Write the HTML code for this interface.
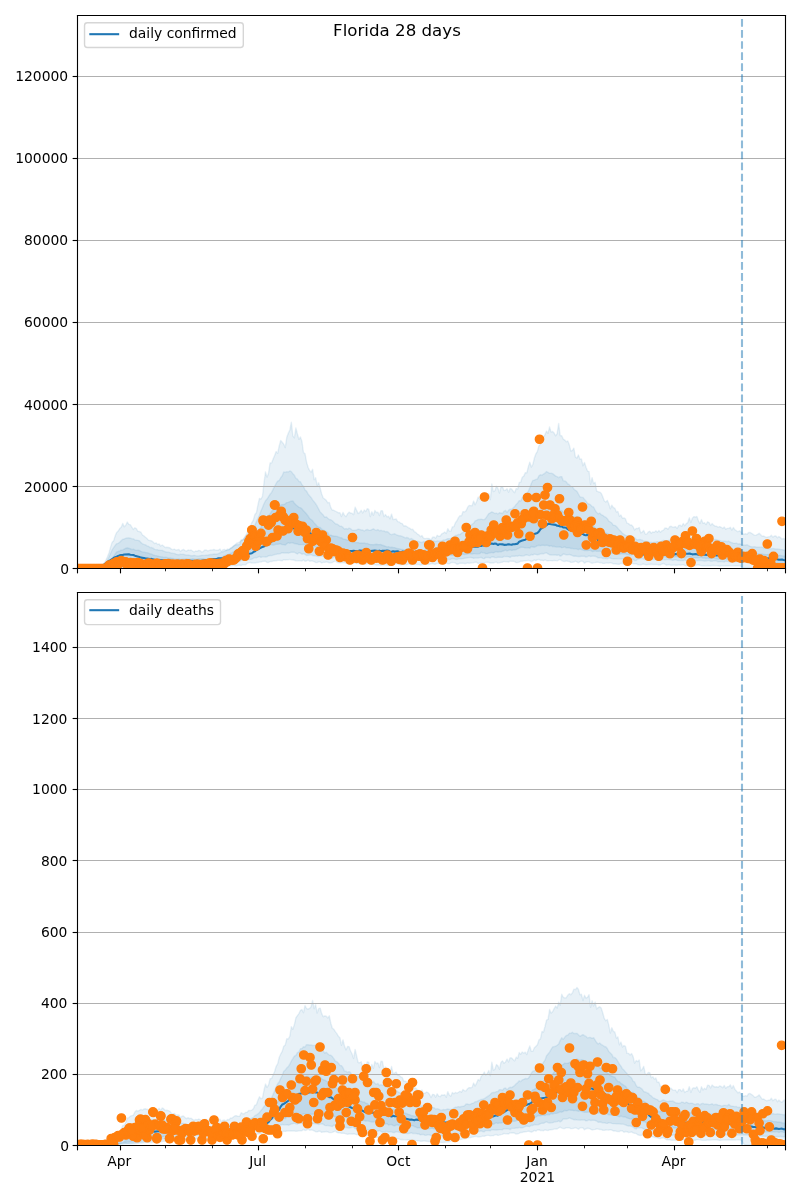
<!DOCTYPE html>
<html><head><meta charset="utf-8"><title>Florida 28 days</title>
<style>html,body{margin:0;padding:0;background:#fff;width:800px;height:1200px;overflow:hidden}svg{display:block;will-change:transform}</style></head><body>
<svg width="800" height="1200" viewBox="0 0 576 864" version="1.1">
 
 <defs>
  <style type="text/css">*{stroke-linejoin: round; stroke-linecap: butt}</style>
 </defs>
 <g id="figure_1">
  <g id="patch_1">
   <path d="M 0 864 
L 576 864 
L 576 0 
L 0 0 
z
" style="fill: #ffffff"/>
  </g>
  <g id="axes_1">
   <g id="patch_2">
    <path d="M 55.548 408.96 
L 565.20288 408.96 
L 565.20288 10.8 
L 55.548 10.8 
z
" style="fill: #ffffff"/>
   </g>
   <g id="FillBetweenPolyCollection_1">
    <defs>
     <path id="m5fece235d2" d="M 55.548 -455.04 
L 55.548 -455.04 
L 56.64168 -455.04 
L 57.73536 -455.04 
L 58.82904 -455.04 
L 59.92272 -455.04 
L 61.0164 -455.053448 
L 62.11008 -455.04 
L 63.20376 -455.085546 
L 64.29744 -455.04 
L 65.39112 -455.04 
L 66.4848 -455.04 
L 67.57848 -455.04 
L 68.67216 -455.04 
L 69.76584 -455.041145 
L 70.85952 -455.04 
L 71.9532 -455.193233 
L 73.04688 -455.256135 
L 74.14056 -455.283198 
L 75.23424 -455.174956 
L 76.32792 -455.238031 
L 77.4216 -455.080925 
L 78.51528 -455.079008 
L 79.60896 -455.180148 
L 80.70264 -455.195719 
L 81.79632 -455.047653 
L 82.89 -455.056411 
L 83.98368 -455.231377 
L 85.07736 -455.219064 
L 86.17104 -455.379794 
L 87.26472 -455.361993 
L 88.3584 -455.353535 
L 89.45208 -455.372654 
L 90.54576 -455.428062 
L 91.63944 -455.388473 
L 92.73312 -455.463944 
L 93.8268 -455.367399 
L 94.92048 -455.371368 
L 96.01416 -455.377531 
L 97.10784 -455.487534 
L 98.20152 -455.461662 
L 99.2952 -455.442455 
L 100.38888 -455.649883 
L 101.48256 -455.516541 
L 102.57624 -455.519796 
L 103.66992 -455.61157 
L 104.7636 -455.721255 
L 105.85728 -455.612196 
L 106.95096 -455.656541 
L 108.04464 -455.60629 
L 109.13832 -455.516176 
L 110.232 -455.706418 
L 111.32568 -455.761889 
L 112.41936 -455.675763 
L 113.51304 -455.660154 
L 114.60672 -455.549429 
L 115.7004 -455.557317 
L 116.79408 -455.692425 
L 117.88776 -455.799338 
L 118.98144 -455.752833 
L 120.07512 -455.828568 
L 121.1688 -455.902576 
L 122.26248 -455.863979 
L 123.35616 -455.922723 
L 124.44984 -455.974385 
L 125.54352 -455.807398 
L 126.6372 -455.898821 
L 127.73088 -455.764851 
L 128.82456 -455.931641 
L 129.91824 -455.957675 
L 131.01192 -455.892583 
L 132.1056 -455.86426 
L 133.19928 -455.95585 
L 134.29296 -455.969645 
L 135.38664 -456.006495 
L 136.48032 -455.965297 
L 137.574 -456.070177 
L 138.66768 -455.9741 
L 139.76136 -456.027494 
L 140.85504 -456.087405 
L 141.94872 -456.214952 
L 143.0424 -455.998301 
L 144.13608 -456.103646 
L 145.22976 -456.278536 
L 146.32344 -456.113747 
L 147.41712 -456.054968 
L 148.5108 -456.217058 
L 149.60448 -456.232818 
L 150.69816 -456.323776 
L 151.79184 -456.187174 
L 152.88552 -456.304931 
L 153.9792 -456.419878 
L 155.07288 -456.439439 
L 156.16656 -456.264075 
L 157.26024 -456.48221 
L 158.35392 -456.250773 
L 159.4476 -456.135022 
L 160.54128 -456.237249 
L 161.63496 -456.40415 
L 162.72864 -456.41011 
L 163.82232 -456.519348 
L 164.916 -456.561899 
L 166.00968 -456.591621 
L 167.10336 -456.723204 
L 168.19704 -457.070656 
L 169.29072 -456.575032 
L 170.3844 -456.670571 
L 171.47808 -457.048448 
L 172.57176 -457.003442 
L 173.66544 -456.855009 
L 174.75912 -457.361211 
L 175.8528 -457.508394 
L 176.94648 -457.348744 
L 178.04016 -458.412566 
L 179.13384 -458.945871 
L 180.22752 -459.007675 
L 181.3212 -458.606098 
L 182.41488 -458.762997 
L 183.50856 -458.618543 
L 184.60224 -459.008719 
L 185.69592 -458.958453 
L 186.7896 -459.295539 
L 187.88328 -459.294087 
L 188.97696 -459.785341 
L 190.07064 -459.925632 
L 191.16432 -459.918539 
L 192.258 -459.008182 
L 193.35168 -458.963829 
L 194.44536 -459.736266 
L 195.53904 -459.709841 
L 196.63272 -460.050225 
L 197.7264 -460.158174 
L 198.82008 -460.242819 
L 199.91376 -460.545286 
L 201.00744 -460.544975 
L 202.10112 -460.462695 
L 203.1948 -460.250391 
L 204.28848 -461.02821 
L 205.38216 -460.814615 
L 206.47584 -461.058854 
L 207.56952 -461.007155 
L 208.6632 -461.274394 
L 209.75688 -460.906778 
L 210.85056 -460.770639 
L 211.94424 -460.614981 
L 213.03792 -460.252282 
L 214.1316 -460.200282 
L 215.22528 -460.294488 
L 216.31896 -460.203393 
L 217.41264 -460.084328 
L 218.50632 -460.876269 
L 219.6 -459.933795 
L 220.69368 -460.059361 
L 221.78736 -460.777981 
L 222.88104 -459.929966 
L 223.97472 -460.121893 
L 225.0684 -460.058563 
L 226.16208 -459.583416 
L 227.25576 -459.009254 
L 228.34944 -458.921627 
L 229.44312 -459.421417 
L 230.5368 -459.426313 
L 231.63048 -458.655785 
L 232.72416 -459.14621 
L 233.81784 -459.084843 
L 234.91152 -459.447739 
L 236.0052 -459.168985 
L 237.09888 -458.729889 
L 238.19256 -458.764026 
L 239.28624 -459.00282 
L 240.37992 -459.571539 
L 241.4736 -460.012453 
L 242.56728 -459.121392 
L 243.66096 -458.824408 
L 244.75464 -458.907015 
L 245.84832 -458.709574 
L 246.942 -458.81386 
L 248.03568 -458.693872 
L 249.12936 -458.435662 
L 250.22304 -458.161946 
L 251.31672 -458.414084 
L 252.4104 -458.601444 
L 253.50408 -458.429834 
L 254.59776 -458.718964 
L 255.69144 -458.507001 
L 256.78512 -458.211583 
L 257.8788 -458.450449 
L 258.97248 -457.829234 
L 260.06616 -458.285477 
L 261.15984 -458.421116 
L 262.25352 -457.839202 
L 263.3472 -457.763237 
L 264.44088 -458.010527 
L 265.53456 -458.075893 
L 266.62824 -457.784294 
L 267.72192 -457.661056 
L 268.8156 -457.719237 
L 269.90928 -457.468688 
L 271.00296 -457.100214 
L 272.09664 -457.213801 
L 273.19032 -457.176371 
L 274.284 -456.94904 
L 275.37768 -457.257869 
L 276.47136 -457.191094 
L 277.56504 -457.381745 
L 278.65872 -457.008203 
L 279.7524 -457.024746 
L 280.84608 -457.082866 
L 281.93976 -457.705601 
L 283.03344 -457.876088 
L 284.12712 -457.949947 
L 285.2208 -457.961476 
L 286.31448 -457.853713 
L 287.40816 -457.715289 
L 288.50184 -457.215181 
L 289.59552 -457.554106 
L 290.6892 -457.489629 
L 291.78288 -457.464281 
L 292.87656 -457.404929 
L 293.97024 -457.962486 
L 295.06392 -457.741471 
L 296.1576 -457.385365 
L 297.25128 -457.80312 
L 298.34496 -457.728022 
L 299.43864 -457.499025 
L 300.53232 -457.632831 
L 301.626 -457.476815 
L 302.71968 -457.094416 
L 303.81336 -457.350271 
L 304.90704 -457.96697 
L 306.00072 -458.059329 
L 307.0944 -457.961957 
L 308.18808 -457.600309 
L 309.28176 -457.73677 
L 310.37544 -458.024491 
L 311.46912 -458.176452 
L 312.5628 -457.775266 
L 313.65648 -457.774855 
L 314.75016 -458.372048 
L 315.84384 -458.187481 
L 316.93752 -457.98243 
L 318.0312 -457.870974 
L 319.12488 -458.042535 
L 320.21856 -458.727038 
L 321.31224 -458.619304 
L 322.40592 -458.10988 
L 323.4996 -457.971618 
L 324.59328 -458.86632 
L 325.68696 -459.037927 
L 326.78064 -458.915381 
L 327.87432 -458.607424 
L 328.968 -457.749831 
L 330.06168 -457.904758 
L 331.15536 -458.527163 
L 332.24904 -458.438248 
L 333.34272 -458.526487 
L 334.4364 -458.313833 
L 335.53008 -458.322597 
L 336.62376 -458.683101 
L 337.71744 -458.495397 
L 338.81112 -458.605751 
L 339.9048 -458.748809 
L 340.99848 -458.853809 
L 342.09216 -459.218679 
L 343.18584 -459.179602 
L 344.27952 -458.336794 
L 345.3732 -458.512709 
L 346.46688 -458.591731 
L 347.56056 -458.943634 
L 348.65424 -458.569425 
L 349.74792 -459.100067 
L 350.8416 -459.227527 
L 351.93528 -459.085043 
L 353.02896 -458.609428 
L 354.12264 -458.718002 
L 355.21632 -458.605387 
L 356.31 -459.12709 
L 357.40368 -459.300646 
L 358.49736 -458.576453 
L 359.59104 -458.738935 
L 360.68472 -459.052357 
L 361.7784 -459.180498 
L 362.87208 -459.797683 
L 363.96576 -459.457461 
L 365.05944 -459.42555 
L 366.15312 -459.229704 
L 367.2468 -460.013758 
L 368.34048 -459.829212 
L 369.43416 -459.942427 
L 370.52784 -459.633831 
L 371.62152 -458.897258 
L 372.7152 -458.992944 
L 373.80888 -459.329524 
L 374.90256 -459.954204 
L 375.99624 -459.866784 
L 377.08992 -460.167716 
L 378.1836 -460.240589 
L 379.27728 -460.322034 
L 380.37096 -460.554475 
L 381.46464 -460.262002 
L 382.55832 -459.690208 
L 383.652 -460.123569 
L 384.74568 -460.870031 
L 385.83936 -460.321587 
L 386.93304 -461.050919 
L 388.02672 -461.222286 
L 389.1204 -460.577015 
L 390.21408 -460.661145 
L 391.30776 -460.335036 
L 392.40144 -460.907564 
L 393.49512 -460.430141 
L 394.5888 -460.139716 
L 395.68248 -460.363564 
L 396.77616 -460.345861 
L 397.86984 -460.300265 
L 398.96352 -460.48404 
L 400.0572 -460.3222 
L 401.15088 -460.187334 
L 402.24456 -460.775415 
L 403.33824 -461.184045 
L 404.43192 -460.351165 
L 405.5256 -459.82507 
L 406.61928 -459.730133 
L 407.71296 -460.14804 
L 408.80664 -459.934895 
L 409.90032 -459.760101 
L 410.994 -459.082121 
L 412.08768 -459.177558 
L 413.18136 -459.336648 
L 414.27504 -459.93087 
L 415.36872 -459.439621 
L 416.4624 -458.735978 
L 417.55608 -459.60992 
L 418.64976 -460.022084 
L 419.74344 -459.766738 
L 420.83712 -458.4998 
L 421.9308 -459.226854 
L 423.02448 -459.612299 
L 424.11816 -459.471247 
L 425.21184 -458.985751 
L 426.30552 -458.418589 
L 427.3992 -458.736428 
L 428.49288 -458.891842 
L 429.58656 -459.167043 
L 430.68024 -459.136723 
L 431.77392 -458.858099 
L 432.8676 -458.977252 
L 433.96128 -458.361594 
L 435.05496 -458.34419 
L 436.14864 -458.593516 
L 437.24232 -458.72954 
L 438.336 -458.525081 
L 439.42968 -458.865953 
L 440.52336 -458.548715 
L 441.61704 -458.066668 
L 442.71072 -458.186538 
L 443.8044 -457.893599 
L 444.89808 -457.726947 
L 445.99176 -457.717644 
L 447.08544 -458.468938 
L 448.17912 -458.317452 
L 449.2728 -457.694315 
L 450.36648 -458.297578 
L 451.46016 -458.313485 
L 452.55384 -457.951408 
L 453.64752 -458.200327 
L 454.7412 -458.598566 
L 455.83488 -458.133475 
L 456.92856 -458.07039 
L 458.02224 -458.11827 
L 459.11592 -457.531379 
L 460.2096 -457.31421 
L 461.30328 -457.319248 
L 462.39696 -457.699029 
L 463.49064 -457.903098 
L 464.58432 -457.450415 
L 465.678 -457.28874 
L 466.77168 -457.615674 
L 467.86536 -457.587815 
L 468.95904 -457.740784 
L 470.05272 -457.58381 
L 471.1464 -457.514276 
L 472.24008 -457.519574 
L 473.33376 -457.478848 
L 474.42744 -457.214038 
L 475.52112 -457.242228 
L 476.6148 -457.926112 
L 477.70848 -458.28413 
L 478.80216 -457.736313 
L 479.89584 -457.066919 
L 480.98952 -457.344275 
L 482.0832 -457.524698 
L 483.17688 -456.986371 
L 484.27056 -457.085877 
L 485.36424 -457.110161 
L 486.45792 -456.98658 
L 487.5516 -457.043053 
L 488.64528 -457.346436 
L 489.73896 -457.109425 
L 490.83264 -457.153072 
L 491.92632 -457.420999 
L 493.02 -456.917762 
L 494.11368 -456.685053 
L 495.20736 -457.178841 
L 496.30104 -457.448135 
L 497.39472 -457.134945 
L 498.4884 -456.990088 
L 499.58208 -456.686982 
L 500.67576 -456.762255 
L 501.76944 -457.181465 
L 502.86312 -457.183239 
L 503.9568 -456.982017 
L 505.05048 -456.705248 
L 506.14416 -456.556322 
L 507.23784 -456.544363 
L 508.33152 -456.581411 
L 509.4252 -456.816882 
L 510.51888 -456.641073 
L 511.61256 -456.669035 
L 512.70624 -456.862654 
L 513.79992 -456.864043 
L 514.8936 -456.760925 
L 515.98728 -456.777755 
L 517.08096 -456.634596 
L 518.17464 -456.358428 
L 519.26832 -456.563429 
L 520.362 -456.560792 
L 521.45568 -456.566683 
L 522.54936 -456.621339 
L 523.64304 -456.562383 
L 524.73672 -456.749352 
L 525.8304 -456.593248 
L 526.92408 -456.590697 
L 528.01776 -456.596043 
L 529.11144 -456.539495 
L 530.20512 -456.63304 
L 531.2988 -456.65584 
L 532.39248 -456.585499 
L 533.48616 -456.371532 
L 534.57984 -455.399408 
L 535.67352 -455.04 
L 536.7672 -455.04 
L 537.86088 -455.04 
L 538.95456 -455.04 
L 540.04824 -455.04 
L 541.14192 -455.04 
L 542.2356 -455.04 
L 543.32928 -455.04 
L 544.42296 -455.04 
L 545.51664 -455.04 
L 546.61032 -455.04 
L 547.704 -455.04 
L 548.79768 -455.04 
L 549.89136 -455.04 
L 550.98504 -455.04 
L 552.07872 -455.04 
L 553.1724 -455.04 
L 554.26608 -455.04 
L 555.35976 -455.04 
L 556.45344 -455.04 
L 557.54712 -455.04 
L 558.6408 -455.04 
L 559.73448 -455.04 
L 560.82816 -455.04 
L 561.92184 -455.04 
L 563.01552 -455.04 
L 564.1092 -455.04 
L 565.20288 -455.04 
L 565.20288 -475.935847 
L 565.20288 -475.935847 
L 564.1092 -476.268742 
L 563.01552 -475.953919 
L 561.92184 -476.918602 
L 560.82816 -477.724429 
L 559.73448 -476.796559 
L 558.6408 -478.185858 
L 557.54712 -478.047993 
L 556.45344 -477.231559 
L 555.35976 -478.687583 
L 554.26608 -477.612274 
L 553.1724 -477.465542 
L 552.07872 -477.150972 
L 550.98504 -477.5113 
L 549.89136 -478.04256 
L 548.79768 -477.93531 
L 547.704 -478.991022 
L 546.61032 -480.076767 
L 545.51664 -479.250725 
L 544.42296 -478.739888 
L 543.32928 -478.515832 
L 542.2356 -479.358196 
L 541.14192 -479.99039 
L 540.04824 -480.626983 
L 538.95456 -480.622082 
L 537.86088 -479.389247 
L 536.7672 -479.703509 
L 535.67352 -479.436965 
L 534.57984 -479.670696 
L 533.48616 -481.013376 
L 532.39248 -481.847285 
L 531.2988 -481.105645 
L 530.20512 -481.891055 
L 529.11144 -482.57474 
L 528.01776 -484.190522 
L 526.92408 -482.314202 
L 525.8304 -484.331373 
L 524.73672 -483.537462 
L 523.64304 -483.595408 
L 522.54936 -482.930957 
L 521.45568 -484.647122 
L 520.362 -483.538733 
L 519.26832 -484.354005 
L 518.17464 -484.871579 
L 517.08096 -484.440593 
L 515.98728 -485.061314 
L 514.8936 -485.228557 
L 513.79992 -485.856847 
L 512.70624 -487.028799 
L 511.61256 -485.711881 
L 510.51888 -487.739341 
L 509.4252 -488.314022 
L 508.33152 -486.284553 
L 507.23784 -487.624395 
L 506.14416 -487.199444 
L 505.05048 -489.940548 
L 503.9568 -487.005671 
L 502.86312 -488.999902 
L 501.76944 -492.113936 
L 500.67576 -491.716006 
L 499.58208 -492.030302 
L 498.4884 -490.910279 
L 497.39472 -487.763551 
L 496.30104 -491.17581 
L 495.20736 -487.760322 
L 494.11368 -487.031655 
L 493.02 -485.517603 
L 491.92632 -487.08611 
L 490.83264 -485.000833 
L 489.73896 -485.906133 
L 488.64528 -485.639458 
L 487.5516 -483.532732 
L 486.45792 -484.81889 
L 485.36424 -484.538531 
L 484.27056 -484.464726 
L 483.17688 -485.104819 
L 482.0832 -484.7351 
L 480.98952 -482.943827 
L 479.89584 -483.779032 
L 478.80216 -483.865842 
L 477.70848 -482.307811 
L 476.6148 -481.809727 
L 475.52112 -480.75991 
L 474.42744 -481.990816 
L 473.33376 -480.711691 
L 472.24008 -481.887786 
L 471.1464 -480.699169 
L 470.05272 -481.057987 
L 468.95904 -480.033009 
L 467.86536 -481.463534 
L 466.77168 -481.038447 
L 465.678 -479.582947 
L 464.58432 -479.451002 
L 463.49064 -482.110433 
L 462.39696 -480.932173 
L 461.30328 -480.345895 
L 460.2096 -484.195082 
L 459.11592 -483.397656 
L 458.02224 -483.577849 
L 456.92856 -482.433837 
L 455.83488 -484.709307 
L 454.7412 -486.035624 
L 453.64752 -485.992428 
L 452.55384 -486.991766 
L 451.46016 -487.331685 
L 450.36648 -490.374255 
L 449.2728 -491.116606 
L 448.17912 -490.829042 
L 447.08544 -493.223171 
L 445.99176 -492.25065 
L 444.89808 -495.79156 
L 443.8044 -495.340472 
L 442.71072 -498.101847 
L 441.61704 -498.575942 
L 440.52336 -500.30912 
L 439.42968 -497.649398 
L 438.336 -501.255567 
L 437.24232 -503.746095 
L 436.14864 -502.56239 
L 435.05496 -503.455275 
L 433.96128 -506.421381 
L 432.8676 -508.899674 
L 431.77392 -509.721816 
L 430.68024 -509.969844 
L 429.58656 -510.46655 
L 428.49288 -516.731896 
L 427.3992 -515.796076 
L 426.30552 -520.114817 
L 425.21184 -515.358787 
L 424.11816 -524.471329 
L 423.02448 -524.830756 
L 421.9308 -527.65506 
L 420.83712 -530.993188 
L 419.74344 -528.607239 
L 418.64976 -533.603135 
L 417.55608 -533.343886 
L 416.4624 -536.4962 
L 415.36872 -534.15862 
L 414.27504 -534.903875 
L 413.18136 -541.381611 
L 412.08768 -539.642911 
L 410.994 -539.217285 
L 409.90032 -543.709124 
L 408.80664 -546.457264 
L 407.71296 -545.950584 
L 406.61928 -547.150926 
L 405.5256 -547.855447 
L 404.43192 -550.308299 
L 403.33824 -550.378901 
L 402.24456 -559.142435 
L 401.15088 -551.816673 
L 400.0572 -550.22101 
L 398.96352 -552.178655 
L 397.86984 -553.336392 
L 396.77616 -552.895501 
L 395.68248 -556.545211 
L 394.5888 -551.971967 
L 393.49512 -553.591487 
L 392.40144 -551.14109 
L 391.30776 -549.335956 
L 390.21408 -550.256127 
L 389.1204 -544.332418 
L 388.02672 -543.071938 
L 386.93304 -539.070885 
L 385.83936 -537.248275 
L 384.74568 -534.255743 
L 383.652 -529.625107 
L 382.55832 -527.737563 
L 381.46464 -531.277124 
L 380.37096 -527.880846 
L 379.27728 -523.583282 
L 378.1836 -523.655066 
L 377.08992 -521.190623 
L 375.99624 -520.36445 
L 374.90256 -516.819011 
L 373.80888 -516.573004 
L 372.7152 -511.921098 
L 371.62152 -512.219072 
L 370.52784 -509.258586 
L 369.43416 -510.468413 
L 368.34048 -511.965959 
L 367.2468 -512.26656 
L 366.15312 -509.604288 
L 365.05944 -512.178265 
L 363.96576 -510.97449 
L 362.87208 -510.885979 
L 361.7784 -513.577686 
L 360.68472 -513.381331 
L 359.59104 -509.035589 
L 358.49736 -512.548249 
L 357.40368 -513.988119 
L 356.31 -510.696537 
L 355.21632 -510.035527 
L 354.12264 -515.62267 
L 353.02896 -504.239108 
L 351.93528 -508.749941 
L 350.8416 -506.865027 
L 349.74792 -506.165019 
L 348.65424 -509.13228 
L 347.56056 -507.272137 
L 346.46688 -507.216934 
L 345.3732 -504.624961 
L 344.27952 -506.146279 
L 343.18584 -502.925555 
L 342.09216 -500.549707 
L 340.99848 -503.249737 
L 339.9048 -499.864452 
L 338.81112 -499.952968 
L 337.71744 -500.077197 
L 336.62376 -498.658189 
L 335.53008 -496.166314 
L 334.4364 -495.435998 
L 333.34272 -495.657691 
L 332.24904 -492.57569 
L 331.15536 -492.740254 
L 330.06168 -491.269737 
L 328.968 -489.068264 
L 327.87432 -487.615962 
L 326.78064 -484.825877 
L 325.68696 -484.683277 
L 324.59328 -481.565524 
L 323.4996 -481.656846 
L 322.40592 -483.368884 
L 321.31224 -479.924727 
L 320.21856 -481.024634 
L 319.12488 -480.045997 
L 318.0312 -479.616522 
L 316.93752 -477.991754 
L 315.84384 -477.873816 
L 314.75016 -478.566288 
L 313.65648 -476.488251 
L 312.5628 -477.39152 
L 311.46912 -477.232609 
L 310.37544 -475.206013 
L 309.28176 -476.09718 
L 308.18808 -476.388369 
L 307.0944 -476.368678 
L 306.00072 -476.205463 
L 304.90704 -476.521157 
L 303.81336 -478.387379 
L 302.71968 -477.6283 
L 301.626 -478.891982 
L 300.53232 -479.493672 
L 299.43864 -480.657581 
L 298.34496 -481.219628 
L 297.25128 -482.911938 
L 296.1576 -482.690109 
L 295.06392 -483.744601 
L 293.97024 -484.094576 
L 292.87656 -484.942309 
L 291.78288 -485.43001 
L 290.6892 -485.323037 
L 289.59552 -487.06029 
L 288.50184 -487.245244 
L 287.40816 -488.249347 
L 286.31448 -488.438099 
L 285.2208 -490.40625 
L 284.12712 -490.135591 
L 283.03344 -489.97927 
L 281.93976 -493.885869 
L 280.84608 -490.433477 
L 279.7524 -492.320028 
L 278.65872 -491.872276 
L 277.56504 -493.548768 
L 276.47136 -492.027814 
L 275.37768 -496.243354 
L 274.284 -496.287858 
L 273.19032 -492.818641 
L 272.09664 -495.193287 
L 271.00296 -494.970708 
L 269.90928 -496.489781 
L 268.8156 -493.080007 
L 267.72192 -495.511528 
L 266.62824 -492.019538 
L 265.53456 -497.197055 
L 264.44088 -497.782634 
L 263.3472 -495.701738 
L 262.25352 -496.781504 
L 261.15984 -494.615845 
L 260.06616 -496.608318 
L 258.97248 -495.061574 
L 257.8788 -494.220608 
L 256.78512 -496.573473 
L 255.69144 -498.840018 
L 254.59776 -493.440473 
L 253.50408 -494.511262 
L 252.4104 -494.572983 
L 251.31672 -495.256132 
L 250.22304 -494.015182 
L 249.12936 -491.972122 
L 248.03568 -493.003192 
L 246.942 -495.087158 
L 245.84832 -492.112461 
L 244.75464 -494.789423 
L 243.66096 -494.795119 
L 242.56728 -495.433666 
L 241.4736 -495.919046 
L 240.37992 -496.572418 
L 239.28624 -496.641867 
L 238.19256 -498.504478 
L 237.09888 -502.251201 
L 236.0052 -502.003889 
L 234.91152 -503.738145 
L 233.81784 -504.743137 
L 232.72416 -505.476211 
L 231.63048 -508.317446 
L 230.5368 -512.59417 
L 229.44312 -516.459647 
L 228.34944 -514.575446 
L 227.25576 -520.055752 
L 226.16208 -518.631402 
L 225.0684 -526.143769 
L 223.97472 -524.063686 
L 222.88104 -525.295422 
L 221.78736 -527.565909 
L 220.69368 -531.488181 
L 219.6 -537.48002 
L 218.50632 -538.097479 
L 217.41264 -546.133138 
L 216.31896 -549.424641 
L 215.22528 -547.648124 
L 214.1316 -551.548749 
L 213.03792 -555.889687 
L 211.94424 -548.762468 
L 210.85056 -550.261762 
L 209.75688 -560.085758 
L 208.6632 -554.297268 
L 207.56952 -552.142081 
L 206.47584 -549.188216 
L 205.38216 -541.725793 
L 204.28848 -544.255287 
L 203.1948 -545.60063 
L 202.10112 -546.83907 
L 201.00744 -542.941113 
L 199.91376 -537.540907 
L 198.82008 -538.927505 
L 197.7264 -536.019106 
L 196.63272 -533.563577 
L 195.53904 -530.726185 
L 194.44536 -530.731277 
L 193.35168 -523.403649 
L 192.258 -520.461522 
L 191.16432 -524.255673 
L 190.07064 -516.328066 
L 188.97696 -506.730854 
L 187.88328 -504.637468 
L 186.7896 -505.181728 
L 185.69592 -500.469618 
L 184.60224 -494.794808 
L 183.50856 -493.571559 
L 182.41488 -489.518539 
L 181.3212 -487.745791 
L 180.22752 -485.139888 
L 179.13384 -483.613207 
L 178.04016 -480.477761 
L 176.94648 -478.565004 
L 175.8528 -476.208517 
L 174.75912 -475.315808 
L 173.66544 -475.185935 
L 172.57176 -472.00569 
L 171.47808 -471.74697 
L 170.3844 -471.800887 
L 169.29072 -471.592608 
L 168.19704 -470.639567 
L 167.10336 -469.554196 
L 166.00968 -469.431528 
L 164.916 -468.315693 
L 163.82232 -468.762975 
L 162.72864 -467.729438 
L 161.63496 -468.432817 
L 160.54128 -468.255994 
L 159.4476 -467.031277 
L 158.35392 -468.73271 
L 157.26024 -467.938702 
L 156.16656 -467.945121 
L 155.07288 -468.080146 
L 153.9792 -468.360131 
L 152.88552 -468.085214 
L 151.79184 -468.018202 
L 150.69816 -467.722342 
L 149.60448 -467.322493 
L 148.5108 -467.980613 
L 147.41712 -468.036102 
L 146.32344 -466.858784 
L 145.22976 -466.568829 
L 144.13608 -467.499366 
L 143.0424 -467.758795 
L 141.94872 -467.044689 
L 140.85504 -467.269842 
L 139.76136 -466.58375 
L 138.66768 -467.2522 
L 137.574 -467.977077 
L 136.48032 -467.684845 
L 135.38664 -468.00888 
L 134.29296 -467.219512 
L 133.19928 -467.551372 
L 132.1056 -468.428029 
L 131.01192 -467.958774 
L 129.91824 -466.985743 
L 128.82456 -468.340913 
L 127.73088 -468.112629 
L 126.6372 -467.977327 
L 125.54352 -468.649627 
L 124.44984 -468.25635 
L 123.35616 -468.63643 
L 122.26248 -469.628563 
L 121.1688 -469.838575 
L 120.07512 -469.967958 
L 118.98144 -469.791244 
L 117.88776 -470.782838 
L 116.79408 -471.615588 
L 115.7004 -470.86642 
L 114.60672 -472.327209 
L 113.51304 -471.988088 
L 112.41936 -473.141193 
L 111.32568 -472.658159 
L 110.232 -473.784613 
L 109.13832 -474.585925 
L 108.04464 -474.844701 
L 106.95096 -474.978629 
L 105.85728 -476.219149 
L 104.7636 -477.138898 
L 103.66992 -478.160477 
L 102.57624 -478.780388 
L 101.48256 -480.799217 
L 100.38888 -481.317277 
L 99.2952 -481.461442 
L 98.20152 -483.341068 
L 97.10784 -484.046333 
L 96.01416 -482.825918 
L 94.92048 -484.469239 
L 93.8268 -486.197196 
L 92.73312 -486.473578 
L 91.63944 -488.132346 
L 90.54576 -485.859881 
L 89.45208 -484.782437 
L 88.3584 -487.154902 
L 87.26472 -484.381799 
L 86.17104 -483.427924 
L 85.07736 -481.647151 
L 83.98368 -480.672567 
L 82.89 -478.078733 
L 81.79632 -474.578044 
L 80.70264 -473.608904 
L 79.60896 -470.061994 
L 78.51528 -466.025254 
L 77.4216 -463.261997 
L 76.32792 -460.914316 
L 75.23424 -458.808169 
L 74.14056 -457.650203 
L 73.04688 -456.59919 
L 71.9532 -455.721713 
L 70.85952 -455.099105 
L 69.76584 -455.232592 
L 68.67216 -455.04 
L 67.57848 -455.538015 
L 66.4848 -455.219252 
L 65.39112 -455.323849 
L 64.29744 -455.323 
L 63.20376 -455.401049 
L 62.11008 -455.04 
L 61.0164 -455.250514 
L 59.92272 -455.459478 
L 58.82904 -455.04 
L 57.73536 -455.071249 
L 56.64168 -455.2976 
L 55.548 -455.04 
z
" style="stroke: #1f77b4; stroke-opacity: 0.1"/>
    </defs>
    <g clip-path="url(#p409145b264)">
     <use href="#m5fece235d2" x="0" y="864" style="fill: #1f77b4; fill-opacity: 0.1; stroke: #1f77b4; stroke-opacity: 0.1"/>
    </g>
   </g>
   <g id="FillBetweenPolyCollection_2">
    <defs>
     <path id="m4835b5a476" d="M 55.548 -455.04 
L 55.548 -455.04 
L 56.64168 -455.04 
L 57.73536 -455.04 
L 58.82904 -455.04 
L 59.92272 -455.077501 
L 61.0164 -455.04 
L 62.11008 -455.04 
L 63.20376 -455.04 
L 64.29744 -455.201425 
L 65.39112 -455.320825 
L 66.4848 -455.226986 
L 67.57848 -455.111615 
L 68.67216 -455.193772 
L 69.76584 -455.436215 
L 70.85952 -455.362777 
L 71.9532 -455.234868 
L 73.04688 -455.361295 
L 74.14056 -455.345338 
L 75.23424 -455.412708 
L 76.32792 -455.469012 
L 77.4216 -455.513761 
L 78.51528 -455.647583 
L 79.60896 -455.645213 
L 80.70264 -455.644031 
L 81.79632 -455.768153 
L 82.89 -455.815371 
L 83.98368 -455.669416 
L 85.07736 -455.769275 
L 86.17104 -455.784891 
L 87.26472 -455.85935 
L 88.3584 -455.83893 
L 89.45208 -455.970287 
L 90.54576 -456.022855 
L 91.63944 -456.022203 
L 92.73312 -456.00191 
L 93.8268 -456.070211 
L 94.92048 -456.05424 
L 96.01416 -456.0857 
L 97.10784 -456.232863 
L 98.20152 -456.226149 
L 99.2952 -456.431433 
L 100.38888 -456.421209 
L 101.48256 -456.254135 
L 102.57624 -456.415087 
L 103.66992 -456.396273 
L 104.7636 -456.508604 
L 105.85728 -456.530587 
L 106.95096 -456.422739 
L 108.04464 -456.576712 
L 109.13832 -456.668935 
L 110.232 -456.77342 
L 111.32568 -456.681672 
L 112.41936 -456.813894 
L 113.51304 -456.737991 
L 114.60672 -456.798592 
L 115.7004 -456.848955 
L 116.79408 -457.07794 
L 117.88776 -457.119549 
L 118.98144 -457.289816 
L 120.07512 -457.195268 
L 121.1688 -457.21697 
L 122.26248 -457.228471 
L 123.35616 -457.124157 
L 124.44984 -457.219689 
L 125.54352 -457.387783 
L 126.6372 -457.278289 
L 127.73088 -457.335384 
L 128.82456 -457.379527 
L 129.91824 -457.462877 
L 131.01192 -457.405475 
L 132.1056 -457.453882 
L 133.19928 -457.543005 
L 134.29296 -457.548083 
L 135.38664 -457.505842 
L 136.48032 -457.684655 
L 137.574 -457.484472 
L 138.66768 -457.467166 
L 139.76136 -457.559516 
L 140.85504 -457.865393 
L 141.94872 -457.76713 
L 143.0424 -457.671684 
L 144.13608 -457.712685 
L 145.22976 -457.924966 
L 146.32344 -457.78635 
L 147.41712 -457.802519 
L 148.5108 -458.059024 
L 149.60448 -457.909113 
L 150.69816 -458.031456 
L 151.79184 -458.133026 
L 152.88552 -458.124758 
L 153.9792 -458.258378 
L 155.07288 -458.473511 
L 156.16656 -458.229258 
L 157.26024 -458.0543 
L 158.35392 -458.023278 
L 159.4476 -458.310544 
L 160.54128 -458.405304 
L 161.63496 -458.518012 
L 162.72864 -458.449742 
L 163.82232 -458.44684 
L 164.916 -458.446725 
L 166.00968 -458.602517 
L 167.10336 -458.934217 
L 168.19704 -459.091665 
L 169.29072 -459.471874 
L 170.3844 -460.06461 
L 171.47808 -459.948432 
L 172.57176 -459.755443 
L 173.66544 -460.641534 
L 174.75912 -460.614293 
L 175.8528 -460.497978 
L 176.94648 -461.120215 
L 178.04016 -461.152773 
L 179.13384 -461.107955 
L 180.22752 -461.242006 
L 181.3212 -461.401825 
L 182.41488 -462.025651 
L 183.50856 -462.577854 
L 184.60224 -462.395433 
L 185.69592 -462.835051 
L 186.7896 -463.342942 
L 187.88328 -462.645847 
L 188.97696 -463.060815 
L 190.07064 -463.088093 
L 191.16432 -462.954253 
L 192.258 -463.157389 
L 193.35168 -463.72226 
L 194.44536 -464.055994 
L 195.53904 -463.965502 
L 196.63272 -464.321599 
L 197.7264 -464.74119 
L 198.82008 -464.856624 
L 199.91376 -465.167359 
L 201.00744 -465.2408 
L 202.10112 -465.492462 
L 203.1948 -466.047624 
L 204.28848 -465.858783 
L 205.38216 -465.809372 
L 206.47584 -466.025545 
L 207.56952 -465.710513 
L 208.6632 -466.049842 
L 209.75688 -466.382395 
L 210.85056 -466.343245 
L 211.94424 -466.401711 
L 213.03792 -465.680459 
L 214.1316 -465.165644 
L 215.22528 -466.055899 
L 216.31896 -465.712874 
L 217.41264 -464.936532 
L 218.50632 -465.39451 
L 219.6 -464.828311 
L 220.69368 -464.044007 
L 221.78736 -464.252673 
L 222.88104 -464.348818 
L 223.97472 -464.766058 
L 225.0684 -463.988103 
L 226.16208 -463.85946 
L 227.25576 -463.747565 
L 228.34944 -463.532591 
L 229.44312 -463.285037 
L 230.5368 -463.572496 
L 231.63048 -463.789822 
L 232.72416 -463.440907 
L 233.81784 -462.705795 
L 234.91152 -462.46928 
L 236.0052 -462.70098 
L 237.09888 -462.374712 
L 238.19256 -462.155796 
L 239.28624 -461.989184 
L 240.37992 -463.035851 
L 241.4736 -462.726061 
L 242.56728 -462.046653 
L 243.66096 -462.524014 
L 244.75464 -462.460815 
L 245.84832 -461.239575 
L 246.942 -461.54563 
L 248.03568 -461.742587 
L 249.12936 -461.977436 
L 250.22304 -461.705583 
L 251.31672 -461.549869 
L 252.4104 -461.658941 
L 253.50408 -462.239343 
L 254.59776 -462.199362 
L 255.69144 -461.250528 
L 256.78512 -461.111564 
L 257.8788 -461.891279 
L 258.97248 -460.942392 
L 260.06616 -460.792057 
L 261.15984 -460.955982 
L 262.25352 -461.08465 
L 263.3472 -461.15262 
L 264.44088 -460.843369 
L 265.53456 -460.451414 
L 266.62824 -460.672519 
L 267.72192 -460.701604 
L 268.8156 -460.939876 
L 269.90928 -460.36539 
L 271.00296 -459.847878 
L 272.09664 -459.919069 
L 273.19032 -460.393928 
L 274.284 -459.926328 
L 275.37768 -459.528809 
L 276.47136 -459.899317 
L 277.56504 -460.234761 
L 278.65872 -460.489666 
L 279.7524 -460.103836 
L 280.84608 -460.465747 
L 281.93976 -460.545303 
L 283.03344 -460.213448 
L 284.12712 -460.411721 
L 285.2208 -461.007129 
L 286.31448 -461.094848 
L 287.40816 -460.858686 
L 288.50184 -460.744897 
L 289.59552 -460.897129 
L 290.6892 -460.623457 
L 291.78288 -460.545631 
L 292.87656 -460.415875 
L 293.97024 -460.643636 
L 295.06392 -460.881414 
L 296.1576 -461.554381 
L 297.25128 -460.996509 
L 298.34496 -461.277142 
L 299.43864 -461.324907 
L 300.53232 -461.002745 
L 301.626 -461.13096 
L 302.71968 -460.393852 
L 303.81336 -460.942808 
L 304.90704 -461.143303 
L 306.00072 -460.314061 
L 307.0944 -460.655143 
L 308.18808 -461.36506 
L 309.28176 -461.083374 
L 310.37544 -460.814281 
L 311.46912 -461.004953 
L 312.5628 -461.118351 
L 313.65648 -461.522876 
L 314.75016 -461.50749 
L 315.84384 -461.261322 
L 316.93752 -461.161482 
L 318.0312 -461.460604 
L 319.12488 -461.917653 
L 320.21856 -461.750833 
L 321.31224 -461.756314 
L 322.40592 -461.469303 
L 323.4996 -461.107944 
L 324.59328 -461.348641 
L 325.68696 -461.840195 
L 326.78064 -461.715105 
L 327.87432 -461.315237 
L 328.968 -461.155789 
L 330.06168 -461.692647 
L 331.15536 -461.697131 
L 332.24904 -461.694148 
L 333.34272 -461.778789 
L 334.4364 -462.028077 
L 335.53008 -462.161865 
L 336.62376 -462.429788 
L 337.71744 -462.532391 
L 338.81112 -462.665798 
L 339.9048 -462.457791 
L 340.99848 -462.069714 
L 342.09216 -462.157389 
L 343.18584 -462.344628 
L 344.27952 -462.200545 
L 345.3732 -462.521999 
L 346.46688 -462.685644 
L 347.56056 -462.001666 
L 348.65424 -461.769334 
L 349.74792 -462.686168 
L 350.8416 -462.580913 
L 351.93528 -462.614756 
L 353.02896 -462.211955 
L 354.12264 -463.097206 
L 355.21632 -462.946043 
L 356.31 -462.582011 
L 357.40368 -462.550174 
L 358.49736 -462.758269 
L 359.59104 -462.768047 
L 360.68472 -462.725785 
L 361.7784 -462.682785 
L 362.87208 -463.443291 
L 363.96576 -463.25458 
L 365.05944 -463.279822 
L 366.15312 -463.191626 
L 367.2468 -462.628407 
L 368.34048 -463.478346 
L 369.43416 -463.479422 
L 370.52784 -463.53794 
L 371.62152 -463.67085 
L 372.7152 -463.549586 
L 373.80888 -464.077084 
L 374.90256 -463.737634 
L 375.99624 -463.633119 
L 377.08992 -463.791249 
L 378.1836 -464.280977 
L 379.27728 -464.545923 
L 380.37096 -464.130098 
L 381.46464 -463.982392 
L 382.55832 -464.74203 
L 383.652 -464.438792 
L 384.74568 -465.062837 
L 385.83936 -464.82633 
L 386.93304 -464.591108 
L 388.02672 -464.72832 
L 389.1204 -465.235826 
L 390.21408 -465.469762 
L 391.30776 -465.286992 
L 392.40144 -465.776776 
L 393.49512 -466.019118 
L 394.5888 -465.151466 
L 395.68248 -464.580182 
L 396.77616 -464.444256 
L 397.86984 -464.316762 
L 398.96352 -464.476931 
L 400.0572 -464.385634 
L 401.15088 -464.234476 
L 402.24456 -464.53315 
L 403.33824 -463.589733 
L 404.43192 -463.98683 
L 405.5256 -465.114546 
L 406.61928 -464.910061 
L 407.71296 -464.576604 
L 408.80664 -464.540951 
L 409.90032 -464.833161 
L 410.994 -464.389118 
L 412.08768 -463.962351 
L 413.18136 -463.480871 
L 414.27504 -463.667193 
L 415.36872 -463.450882 
L 416.4624 -463.337223 
L 417.55608 -463.314182 
L 418.64976 -463.455342 
L 419.74344 -463.423263 
L 420.83712 -463.586334 
L 421.9308 -462.916447 
L 423.02448 -463.238898 
L 424.11816 -463.831615 
L 425.21184 -463.35746 
L 426.30552 -463.551391 
L 427.3992 -463.557959 
L 428.49288 -463.50007 
L 429.58656 -463.076481 
L 430.68024 -462.29655 
L 431.77392 -462.447623 
L 432.8676 -462.33067 
L 433.96128 -461.918989 
L 435.05496 -462.081079 
L 436.14864 -461.781411 
L 437.24232 -461.644343 
L 438.336 -462.182793 
L 439.42968 -462.113254 
L 440.52336 -461.773955 
L 441.61704 -461.590578 
L 442.71072 -461.655671 
L 443.8044 -461.666123 
L 444.89808 -461.627512 
L 445.99176 -461.648087 
L 447.08544 -461.559323 
L 448.17912 -461.788754 
L 449.2728 -461.851495 
L 450.36648 -461.703663 
L 451.46016 -461.328125 
L 452.55384 -461.317652 
L 453.64752 -461.593114 
L 454.7412 -461.441797 
L 455.83488 -461.248494 
L 456.92856 -460.424771 
L 458.02224 -460.373882 
L 459.11592 -461.307903 
L 460.2096 -461.557014 
L 461.30328 -461.818475 
L 462.39696 -461.612858 
L 463.49064 -461.36603 
L 464.58432 -461.141843 
L 465.678 -460.804037 
L 466.77168 -461.298497 
L 467.86536 -461.035859 
L 468.95904 -461.229288 
L 470.05272 -461.184378 
L 471.1464 -461.197487 
L 472.24008 -461.270597 
L 473.33376 -460.870466 
L 474.42744 -460.753846 
L 475.52112 -460.62317 
L 476.6148 -460.837946 
L 477.70848 -461.314647 
L 478.80216 -460.913171 
L 479.89584 -461.187104 
L 480.98952 -461.142109 
L 482.0832 -461.065531 
L 483.17688 -460.938019 
L 484.27056 -460.476831 
L 485.36424 -460.807815 
L 486.45792 -461.068212 
L 487.5516 -460.505079 
L 488.64528 -460.482673 
L 489.73896 -460.373896 
L 490.83264 -460.504014 
L 491.92632 -460.308231 
L 493.02 -460.819829 
L 494.11368 -460.335039 
L 495.20736 -460.068051 
L 496.30104 -460.827213 
L 497.39472 -460.741196 
L 498.4884 -460.542911 
L 499.58208 -460.439883 
L 500.67576 -460.182911 
L 501.76944 -460.192917 
L 502.86312 -460.430325 
L 503.9568 -460.50403 
L 505.05048 -460.447839 
L 506.14416 -460.195311 
L 507.23784 -459.967792 
L 508.33152 -460.043124 
L 509.4252 -460.375977 
L 510.51888 -460.402123 
L 511.61256 -459.936133 
L 512.70624 -459.87054 
L 513.79992 -460.232888 
L 514.8936 -460.162705 
L 515.98728 -459.993133 
L 517.08096 -459.523379 
L 518.17464 -459.61132 
L 519.26832 -459.634881 
L 520.362 -459.675008 
L 521.45568 -459.385084 
L 522.54936 -459.908967 
L 523.64304 -459.806274 
L 524.73672 -459.67866 
L 525.8304 -459.339649 
L 526.92408 -459.564984 
L 528.01776 -459.760731 
L 529.11144 -459.22993 
L 530.20512 -459.503388 
L 531.2988 -459.58519 
L 532.39248 -459.336994 
L 533.48616 -459.520868 
L 534.57984 -459.384191 
L 535.67352 -459.544389 
L 536.7672 -459.357642 
L 537.86088 -459.24912 
L 538.95456 -459.450131 
L 540.04824 -459.214006 
L 541.14192 -459.057339 
L 542.2356 -458.535208 
L 543.32928 -458.509311 
L 544.42296 -458.70978 
L 545.51664 -458.646996 
L 546.61032 -458.422469 
L 547.704 -458.3697 
L 548.79768 -458.055782 
L 549.89136 -458.060568 
L 550.98504 -457.855809 
L 552.07872 -457.919196 
L 553.1724 -457.752651 
L 554.26608 -457.640111 
L 555.35976 -457.69117 
L 556.45344 -457.766289 
L 557.54712 -457.377713 
L 558.6408 -457.310225 
L 559.73448 -457.386795 
L 560.82816 -457.220214 
L 561.92184 -457.291047 
L 563.01552 -457.082216 
L 564.1092 -456.950402 
L 565.20288 -456.874327 
L 565.20288 -468.086724 
L 565.20288 -468.086724 
L 564.1092 -468.009269 
L 563.01552 -468.288242 
L 561.92184 -468.369623 
L 560.82816 -468.587269 
L 559.73448 -468.755537 
L 558.6408 -468.680055 
L 557.54712 -468.868274 
L 556.45344 -469.129178 
L 555.35976 -468.942769 
L 554.26608 -468.908112 
L 553.1724 -468.989324 
L 552.07872 -469.242347 
L 550.98504 -469.428356 
L 549.89136 -469.469274 
L 548.79768 -470.160041 
L 547.704 -470.048306 
L 546.61032 -469.961067 
L 545.51664 -469.954061 
L 544.42296 -470.126841 
L 543.32928 -470.325439 
L 542.2356 -470.276081 
L 541.14192 -470.269067 
L 540.04824 -470.619687 
L 538.95456 -471.087443 
L 537.86088 -471.821372 
L 536.7672 -471.38333 
L 535.67352 -471.637982 
L 534.57984 -471.461797 
L 533.48616 -472.148444 
L 532.39248 -472.465017 
L 531.2988 -472.355704 
L 530.20512 -472.866911 
L 529.11144 -472.774618 
L 528.01776 -472.985256 
L 526.92408 -473.293725 
L 525.8304 -473.579599 
L 524.73672 -474.556541 
L 523.64304 -473.985878 
L 522.54936 -474.31724 
L 521.45568 -474.492678 
L 520.362 -474.426947 
L 519.26832 -474.508874 
L 518.17464 -474.954735 
L 517.08096 -475.101747 
L 515.98728 -475.466553 
L 514.8936 -475.540206 
L 513.79992 -475.319509 
L 512.70624 -476.066491 
L 511.61256 -475.801313 
L 510.51888 -475.684498 
L 509.4252 -475.960913 
L 508.33152 -476.191519 
L 507.23784 -476.217028 
L 506.14416 -476.627854 
L 505.05048 -476.577986 
L 503.9568 -475.873846 
L 502.86312 -476.67204 
L 501.76944 -476.760139 
L 500.67576 -476.287128 
L 499.58208 -476.50637 
L 498.4884 -476.71194 
L 497.39472 -476.677746 
L 496.30104 -476.225482 
L 495.20736 -476.484443 
L 494.11368 -476.708154 
L 493.02 -475.863483 
L 491.92632 -476.193451 
L 490.83264 -476.165033 
L 489.73896 -475.301759 
L 488.64528 -475.110795 
L 487.5516 -475.095793 
L 486.45792 -474.956538 
L 485.36424 -475.285533 
L 484.27056 -475.597792 
L 483.17688 -475.256096 
L 482.0832 -475.140573 
L 480.98952 -474.684957 
L 479.89584 -474.680134 
L 478.80216 -474.720569 
L 477.70848 -474.944444 
L 476.6148 -474.484676 
L 475.52112 -473.88978 
L 474.42744 -473.755313 
L 473.33376 -474.044647 
L 472.24008 -473.730404 
L 471.1464 -473.577843 
L 470.05272 -473.355562 
L 468.95904 -473.577517 
L 467.86536 -473.516613 
L 466.77168 -474.11952 
L 465.678 -474.205065 
L 464.58432 -474.313453 
L 463.49064 -474.293823 
L 462.39696 -475.108108 
L 461.30328 -475.432053 
L 460.2096 -475.558253 
L 459.11592 -475.247904 
L 458.02224 -475.676591 
L 456.92856 -476.791719 
L 455.83488 -476.768451 
L 454.7412 -477.696449 
L 453.64752 -477.850892 
L 452.55384 -477.89182 
L 451.46016 -478.311549 
L 450.36648 -478.494321 
L 449.2728 -479.318747 
L 448.17912 -479.986102 
L 447.08544 -481.333645 
L 445.99176 -482.303962 
L 444.89808 -483.724513 
L 443.8044 -484.920632 
L 442.71072 -485.764175 
L 441.61704 -485.745614 
L 440.52336 -487.431214 
L 439.42968 -488.169333 
L 438.336 -488.827283 
L 437.24232 -490.5173 
L 436.14864 -491.656063 
L 435.05496 -492.030288 
L 433.96128 -492.959815 
L 432.8676 -493.45574 
L 431.77392 -494.56144 
L 430.68024 -494.028967 
L 429.58656 -494.98116 
L 428.49288 -496.712005 
L 427.3992 -498.991026 
L 426.30552 -499.286743 
L 425.21184 -500.490481 
L 424.11816 -501.126226 
L 423.02448 -501.520012 
L 421.9308 -503.256201 
L 420.83712 -504.446881 
L 419.74344 -505.870018 
L 418.64976 -506.057797 
L 417.55608 -506.335371 
L 416.4624 -508.300561 
L 415.36872 -510.233367 
L 414.27504 -511.003482 
L 413.18136 -511.811943 
L 412.08768 -513.661381 
L 410.994 -513.684525 
L 409.90032 -515.041432 
L 408.80664 -515.515965 
L 407.71296 -517.100083 
L 406.61928 -517.734335 
L 405.5256 -517.917189 
L 404.43192 -520.854263 
L 403.33824 -520.819038 
L 402.24456 -520.069896 
L 401.15088 -520.790332 
L 400.0572 -521.217075 
L 398.96352 -522.105231 
L 397.86984 -522.994082 
L 396.77616 -523.239885 
L 395.68248 -523.195399 
L 394.5888 -523.821132 
L 393.49512 -524.459496 
L 392.40144 -523.346584 
L 391.30776 -522.681451 
L 390.21408 -521.885623 
L 389.1204 -522.197668 
L 388.02672 -521.377553 
L 386.93304 -519.162245 
L 385.83936 -518.844999 
L 384.74568 -518.364463 
L 383.652 -518.030463 
L 382.55832 -515.867203 
L 381.46464 -512.839507 
L 380.37096 -510.230995 
L 379.27728 -509.013606 
L 378.1836 -508.279529 
L 377.08992 -506.755484 
L 375.99624 -505.465297 
L 374.90256 -503.276406 
L 373.80888 -503.567606 
L 372.7152 -501.868015 
L 371.62152 -500.843659 
L 370.52784 -499.273508 
L 369.43416 -498.241515 
L 368.34048 -497.248388 
L 367.2468 -497.416273 
L 366.15312 -496.558876 
L 365.05944 -495.168894 
L 363.96576 -496.446723 
L 362.87208 -495.957125 
L 361.7784 -494.303809 
L 360.68472 -494.646303 
L 359.59104 -494.778374 
L 358.49736 -493.927213 
L 357.40368 -494.460969 
L 356.31 -494.300199 
L 355.21632 -494.989521 
L 354.12264 -495.460181 
L 353.02896 -494.749441 
L 351.93528 -494.209424 
L 350.8416 -492.554167 
L 349.74792 -490.934287 
L 348.65424 -489.868056 
L 347.56056 -489.892125 
L 346.46688 -490.176076 
L 345.3732 -489.9239 
L 344.27952 -489.968413 
L 343.18584 -489.398855 
L 342.09216 -488.896189 
L 340.99848 -487.213733 
L 339.9048 -486.534374 
L 338.81112 -485.261865 
L 337.71744 -484.40563 
L 336.62376 -484.325122 
L 335.53008 -483.721667 
L 334.4364 -481.700825 
L 333.34272 -480.792353 
L 332.24904 -480.02543 
L 331.15536 -479.085816 
L 330.06168 -479.191899 
L 328.968 -478.680126 
L 327.87432 -478.415721 
L 326.78064 -477.56545 
L 325.68696 -476.614707 
L 324.59328 -476.29344 
L 323.4996 -476.143702 
L 322.40592 -476.219165 
L 321.31224 -475.67461 
L 320.21856 -475.25622 
L 319.12488 -475.159184 
L 318.0312 -474.491918 
L 316.93752 -474.394323 
L 315.84384 -474.537386 
L 314.75016 -474.588198 
L 313.65648 -474.041963 
L 312.5628 -474.591324 
L 311.46912 -474.45317 
L 310.37544 -474.775853 
L 309.28176 -475.153868 
L 308.18808 -475.136283 
L 307.0944 -474.138951 
L 306.00072 -473.921266 
L 304.90704 -474.133565 
L 303.81336 -473.403224 
L 302.71968 -473.545821 
L 301.626 -474.153062 
L 300.53232 -474.425908 
L 299.43864 -474.103528 
L 298.34496 -474.756696 
L 297.25128 -475.639533 
L 296.1576 -476.299686 
L 295.06392 -475.800225 
L 293.97024 -476.712064 
L 292.87656 -477.02429 
L 291.78288 -476.726797 
L 290.6892 -477.322909 
L 289.59552 -477.801194 
L 288.50184 -478.190997 
L 287.40816 -478.235657 
L 286.31448 -478.600993 
L 285.2208 -479.06246 
L 284.12712 -479.693182 
L 283.03344 -479.401499 
L 281.93976 -479.006388 
L 280.84608 -479.444901 
L 279.7524 -480.635464 
L 278.65872 -481.346022 
L 277.56504 -481.067867 
L 276.47136 -481.784489 
L 275.37768 -481.757077 
L 274.284 -482.185088 
L 273.19032 -481.805464 
L 272.09664 -482.726839 
L 271.00296 -482.087873 
L 269.90928 -482.556448 
L 268.8156 -483.264298 
L 267.72192 -482.739143 
L 266.62824 -482.144706 
L 265.53456 -482.340794 
L 264.44088 -482.764014 
L 263.3472 -482.424432 
L 262.25352 -481.650309 
L 261.15984 -482.433122 
L 260.06616 -482.400033 
L 258.97248 -482.809929 
L 257.8788 -483.064496 
L 256.78512 -482.444703 
L 255.69144 -482.343458 
L 254.59776 -482.149699 
L 253.50408 -482.356288 
L 252.4104 -483.37693 
L 251.31672 -483.692414 
L 250.22304 -483.054517 
L 249.12936 -483.450709 
L 248.03568 -483.124937 
L 246.942 -484.26548 
L 245.84832 -485.074961 
L 244.75464 -485.042932 
L 243.66096 -486.066044 
L 242.56728 -486.699501 
L 241.4736 -486.850313 
L 240.37992 -488.005217 
L 239.28624 -489.046594 
L 238.19256 -489.77239 
L 237.09888 -489.949181 
L 236.0052 -490.805302 
L 234.91152 -491.885142 
L 233.81784 -491.506133 
L 232.72416 -493.178427 
L 231.63048 -494.287186 
L 230.5368 -495.32231 
L 229.44312 -497.436514 
L 228.34944 -499.52025 
L 227.25576 -501.3694 
L 226.16208 -502.734266 
L 225.0684 -504.083367 
L 223.97472 -505.87362 
L 222.88104 -507.01755 
L 221.78736 -508.355218 
L 220.69368 -510.393106 
L 219.6 -511.220287 
L 218.50632 -513.824356 
L 217.41264 -514.970449 
L 216.31896 -517.147096 
L 215.22528 -517.35257 
L 214.1316 -519.117099 
L 213.03792 -519.569944 
L 211.94424 -521.785185 
L 210.85056 -522.965615 
L 209.75688 -524.416153 
L 208.6632 -524.883637 
L 207.56952 -524.205016 
L 206.47584 -524.39622 
L 205.38216 -523.879227 
L 204.28848 -524.174293 
L 203.1948 -521.430225 
L 202.10112 -520.006674 
L 201.00744 -518.023526 
L 199.91376 -517.607895 
L 198.82008 -515.918559 
L 197.7264 -513.788607 
L 196.63272 -511.662334 
L 195.53904 -509.460632 
L 194.44536 -508.137391 
L 193.35168 -506.474285 
L 192.258 -504.713404 
L 191.16432 -503.459544 
L 190.07064 -501.305188 
L 188.97696 -498.542327 
L 187.88328 -496.099186 
L 186.7896 -493.019834 
L 185.69592 -490.672075 
L 184.60224 -488.399495 
L 183.50856 -485.910553 
L 182.41488 -483.676597 
L 181.3212 -482.656534 
L 180.22752 -481.677418 
L 179.13384 -479.639791 
L 178.04016 -478.955697 
L 176.94648 -477.600367 
L 175.8528 -476.776143 
L 174.75912 -475.245522 
L 173.66544 -474.995361 
L 172.57176 -473.783861 
L 171.47808 -473.214501 
L 170.3844 -472.931073 
L 169.29072 -471.818182 
L 168.19704 -470.982151 
L 167.10336 -470.072012 
L 166.00968 -469.078732 
L 164.916 -468.259594 
L 163.82232 -467.927405 
L 162.72864 -467.550657 
L 161.63496 -467.127096 
L 160.54128 -466.755961 
L 159.4476 -466.399579 
L 158.35392 -465.909603 
L 157.26024 -465.392604 
L 156.16656 -465.084994 
L 155.07288 -464.949459 
L 153.9792 -465.075135 
L 152.88552 -464.737379 
L 151.79184 -464.837476 
L 150.69816 -464.604795 
L 149.60448 -464.310072 
L 148.5108 -464.266678 
L 147.41712 -464.10499 
L 146.32344 -464.115859 
L 145.22976 -464.137148 
L 144.13608 -463.818222 
L 143.0424 -463.745347 
L 141.94872 -463.761807 
L 140.85504 -463.913168 
L 139.76136 -464.158634 
L 138.66768 -463.87025 
L 137.574 -463.86741 
L 136.48032 -464.176176 
L 135.38664 -464.374883 
L 134.29296 -464.3296 
L 133.19928 -464.56956 
L 132.1056 -464.903073 
L 131.01192 -464.869974 
L 129.91824 -464.985679 
L 128.82456 -464.57125 
L 127.73088 -464.717461 
L 126.6372 -465.075005 
L 125.54352 -465.564622 
L 124.44984 -465.717327 
L 123.35616 -465.89689 
L 122.26248 -466.139605 
L 121.1688 -466.448535 
L 120.07512 -466.474015 
L 118.98144 -466.743965 
L 117.88776 -467.159352 
L 116.79408 -467.730039 
L 115.7004 -467.750281 
L 114.60672 -467.792499 
L 113.51304 -468.147949 
L 112.41936 -468.269887 
L 111.32568 -468.449468 
L 110.232 -469.326959 
L 109.13832 -469.765649 
L 108.04464 -469.698463 
L 106.95096 -470.635473 
L 105.85728 -470.933492 
L 104.7636 -471.721575 
L 103.66992 -472.032423 
L 102.57624 -472.477263 
L 101.48256 -473.327109 
L 100.38888 -474.630977 
L 99.2952 -474.965228 
L 98.20152 -475.125138 
L 97.10784 -475.26708 
L 96.01416 -476.039144 
L 94.92048 -476.154099 
L 93.8268 -476.496337 
L 92.73312 -476.739994 
L 91.63944 -476.6461 
L 90.54576 -476.450554 
L 89.45208 -475.949663 
L 88.3584 -475.676018 
L 87.26472 -474.726958 
L 86.17104 -473.564383 
L 85.07736 -472.734723 
L 83.98368 -472.538066 
L 82.89 -471.208683 
L 81.79632 -469.709712 
L 80.70264 -468.011823 
L 79.60896 -465.575316 
L 78.51528 -463.111319 
L 77.4216 -460.691713 
L 76.32792 -458.005653 
L 75.23424 -456.417553 
L 74.14056 -456.282072 
L 73.04688 -456.330991 
L 71.9532 -456.193855 
L 70.85952 -456.126759 
L 69.76584 -455.866726 
L 68.67216 -455.808014 
L 67.57848 -455.781011 
L 66.4848 -455.847424 
L 65.39112 -455.579633 
L 64.29744 -455.588479 
L 63.20376 -455.568421 
L 62.11008 -455.365769 
L 61.0164 -455.499442 
L 59.92272 -455.418066 
L 58.82904 -455.04 
L 57.73536 -455.04 
L 56.64168 -455.04 
L 55.548 -455.04 
z
" style="stroke: #1f77b4; stroke-opacity: 0.1"/>
    </defs>
    <g clip-path="url(#p409145b264)">
     <use href="#m4835b5a476" x="0" y="864" style="fill: #1f77b4; fill-opacity: 0.1; stroke: #1f77b4; stroke-opacity: 0.1"/>
    </g>
   </g>
   <g id="FillBetweenPolyCollection_3">
    <defs>
     <path id="m1e14e50a95" d="M 55.548 -455.04 
L 55.548 -455.04 
L 56.64168 -455.04 
L 57.73536 -455.085231 
L 58.82904 -455.047418 
L 59.92272 -455.04 
L 61.0164 -455.064644 
L 62.11008 -455.115155 
L 63.20376 -455.19789 
L 64.29744 -455.15202 
L 65.39112 -455.341387 
L 66.4848 -455.460643 
L 67.57848 -455.614462 
L 68.67216 -455.59194 
L 69.76584 -455.606903 
L 70.85952 -455.564166 
L 71.9532 -455.837423 
L 73.04688 -455.657123 
L 74.14056 -455.876946 
L 75.23424 -455.856815 
L 76.32792 -455.844945 
L 77.4216 -455.913553 
L 78.51528 -455.995817 
L 79.60896 -456.138583 
L 80.70264 -456.204856 
L 81.79632 -456.332985 
L 82.89 -456.164998 
L 83.98368 -456.30622 
L 85.07736 -456.353383 
L 86.17104 -456.488522 
L 87.26472 -456.357861 
L 88.3584 -456.529658 
L 89.45208 -456.639545 
L 90.54576 -456.606761 
L 91.63944 -456.836827 
L 92.73312 -456.887543 
L 93.8268 -457.003966 
L 94.92048 -457.038291 
L 96.01416 -456.929332 
L 97.10784 -456.979502 
L 98.20152 -457.112879 
L 99.2952 -457.26949 
L 100.38888 -457.326583 
L 101.48256 -457.252343 
L 102.57624 -457.287808 
L 103.66992 -457.336493 
L 104.7636 -457.417799 
L 105.85728 -457.513911 
L 106.95096 -457.630729 
L 108.04464 -457.836942 
L 109.13832 -457.71578 
L 110.232 -457.760159 
L 111.32568 -457.86303 
L 112.41936 -457.821578 
L 113.51304 -457.912763 
L 114.60672 -458.034018 
L 115.7004 -458.131456 
L 116.79408 -458.060254 
L 117.88776 -458.303886 
L 118.98144 -458.260475 
L 120.07512 -458.350629 
L 121.1688 -458.489303 
L 122.26248 -458.555474 
L 123.35616 -458.635319 
L 124.44984 -458.604111 
L 125.54352 -458.629465 
L 126.6372 -458.690702 
L 127.73088 -458.661394 
L 128.82456 -458.896929 
L 129.91824 -458.763861 
L 131.01192 -458.797515 
L 132.1056 -459.194189 
L 133.19928 -459.043018 
L 134.29296 -458.992756 
L 135.38664 -459.353135 
L 136.48032 -459.253762 
L 137.574 -459.382815 
L 138.66768 -459.245852 
L 139.76136 -459.285955 
L 140.85504 -459.155242 
L 141.94872 -459.164538 
L 143.0424 -459.372773 
L 144.13608 -459.615039 
L 145.22976 -459.881313 
L 146.32344 -460.102233 
L 147.41712 -459.766088 
L 148.5108 -459.969729 
L 149.60448 -459.864836 
L 150.69816 -459.895824 
L 151.79184 -459.760626 
L 152.88552 -459.795667 
L 153.9792 -459.950055 
L 155.07288 -460.005487 
L 156.16656 -460.219086 
L 157.26024 -460.273596 
L 158.35392 -460.596453 
L 159.4476 -460.542881 
L 160.54128 -460.600733 
L 161.63496 -460.807645 
L 162.72864 -460.776333 
L 163.82232 -460.712892 
L 164.916 -460.740381 
L 166.00968 -460.980671 
L 167.10336 -461.644693 
L 168.19704 -462.071926 
L 169.29072 -462.436413 
L 170.3844 -462.896972 
L 171.47808 -463.084049 
L 172.57176 -463.613311 
L 173.66544 -463.740098 
L 174.75912 -464.778384 
L 175.8528 -465.03053 
L 176.94648 -465.445643 
L 178.04016 -465.990614 
L 179.13384 -466.234274 
L 180.22752 -466.590438 
L 181.3212 -467.379312 
L 182.41488 -467.410703 
L 183.50856 -467.447163 
L 184.60224 -468.064373 
L 185.69592 -468.043409 
L 186.7896 -469.307959 
L 187.88328 -469.313123 
L 188.97696 -469.797951 
L 190.07064 -470.965837 
L 191.16432 -471.320874 
L 192.258 -471.012208 
L 193.35168 -471.291849 
L 194.44536 -471.685064 
L 195.53904 -471.937796 
L 196.63272 -471.508833 
L 197.7264 -471.693912 
L 198.82008 -472.171999 
L 199.91376 -472.099888 
L 201.00744 -472.333663 
L 202.10112 -472.333215 
L 203.1948 -471.873413 
L 204.28848 -471.849945 
L 205.38216 -471.567823 
L 206.47584 -472.539872 
L 207.56952 -473.244757 
L 208.6632 -472.824924 
L 209.75688 -473.339412 
L 210.85056 -473.208361 
L 211.94424 -472.67641 
L 213.03792 -472.474375 
L 214.1316 -472.29267 
L 215.22528 -471.864423 
L 216.31896 -471.869247 
L 217.41264 -471.900138 
L 218.50632 -472.018056 
L 219.6 -471.869463 
L 220.69368 -471.241511 
L 221.78736 -471.338882 
L 222.88104 -470.719013 
L 223.97472 -470.63459 
L 225.0684 -470.622199 
L 226.16208 -470.297928 
L 227.25576 -470.042713 
L 228.34944 -469.893781 
L 229.44312 -469.407377 
L 230.5368 -469.125157 
L 231.63048 -469.145223 
L 232.72416 -469.291187 
L 233.81784 -468.937217 
L 234.91152 -469.218123 
L 236.0052 -468.313666 
L 237.09888 -467.033823 
L 238.19256 -467.657053 
L 239.28624 -468.301738 
L 240.37992 -467.678027 
L 241.4736 -467.198923 
L 242.56728 -467.01366 
L 243.66096 -467.567657 
L 244.75464 -467.431485 
L 245.84832 -467.108024 
L 246.942 -466.909473 
L 248.03568 -467.037447 
L 249.12936 -466.576058 
L 250.22304 -465.79765 
L 251.31672 -466.127739 
L 252.4104 -465.883161 
L 253.50408 -465.644135 
L 254.59776 -465.694073 
L 255.69144 -465.145836 
L 256.78512 -464.301313 
L 257.8788 -465.316586 
L 258.97248 -465.206021 
L 260.06616 -464.636091 
L 261.15984 -464.36243 
L 262.25352 -464.264646 
L 263.3472 -463.80372 
L 264.44088 -463.968778 
L 265.53456 -463.743697 
L 266.62824 -463.483649 
L 267.72192 -463.178505 
L 268.8156 -463.151516 
L 269.90928 -463.471207 
L 271.00296 -463.408761 
L 272.09664 -463.015931 
L 273.19032 -462.631328 
L 274.284 -462.42584 
L 275.37768 -462.807617 
L 276.47136 -462.936707 
L 277.56504 -462.358483 
L 278.65872 -462.686438 
L 279.7524 -462.128464 
L 280.84608 -462.428734 
L 281.93976 -462.604573 
L 283.03344 -462.218472 
L 284.12712 -462.180011 
L 285.2208 -462.611503 
L 286.31448 -462.793327 
L 287.40816 -462.600093 
L 288.50184 -462.855093 
L 289.59552 -462.572468 
L 290.6892 -462.982807 
L 291.78288 -462.729758 
L 292.87656 -462.693238 
L 293.97024 -462.77423 
L 295.06392 -462.801326 
L 296.1576 -463.16658 
L 297.25128 -463.245287 
L 298.34496 -462.833389 
L 299.43864 -462.528637 
L 300.53232 -462.274095 
L 301.626 -462.36163 
L 302.71968 -462.579873 
L 303.81336 -462.668102 
L 304.90704 -462.751537 
L 306.00072 -462.864993 
L 307.0944 -462.964166 
L 308.18808 -462.620638 
L 309.28176 -462.788307 
L 310.37544 -463.40649 
L 311.46912 -463.451656 
L 312.5628 -463.257201 
L 313.65648 -463.620594 
L 314.75016 -463.304188 
L 315.84384 -463.287101 
L 316.93752 -463.114562 
L 318.0312 -463.764696 
L 319.12488 -463.82447 
L 320.21856 -464.122902 
L 321.31224 -464.126591 
L 322.40592 -464.013864 
L 323.4996 -464.131872 
L 324.59328 -464.421342 
L 325.68696 -464.173142 
L 326.78064 -464.17974 
L 327.87432 -464.363722 
L 328.968 -464.674949 
L 330.06168 -464.895244 
L 331.15536 -465.148591 
L 332.24904 -464.779311 
L 333.34272 -465.00774 
L 334.4364 -464.67073 
L 335.53008 -464.972771 
L 336.62376 -465.090258 
L 337.71744 -465.559866 
L 338.81112 -465.322347 
L 339.9048 -465.057511 
L 340.99848 -465.36941 
L 342.09216 -465.394955 
L 343.18584 -465.240942 
L 344.27952 -465.229563 
L 345.3732 -465.350297 
L 346.46688 -466.411469 
L 347.56056 -465.943523 
L 348.65424 -465.958429 
L 349.74792 -465.379735 
L 350.8416 -465.389645 
L 351.93528 -465.783916 
L 353.02896 -465.996233 
L 354.12264 -466.264694 
L 355.21632 -465.896838 
L 356.31 -466.446521 
L 357.40368 -466.882198 
L 358.49736 -466.400877 
L 359.59104 -466.883427 
L 360.68472 -466.624316 
L 361.7784 -467.109332 
L 362.87208 -467.482142 
L 363.96576 -467.948713 
L 365.05944 -467.424953 
L 366.15312 -467.774686 
L 367.2468 -468.144974 
L 368.34048 -467.6814 
L 369.43416 -468.023117 
L 370.52784 -467.983992 
L 371.62152 -468.246833 
L 372.7152 -468.913211 
L 373.80888 -469.330332 
L 374.90256 -470.067269 
L 375.99624 -469.942985 
L 377.08992 -469.875115 
L 378.1836 -469.508635 
L 379.27728 -469.548305 
L 380.37096 -469.673963 
L 381.46464 -469.317041 
L 382.55832 -470.509626 
L 383.652 -470.119569 
L 384.74568 -470.015131 
L 385.83936 -470.462161 
L 386.93304 -471.169108 
L 388.02672 -471.440545 
L 389.1204 -471.121486 
L 390.21408 -471.411785 
L 391.30776 -471.391558 
L 392.40144 -471.274056 
L 393.49512 -471.463856 
L 394.5888 -471.243669 
L 395.68248 -470.740389 
L 396.77616 -471.211021 
L 397.86984 -470.464577 
L 398.96352 -470.66278 
L 400.0572 -470.224501 
L 401.15088 -470.079515 
L 402.24456 -470.103591 
L 403.33824 -470.320883 
L 404.43192 -469.676937 
L 405.5256 -469.896276 
L 406.61928 -470.28198 
L 407.71296 -469.531253 
L 408.80664 -469.508661 
L 409.90032 -469.570604 
L 410.994 -469.123667 
L 412.08768 -469.17725 
L 413.18136 -468.819789 
L 414.27504 -469.026339 
L 415.36872 -468.689435 
L 416.4624 -468.326878 
L 417.55608 -468.825823 
L 418.64976 -468.319239 
L 419.74344 -467.952235 
L 420.83712 -467.605812 
L 421.9308 -467.606475 
L 423.02448 -467.653664 
L 424.11816 -467.707289 
L 425.21184 -467.732385 
L 426.30552 -466.883824 
L 427.3992 -467.020392 
L 428.49288 -467.422897 
L 429.58656 -467.059658 
L 430.68024 -467.013117 
L 431.77392 -467.21404 
L 432.8676 -466.765631 
L 433.96128 -466.582039 
L 435.05496 -466.453789 
L 436.14864 -466.898331 
L 437.24232 -466.550078 
L 438.336 -465.881313 
L 439.42968 -465.966194 
L 440.52336 -465.549996 
L 441.61704 -466.054034 
L 442.71072 -465.916902 
L 443.8044 -465.498077 
L 444.89808 -465.16785 
L 445.99176 -464.784402 
L 447.08544 -465.382002 
L 448.17912 -465.205794 
L 449.2728 -465.098428 
L 450.36648 -465.262281 
L 451.46016 -464.84431 
L 452.55384 -464.713538 
L 453.64752 -464.586856 
L 454.7412 -464.571024 
L 455.83488 -465.457001 
L 456.92856 -464.838332 
L 458.02224 -464.64654 
L 459.11592 -464.696284 
L 460.2096 -463.705947 
L 461.30328 -464.328941 
L 462.39696 -464.422422 
L 463.49064 -464.169491 
L 464.58432 -464.315938 
L 465.678 -463.751517 
L 466.77168 -464.185182 
L 467.86536 -464.312955 
L 468.95904 -463.465597 
L 470.05272 -463.519066 
L 471.1464 -463.881884 
L 472.24008 -463.900716 
L 473.33376 -463.733286 
L 474.42744 -463.909023 
L 475.52112 -463.781617 
L 476.6148 -463.35282 
L 477.70848 -463.47425 
L 478.80216 -463.124799 
L 479.89584 -462.767409 
L 480.98952 -462.775558 
L 482.0832 -463.54904 
L 483.17688 -463.498126 
L 484.27056 -463.729103 
L 485.36424 -462.95907 
L 486.45792 -463.039808 
L 487.5516 -463.196952 
L 488.64528 -463.09127 
L 489.73896 -463.153501 
L 490.83264 -463.002354 
L 491.92632 -462.647267 
L 493.02 -462.20283 
L 494.11368 -462.542385 
L 495.20736 -463.163731 
L 496.30104 -463.045739 
L 497.39472 -462.985738 
L 498.4884 -462.51195 
L 499.58208 -462.417373 
L 500.67576 -462.286712 
L 501.76944 -462.479258 
L 502.86312 -462.430633 
L 503.9568 -462.513887 
L 505.05048 -462.648582 
L 506.14416 -462.142378 
L 507.23784 -462.213428 
L 508.33152 -461.875656 
L 509.4252 -462.201958 
L 510.51888 -461.94159 
L 511.61256 -461.904772 
L 512.70624 -461.981688 
L 513.79992 -462.181417 
L 514.8936 -461.81412 
L 515.98728 -461.553293 
L 517.08096 -461.400192 
L 518.17464 -461.568686 
L 519.26832 -461.360923 
L 520.362 -461.350099 
L 521.45568 -461.437665 
L 522.54936 -461.48272 
L 523.64304 -461.239712 
L 524.73672 -461.445363 
L 525.8304 -461.52443 
L 526.92408 -461.00002 
L 528.01776 -461.390644 
L 529.11144 -461.487001 
L 530.20512 -460.992186 
L 531.2988 -460.972322 
L 532.39248 -460.665328 
L 533.48616 -460.821109 
L 534.57984 -460.736136 
L 535.67352 -460.681621 
L 536.7672 -460.398722 
L 537.86088 -460.290725 
L 538.95456 -460.254813 
L 540.04824 -460.133418 
L 541.14192 -460.060094 
L 542.2356 -460.004582 
L 543.32928 -459.813849 
L 544.42296 -459.859924 
L 545.51664 -459.799845 
L 546.61032 -459.390424 
L 547.704 -459.547848 
L 548.79768 -459.384156 
L 549.89136 -459.204114 
L 550.98504 -459.085407 
L 552.07872 -459.056338 
L 553.1724 -459.021385 
L 554.26608 -459.024798 
L 555.35976 -458.820363 
L 556.45344 -458.915273 
L 557.54712 -458.695142 
L 558.6408 -458.736911 
L 559.73448 -458.66492 
L 560.82816 -458.379237 
L 561.92184 -458.500833 
L 563.01552 -458.509054 
L 564.1092 -458.192893 
L 565.20288 -458.133035 
L 565.20288 -463.662155 
L 565.20288 -463.662155 
L 564.1092 -463.735843 
L 563.01552 -463.785353 
L 561.92184 -464.051011 
L 560.82816 -464.162265 
L 559.73448 -464.125489 
L 558.6408 -464.321789 
L 557.54712 -464.31285 
L 556.45344 -464.429704 
L 555.35976 -464.702866 
L 554.26608 -464.79861 
L 553.1724 -464.854711 
L 552.07872 -464.705933 
L 550.98504 -464.74164 
L 549.89136 -464.852472 
L 548.79768 -465.165505 
L 547.704 -465.148956 
L 546.61032 -465.216939 
L 545.51664 -465.356354 
L 544.42296 -465.310634 
L 543.32928 -465.327266 
L 542.2356 -465.501491 
L 541.14192 -465.706375 
L 540.04824 -465.513203 
L 538.95456 -465.559171 
L 537.86088 -465.903107 
L 536.7672 -465.775798 
L 535.67352 -466.143587 
L 534.57984 -466.068719 
L 533.48616 -466.398657 
L 532.39248 -466.513114 
L 531.2988 -466.510772 
L 530.20512 -466.587736 
L 529.11144 -466.879709 
L 528.01776 -466.822997 
L 526.92408 -467.044978 
L 525.8304 -467.559238 
L 524.73672 -467.632527 
L 523.64304 -467.726308 
L 522.54936 -467.92415 
L 521.45568 -468.294879 
L 520.362 -468.397683 
L 519.26832 -468.290186 
L 518.17464 -468.357509 
L 517.08096 -468.724422 
L 515.98728 -468.947133 
L 514.8936 -469.009267 
L 513.79992 -469.0388 
L 512.70624 -469.421898 
L 511.61256 -469.448704 
L 510.51888 -469.177896 
L 509.4252 -470.005021 
L 508.33152 -470.013899 
L 507.23784 -470.254642 
L 506.14416 -470.027583 
L 505.05048 -470.409534 
L 503.9568 -470.614662 
L 502.86312 -470.87957 
L 501.76944 -470.986615 
L 500.67576 -471.188921 
L 499.58208 -471.325504 
L 498.4884 -471.213691 
L 497.39472 -470.737349 
L 496.30104 -470.93504 
L 495.20736 -471.122082 
L 494.11368 -470.709652 
L 493.02 -470.368731 
L 491.92632 -470.51625 
L 490.83264 -470.748557 
L 489.73896 -470.923775 
L 488.64528 -470.446939 
L 487.5516 -470.434294 
L 486.45792 -470.468639 
L 485.36424 -470.660418 
L 484.27056 -470.626823 
L 483.17688 -470.704073 
L 482.0832 -470.486567 
L 480.98952 -470.017086 
L 479.89584 -470.355359 
L 478.80216 -470.65212 
L 477.70848 -470.755945 
L 476.6148 -470.605272 
L 475.52112 -470.590861 
L 474.42744 -470.336429 
L 473.33376 -470.450434 
L 472.24008 -470.214799 
L 471.1464 -470.093431 
L 470.05272 -470.17357 
L 468.95904 -470.354073 
L 467.86536 -470.576864 
L 466.77168 -470.42166 
L 465.678 -470.860455 
L 464.58432 -471.092426 
L 463.49064 -471.326433 
L 462.39696 -471.218444 
L 461.30328 -471.734611 
L 460.2096 -472.068869 
L 459.11592 -471.910693 
L 458.02224 -472.19672 
L 456.92856 -472.609268 
L 455.83488 -473.323119 
L 454.7412 -472.949705 
L 453.64752 -472.740124 
L 452.55384 -473.54407 
L 451.46016 -473.897403 
L 450.36648 -474.58055 
L 449.2728 -474.66033 
L 448.17912 -474.854019 
L 447.08544 -474.986557 
L 445.99176 -475.543592 
L 444.89808 -475.689668 
L 443.8044 -476.48723 
L 442.71072 -477.835156 
L 441.61704 -478.001883 
L 440.52336 -478.333711 
L 439.42968 -478.508389 
L 438.336 -479.482827 
L 437.24232 -479.877602 
L 436.14864 -480.312687 
L 435.05496 -481.031282 
L 433.96128 -482.022663 
L 432.8676 -482.081254 
L 431.77392 -482.223232 
L 430.68024 -483.509451 
L 429.58656 -483.181129 
L 428.49288 -483.897208 
L 427.3992 -485.243196 
L 426.30552 -485.188877 
L 425.21184 -485.796996 
L 424.11816 -484.955459 
L 423.02448 -486.345969 
L 421.9308 -487.792727 
L 420.83712 -487.812269 
L 419.74344 -488.6991 
L 418.64976 -489.40116 
L 417.55608 -489.500409 
L 416.4624 -490.810696 
L 415.36872 -492.11712 
L 414.27504 -491.562387 
L 413.18136 -492.010109 
L 412.08768 -491.87884 
L 410.994 -492.260557 
L 409.90032 -492.970747 
L 408.80664 -493.111072 
L 407.71296 -493.772889 
L 406.61928 -494.771246 
L 405.5256 -495.420966 
L 404.43192 -496.231408 
L 403.33824 -496.612175 
L 402.24456 -497.222379 
L 401.15088 -497.470681 
L 400.0572 -497.851803 
L 398.96352 -497.594514 
L 397.86984 -497.163285 
L 396.77616 -497.448992 
L 395.68248 -498.356899 
L 394.5888 -499.309031 
L 393.49512 -498.844464 
L 392.40144 -497.840208 
L 391.30776 -497.72099 
L 390.21408 -496.614147 
L 389.1204 -495.669314 
L 388.02672 -495.706872 
L 386.93304 -495.665226 
L 385.83936 -494.568279 
L 384.74568 -493.986815 
L 383.652 -493.628584 
L 382.55832 -492.339427 
L 381.46464 -490.819069 
L 380.37096 -490.874521 
L 379.27728 -490.511917 
L 378.1836 -489.391972 
L 377.08992 -488.983491 
L 375.99624 -487.281638 
L 374.90256 -487.105632 
L 373.80888 -485.594543 
L 372.7152 -484.763383 
L 371.62152 -485.056535 
L 370.52784 -484.662985 
L 369.43416 -484.837387 
L 368.34048 -484.809791 
L 367.2468 -483.75035 
L 366.15312 -483.99651 
L 365.05944 -483.294415 
L 363.96576 -482.242111 
L 362.87208 -482.873173 
L 361.7784 -482.256878 
L 360.68472 -481.818004 
L 359.59104 -481.628015 
L 358.49736 -482.022216 
L 357.40368 -481.310126 
L 356.31 -480.514549 
L 355.21632 -480.409623 
L 354.12264 -480.475874 
L 353.02896 -479.951189 
L 351.93528 -479.327082 
L 350.8416 -479.202952 
L 349.74792 -478.94872 
L 348.65424 -478.402601 
L 347.56056 -478.286315 
L 346.46688 -478.138395 
L 345.3732 -477.70225 
L 344.27952 -477.382997 
L 343.18584 -476.837259 
L 342.09216 -476.048358 
L 340.99848 -475.637527 
L 339.9048 -475.59174 
L 338.81112 -475.404226 
L 337.71744 -475.485093 
L 336.62376 -474.576077 
L 335.53008 -474.629581 
L 334.4364 -474.379854 
L 333.34272 -474.176003 
L 332.24904 -473.756612 
L 331.15536 -474.060315 
L 330.06168 -473.351679 
L 328.968 -473.079982 
L 327.87432 -472.726825 
L 326.78064 -472.50061 
L 325.68696 -472.727675 
L 324.59328 -471.953806 
L 323.4996 -471.369783 
L 322.40592 -471.082343 
L 321.31224 -471.187373 
L 320.21856 -471.240696 
L 319.12488 -470.575785 
L 318.0312 -470.326873 
L 316.93752 -469.977161 
L 315.84384 -469.714718 
L 314.75016 -469.887862 
L 313.65648 -469.642532 
L 312.5628 -469.081057 
L 311.46912 -469.053765 
L 310.37544 -468.837025 
L 309.28176 -468.517411 
L 308.18808 -468.049284 
L 307.0944 -468.074609 
L 306.00072 -468.040844 
L 304.90704 -467.597131 
L 303.81336 -467.502367 
L 302.71968 -467.288275 
L 301.626 -467.026412 
L 300.53232 -467.607938 
L 299.43864 -467.690249 
L 298.34496 -467.363398 
L 297.25128 -467.457866 
L 296.1576 -467.274226 
L 295.06392 -467.6107 
L 293.97024 -467.665788 
L 292.87656 -467.838072 
L 291.78288 -467.955416 
L 290.6892 -468.177063 
L 289.59552 -468.342105 
L 288.50184 -468.51276 
L 287.40816 -468.851146 
L 286.31448 -468.896372 
L 285.2208 -469.275257 
L 284.12712 -469.736152 
L 283.03344 -469.794451 
L 281.93976 -469.993356 
L 280.84608 -469.819779 
L 279.7524 -470.378466 
L 278.65872 -470.235818 
L 277.56504 -470.669709 
L 276.47136 -471.072476 
L 275.37768 -471.406001 
L 274.284 -471.914518 
L 273.19032 -471.893427 
L 272.09664 -471.881033 
L 271.00296 -472.13793 
L 269.90928 -471.997716 
L 268.8156 -471.741862 
L 267.72192 -471.885201 
L 266.62824 -471.971935 
L 265.53456 -472.242859 
L 264.44088 -472.717663 
L 263.3472 -472.600822 
L 262.25352 -473.126592 
L 261.15984 -472.954213 
L 260.06616 -473.020922 
L 258.97248 -472.968072 
L 257.8788 -473.348201 
L 256.78512 -473.348104 
L 255.69144 -473.293253 
L 254.59776 -473.801195 
L 253.50408 -474.712098 
L 252.4104 -474.923993 
L 251.31672 -475.354291 
L 250.22304 -475.038057 
L 249.12936 -475.540323 
L 248.03568 -475.659869 
L 246.942 -476.007424 
L 245.84832 -476.832968 
L 244.75464 -476.888983 
L 243.66096 -477.413061 
L 242.56728 -477.808272 
L 241.4736 -478.012025 
L 240.37992 -478.038862 
L 239.28624 -478.199592 
L 238.19256 -478.730803 
L 237.09888 -478.599793 
L 236.0052 -480.46821 
L 234.91152 -481.193496 
L 233.81784 -481.889834 
L 232.72416 -482.283228 
L 231.63048 -482.989512 
L 230.5368 -484.187364 
L 229.44312 -484.5273 
L 228.34944 -485.100327 
L 227.25576 -486.359928 
L 226.16208 -487.522236 
L 225.0684 -489.024042 
L 223.97472 -489.929993 
L 222.88104 -490.733159 
L 221.78736 -492.563469 
L 220.69368 -493.917209 
L 219.6 -495.163015 
L 218.50632 -496.212866 
L 217.41264 -497.625204 
L 216.31896 -498.472107 
L 215.22528 -498.706351 
L 214.1316 -499.72145 
L 213.03792 -500.629875 
L 211.94424 -501.676812 
L 210.85056 -503.3265 
L 209.75688 -503.136933 
L 208.6632 -502.763519 
L 207.56952 -502.262202 
L 206.47584 -502.148127 
L 205.38216 -501.269362 
L 204.28848 -500.755385 
L 203.1948 -500.697669 
L 202.10112 -500.325251 
L 201.00744 -498.791291 
L 199.91376 -498.136814 
L 198.82008 -497.408407 
L 197.7264 -497.746105 
L 196.63272 -496.879995 
L 195.53904 -495.812395 
L 194.44536 -493.930596 
L 193.35168 -492.64607 
L 192.258 -491.105295 
L 191.16432 -490.36208 
L 190.07064 -488.352903 
L 188.97696 -486.331811 
L 187.88328 -484.347523 
L 186.7896 -482.657599 
L 185.69592 -481.218194 
L 184.60224 -480.597315 
L 183.50856 -479.034794 
L 182.41488 -476.96411 
L 181.3212 -476.493346 
L 180.22752 -475.253226 
L 179.13384 -474.069941 
L 178.04016 -472.748819 
L 176.94648 -472.502396 
L 175.8528 -471.623611 
L 174.75912 -470.615366 
L 173.66544 -469.523851 
L 172.57176 -468.903472 
L 171.47808 -468.245885 
L 170.3844 -467.680812 
L 169.29072 -467.037642 
L 168.19704 -466.702114 
L 167.10336 -466.050787 
L 166.00968 -465.532139 
L 164.916 -464.992463 
L 163.82232 -464.626649 
L 162.72864 -464.286216 
L 161.63496 -463.878104 
L 160.54128 -463.242807 
L 159.4476 -462.581226 
L 158.35392 -462.203993 
L 157.26024 -461.97237 
L 156.16656 -461.551647 
L 155.07288 -461.474537 
L 153.9792 -461.409078 
L 152.88552 -461.373194 
L 151.79184 -461.620434 
L 150.69816 -461.443104 
L 149.60448 -461.394274 
L 148.5108 -461.43655 
L 147.41712 -461.571719 
L 146.32344 -461.675834 
L 145.22976 -461.651397 
L 144.13608 -461.664545 
L 143.0424 -461.68726 
L 141.94872 -461.35698 
L 140.85504 -461.435509 
L 139.76136 -461.542664 
L 138.66768 -461.653434 
L 137.574 -461.443891 
L 136.48032 -461.505781 
L 135.38664 -461.432183 
L 134.29296 -461.656628 
L 133.19928 -461.497538 
L 132.1056 -461.530291 
L 131.01192 -461.419054 
L 129.91824 -461.29128 
L 128.82456 -461.615939 
L 127.73088 -461.606345 
L 126.6372 -461.504529 
L 125.54352 -461.569976 
L 124.44984 -461.981535 
L 123.35616 -462.043138 
L 122.26248 -462.240334 
L 121.1688 -462.288265 
L 120.07512 -462.657653 
L 118.98144 -462.819259 
L 117.88776 -462.678982 
L 116.79408 -463.059325 
L 115.7004 -463.184119 
L 114.60672 -463.412351 
L 113.51304 -463.694474 
L 112.41936 -463.93408 
L 111.32568 -464.077772 
L 110.232 -464.498722 
L 109.13832 -465.014455 
L 108.04464 -465.269072 
L 106.95096 -465.678636 
L 105.85728 -466.08765 
L 104.7636 -466.205498 
L 103.66992 -466.453784 
L 102.57624 -466.612163 
L 101.48256 -467.051402 
L 100.38888 -467.599839 
L 99.2952 -467.81671 
L 98.20152 -467.730869 
L 97.10784 -468.086879 
L 96.01416 -468.567763 
L 94.92048 -468.234772 
L 93.8268 -468.980194 
L 92.73312 -469.257971 
L 91.63944 -469.570846 
L 90.54576 -469.282121 
L 89.45208 -468.58486 
L 88.3584 -468.061697 
L 87.26472 -467.915694 
L 86.17104 -467.316385 
L 85.07736 -466.911529 
L 83.98368 -466.562743 
L 82.89 -464.939776 
L 81.79632 -463.361182 
L 80.70264 -461.912942 
L 79.60896 -460.626749 
L 78.51528 -459.306996 
L 77.4216 -457.731539 
L 76.32792 -457.121549 
L 75.23424 -457.095958 
L 74.14056 -456.883589 
L 73.04688 -456.792671 
L 71.9532 -456.572722 
L 70.85952 -456.36324 
L 69.76584 -456.278049 
L 68.67216 -456.207236 
L 67.57848 -456.100256 
L 66.4848 -456.117033 
L 65.39112 -456.258195 
L 64.29744 -455.751559 
L 63.20376 -455.555806 
L 62.11008 -455.289932 
L 61.0164 -455.322996 
L 59.92272 -455.214819 
L 58.82904 -455.097617 
L 57.73536 -455.04 
L 56.64168 -455.04 
L 55.548 -455.04 
z
" style="stroke: #1f77b4; stroke-opacity: 0.1"/>
    </defs>
    <g clip-path="url(#p409145b264)">
     <use href="#m1e14e50a95" x="0" y="864" style="fill: #1f77b4; fill-opacity: 0.1; stroke: #1f77b4; stroke-opacity: 0.1"/>
    </g>
   </g>
   <g id="matplotlib.axis_1">
    <g id="xtick_1">
     <g id="line2d_1">
      <defs>
       <path id="m1504cfccaf" d="M 0 0 
L 0 3.5 
" style="stroke: #000000; stroke-width: 0.8"/>
      </defs>
      <g>
       <use href="#m1504cfccaf" x="55.8000" y="409.3200" style="stroke: #000000; stroke-width: 0.8"/>
      </g>
     </g>
    </g>
    <g id="xtick_2">
     <g id="line2d_2">
      <g>
       <use href="#m1504cfccaf" x="86.7600" y="409.3200" style="stroke: #000000; stroke-width: 0.8"/>
      </g>
     </g>
    </g>
    <g id="xtick_3">
     <g id="line2d_3">
      <g>
       <use href="#m1504cfccaf" x="186.1200" y="409.3200" style="stroke: #000000; stroke-width: 0.8"/>
      </g>
     </g>
    </g>
    <g id="xtick_4">
     <g id="line2d_4">
      <g>
       <use href="#m1504cfccaf" x="286.9200" y="409.3200" style="stroke: #000000; stroke-width: 0.8"/>
      </g>
     </g>
    </g>
    <g id="xtick_5">
     <g id="line2d_5">
      <g>
       <use href="#m1504cfccaf" x="387.0000" y="409.3200" style="stroke: #000000; stroke-width: 0.8"/>
      </g>
     </g>
    </g>
    <g id="xtick_6">
     <g id="line2d_6">
      <g>
       <use href="#m1504cfccaf" x="485.6400" y="409.3200" style="stroke: #000000; stroke-width: 0.8"/>
      </g>
     </g>
    </g>
    <g id="xtick_7">
     <g id="line2d_7">
      <g>
       <use href="#m1504cfccaf" x="565.5600" y="409.3200" style="stroke: #000000; stroke-width: 0.8"/>
      </g>
     </g>
    </g>
    <g id="xtick_8">
     <g id="line2d_8">
      <defs>
       <path id="m05db3bdf9b" d="M 0 0 
L 0 2 
" style="stroke: #000000; stroke-width: 0.6"/>
      </defs>
      <g>
       <use href="#m05db3bdf9b" x="119.1600" y="409.3200" style="stroke: #000000; stroke-width: 0.6"/>
      </g>
     </g>
    </g>
    <g id="xtick_9">
     <g id="line2d_9">
      <g>
       <use href="#m05db3bdf9b" x="153.0000" y="409.3200" style="stroke: #000000; stroke-width: 0.6"/>
      </g>
     </g>
    </g>
    <g id="xtick_10">
     <g id="line2d_10">
      <g>
       <use href="#m05db3bdf9b" x="219.9600" y="409.3200" style="stroke: #000000; stroke-width: 0.6"/>
      </g>
     </g>
    </g>
    <g id="xtick_11">
     <g id="line2d_11">
      <g>
       <use href="#m05db3bdf9b" x="253.8000" y="409.3200" style="stroke: #000000; stroke-width: 0.6"/>
      </g>
     </g>
    </g>
    <g id="xtick_12">
     <g id="line2d_12">
      <g>
       <use href="#m05db3bdf9b" x="320.7600" y="409.3200" style="stroke: #000000; stroke-width: 0.6"/>
      </g>
     </g>
    </g>
    <g id="xtick_13">
     <g id="line2d_13">
      <g>
       <use href="#m05db3bdf9b" x="353.1600" y="409.3200" style="stroke: #000000; stroke-width: 0.6"/>
      </g>
     </g>
    </g>
    <g id="xtick_14">
     <g id="line2d_14">
      <g>
       <use href="#m05db3bdf9b" x="420.8400" y="409.3200" style="stroke: #000000; stroke-width: 0.6"/>
      </g>
     </g>
    </g>
    <g id="xtick_15">
     <g id="line2d_15">
      <g>
       <use href="#m05db3bdf9b" x="451.8000" y="409.3200" style="stroke: #000000; stroke-width: 0.6"/>
      </g>
     </g>
    </g>
    <g id="xtick_16">
     <g id="line2d_16">
      <g>
       <use href="#m05db3bdf9b" x="518.7600" y="409.3200" style="stroke: #000000; stroke-width: 0.6"/>
      </g>
     </g>
    </g>
    <g id="xtick_17">
     <g id="line2d_17">
      <g>
       <use href="#m05db3bdf9b" x="552.6000" y="409.3200" style="stroke: #000000; stroke-width: 0.6"/>
      </g>
     </g>
    </g>
   </g>
   <g id="matplotlib.axis_2">
    <g id="ytick_1">
     <g id="line2d_18">
      <path d="M 55.548 409.3200
L 565.20288 409.3200
" clip-path="url(#p409145b264)" style="fill: none; stroke: #b0b0b0; stroke-width: 0.8; stroke-linecap: square"/>
     </g>
     <g id="line2d_19">
      <defs>
       <path id="m5d545ce8f8" d="M 0 0 
L -3.5 0 
" style="stroke: #000000; stroke-width: 0.8"/>
      </defs>
      <g>
       <use href="#m5d545ce8f8" x="55.8000" y="409.3200" style="stroke: #000000; stroke-width: 0.8"/>
      </g>
     </g>
     <g id="text_1">
      <text style="font-size: 10px; font-family: 'DejaVu Sans', 'Liberation Sans', sans-serif; text-anchor: end" x="48.548" y="412.759219" transform="translate(1.2240 0.7200) rotate(-0 48.548 412.759219)">0</text>
     </g>
    </g>
    <g id="ytick_2">
     <g id="line2d_20">
      <path d="M 55.548 350.2800
L 565.20288 350.2800
" clip-path="url(#p409145b264)" style="fill: none; stroke: #b0b0b0; stroke-width: 0.8; stroke-linecap: square"/>
     </g>
     <g id="line2d_21">
      <g>
       <use href="#m5d545ce8f8" x="55.8000" y="350.2800" style="stroke: #000000; stroke-width: 0.8"/>
      </g>
     </g>
     <g id="text_2">
      <text style="font-size: 10px; font-family: 'DejaVu Sans', 'Liberation Sans', sans-serif; text-anchor: end" x="48.548" y="353.719219" transform="translate(0.5040 0.6480) rotate(-0 48.548 353.719219)">20000</text>
     </g>
    </g>
    <g id="ytick_3">
     <g id="line2d_22">
      <path d="M 55.548 291.2400
L 565.20288 291.2400
" clip-path="url(#p409145b264)" style="fill: none; stroke: #b0b0b0; stroke-width: 0.8; stroke-linecap: square"/>
     </g>
     <g id="line2d_23">
      <g>
       <use href="#m5d545ce8f8" x="55.8000" y="291.2400" style="stroke: #000000; stroke-width: 0.8"/>
      </g>
     </g>
     <g id="text_3">
      <text style="font-size: 10px; font-family: 'DejaVu Sans', 'Liberation Sans', sans-serif; text-anchor: end" x="48.548" y="294.679219" transform="translate(0.5040 0.8640) rotate(-0 48.548 294.679219)">40000</text>
     </g>
    </g>
    <g id="ytick_4">
     <g id="line2d_24">
      <path d="M 55.548 232.2000
L 565.20288 232.2000
" clip-path="url(#p409145b264)" style="fill: none; stroke: #b0b0b0; stroke-width: 0.8; stroke-linecap: square"/>
     </g>
     <g id="line2d_25">
      <g>
       <use href="#m5d545ce8f8" x="55.8000" y="232.2000" style="stroke: #000000; stroke-width: 0.8"/>
      </g>
     </g>
     <g id="text_4">
      <text style="font-size: 10px; font-family: 'DejaVu Sans', 'Liberation Sans', sans-serif; text-anchor: end" x="48.548" y="235.639219" transform="translate(0.5040 0.0720) rotate(-0 48.548 235.639219)">60000</text>
     </g>
    </g>
    <g id="ytick_5">
     <g id="line2d_26">
      <path d="M 55.548 173.1600
L 565.20288 173.1600
" clip-path="url(#p409145b264)" style="fill: none; stroke: #b0b0b0; stroke-width: 0.8; stroke-linecap: square"/>
     </g>
     <g id="line2d_27">
      <g>
       <use href="#m5d545ce8f8" x="55.8000" y="173.1600" style="stroke: #000000; stroke-width: 0.8"/>
      </g>
     </g>
     <g id="text_5">
      <text style="font-size: 10px; font-family: 'DejaVu Sans', 'Liberation Sans', sans-serif; text-anchor: end" x="48.548" y="176.599219" transform="translate(0.5040 0.0720) rotate(-0 48.548 176.599219)">80000</text>
     </g>
    </g>
    <g id="ytick_6">
     <g id="line2d_28">
      <path d="M 55.548 114.1200
L 565.20288 114.1200
" clip-path="url(#p409145b264)" style="fill: none; stroke: #b0b0b0; stroke-width: 0.8; stroke-linecap: square"/>
     </g>
     <g id="line2d_29">
      <g>
       <use href="#m5d545ce8f8" x="55.8000" y="114.1200" style="stroke: #000000; stroke-width: 0.8"/>
      </g>
     </g>
     <g id="text_6">
      <text style="font-size: 10px; font-family: 'DejaVu Sans', 'Liberation Sans', sans-serif; text-anchor: end" x="48.548" y="117.559219" transform="translate(0.5040 0.0720) rotate(-0 48.548 117.559219)">100000</text>
     </g>
    </g>
    <g id="ytick_7">
     <g id="line2d_30">
      <path d="M 55.548 55.0800
L 565.20288 55.0800
" clip-path="url(#p409145b264)" style="fill: none; stroke: #b0b0b0; stroke-width: 0.8; stroke-linecap: square"/>
     </g>
     <g id="line2d_31">
      <g>
       <use href="#m5d545ce8f8" x="55.8000" y="55.0800" style="stroke: #000000; stroke-width: 0.8"/>
      </g>
     </g>
     <g id="text_7">
      <text style="font-size: 10px; font-family: 'DejaVu Sans', 'Liberation Sans', sans-serif; text-anchor: end" x="48.548" y="58.519219" transform="translate(0.5040 -0.1080) rotate(-0 48.548 58.519219)">120000</text>
     </g>
    </g>
   </g>
   <g id="line2d_32">
    <path d="M 55.548 408.96 
L 62.11008 408.939749 
L 63.20376 408.802714 
L 64.29744 408.903678 
L 65.39112 408.889753 
L 67.57848 408.714482 
L 70.85952 408.647575 
L 71.9532 408.566297 
L 73.04688 407.891519 
L 76.32792 405.383971 
L 78.51528 403.838083 
L 79.60896 403.229642 
L 81.79632 401.763954 
L 82.89 401.226236 
L 83.98368 400.876191 
L 85.07736 400.281568 
L 86.17104 399.859847 
L 87.26472 399.60133 
L 88.3584 399.566345 
L 89.45208 399.196118 
L 92.73312 399.098166 
L 93.8268 399.45839 
L 96.01416 399.552306 
L 97.10784 400.070782 
L 100.38888 401.013426 
L 101.48256 401.478851 
L 103.66992 401.729963 
L 104.7636 402.149693 
L 105.85728 402.107255 
L 108.04464 402.507885 
L 109.13832 402.41547 
L 111.32568 403.063781 
L 123.35616 403.736877 
L 124.44984 403.888735 
L 126.6372 403.891375 
L 128.82456 403.82572 
L 129.91824 404.031648 
L 132.1056 403.915557 
L 133.19928 404.094666 
L 136.48032 403.796234 
L 140.85504 403.920242 
L 141.94872 403.796744 
L 143.0424 403.934902 
L 144.13608 403.930564 
L 146.32344 403.618513 
L 149.60448 403.208196 
L 150.69816 403.047564 
L 151.79184 402.750458 
L 156.16656 402.294386 
L 157.26024 402.033803 
L 160.54128 401.854841 
L 161.63496 401.60693 
L 162.72864 401.69703 
L 163.82232 401.612717 
L 164.916 401.260875 
L 166.00968 401.103549 
L 168.19704 400.295653 
L 169.29072 400.498244 
L 170.3844 400.359876 
L 172.57176 399.797587 
L 174.75912 399.529103 
L 175.8528 399.199682 
L 176.94648 399.070764 
L 178.04016 399.133193 
L 181.3212 398.349256 
L 182.41488 397.533561 
L 183.50856 396.974535 
L 184.60224 396.002697 
L 188.97696 393.738154 
L 190.07064 393.531942 
L 192.258 391.652723 
L 193.35168 391.480363 
L 194.44536 390.202816 
L 195.53904 389.928403 
L 196.63272 388.606043 
L 197.7264 388.09371 
L 198.82008 386.925136 
L 199.91376 386.391461 
L 201.00744 386.052652 
L 202.10112 384.415708 
L 203.1948 383.485545 
L 204.28848 383.252995 
L 205.38216 382.666186 
L 207.56952 381.294403 
L 208.6632 379.982943 
L 209.75688 380.272349 
L 210.85056 380.279076 
L 211.94424 380.491076 
L 214.1316 380.563078 
L 215.22528 379.824751 
L 217.41264 380.536185 
L 219.6 382.228676 
L 222.88104 383.668436 
L 225.0684 385.493123 
L 226.16208 386.699697 
L 227.25576 387.268437 
L 228.34944 387.407743 
L 229.44312 388.94595 
L 230.5368 390.064709 
L 231.63048 390.823612 
L 232.72416 391.884817 
L 233.81784 393.835737 
L 234.91152 394.757393 
L 237.09888 395.368369 
L 238.19256 395.021647 
L 241.4736 395.777675 
L 242.56728 395.757472 
L 243.66096 396.08062 
L 244.75464 396.2572 
L 245.84832 396.631066 
L 246.942 396.748111 
L 248.03568 396.451621 
L 249.12936 396.754407 
L 250.22304 396.681823 
L 253.50408 396.821532 
L 254.59776 396.620841 
L 255.69144 396.763287 
L 257.8788 396.667466 
L 258.97248 396.431764 
L 261.15984 396.631459 
L 262.25352 396.888916 
L 263.3472 397.002192 
L 264.44088 396.533107 
L 265.53456 396.47245 
L 266.62824 396.680361 
L 269.90928 396.46022 
L 271.00296 396.502402 
L 272.09664 396.705566 
L 273.19032 396.470181 
L 274.284 396.897013 
L 275.37768 396.612864 
L 277.56504 396.521372 
L 278.65872 396.333962 
L 279.7524 396.521725 
L 280.84608 397.15556 
L 281.93976 397.304034 
L 283.03344 396.90524 
L 284.12712 397.162255 
L 286.31448 396.935295 
L 287.40816 397.469609 
L 288.50184 397.599347 
L 289.59552 397.158405 
L 291.78288 397.22226 
L 292.87656 397.243336 
L 295.06392 397.616619 
L 296.1576 397.428805 
L 298.34496 397.69813 
L 299.43864 397.337092 
L 301.626 397.38351 
L 302.71968 397.675211 
L 306.00072 397.903762 
L 307.0944 397.800852 
L 308.18808 397.976283 
L 311.46912 397.727258 
L 312.5628 398.298802 
L 313.65648 398.119354 
L 315.84384 398.445624 
L 316.93752 398.746761 
L 319.12488 398.495614 
L 320.21856 398.670138 
L 322.40592 398.203473 
L 323.4996 397.712123 
L 324.59328 397.700959 
L 325.68696 397.861898 
L 326.78064 397.438368 
L 328.968 397.391381 
L 331.15536 395.728527 
L 333.34272 395.790971 
L 334.4364 395.422934 
L 335.53008 394.677568 
L 337.71744 394.352435 
L 339.9048 393.921222 
L 340.99848 393.559671 
L 342.09216 393.436564 
L 344.27952 393.564301 
L 345.3732 393.11447 
L 346.46688 393.086411 
L 347.56056 392.632711 
L 348.65424 392.970197 
L 349.74792 392.618036 
L 350.8416 392.428375 
L 351.93528 392.454901 
L 353.02896 391.478853 
L 354.12264 391.316083 
L 355.21632 391.673035 
L 356.31 391.280223 
L 357.40368 391.576629 
L 358.49736 392.411192 
L 359.59104 391.826635 
L 360.68472 391.802963 
L 361.7784 391.93286 
L 362.87208 392.299125 
L 365.05944 392.112968 
L 366.15312 391.833288 
L 367.2468 392.100732 
L 368.34048 392.23686 
L 369.43416 391.808019 
L 370.52784 391.883643 
L 372.7152 391.414734 
L 373.80888 390.021718 
L 375.99624 389.166339 
L 378.1836 388.58412 
L 381.46464 386.807993 
L 382.55832 385.946948 
L 383.652 384.829311 
L 386.93304 383.697011 
L 388.02672 382.648285 
L 389.1204 380.988916 
L 393.49512 378.13927 
L 394.5888 377.189985 
L 395.68248 377.011814 
L 396.77616 377.511638 
L 400.0572 377.930627 
L 401.15088 378.540385 
L 402.24456 378.605896 
L 403.33824 379.027648 
L 404.43192 379.023536 
L 405.5256 379.811608 
L 406.61928 379.82714 
L 407.71296 379.967446 
L 408.80664 381.003524 
L 409.90032 381.6216 
L 410.994 381.756295 
L 412.08768 382.167665 
L 413.18136 382.750264 
L 415.36872 382.36421 
L 416.4624 383.372746 
L 418.64976 384.434794 
L 419.74344 384.463726 
L 420.83712 385.23063 
L 421.9308 385.447294 
L 423.02448 385.088014 
L 424.11816 385.856398 
L 425.21184 385.61526 
L 426.30552 385.732507 
L 427.3992 386.451192 
L 428.49288 386.72116 
L 429.58656 387.352186 
L 430.68024 389.018863 
L 431.77392 390.34718 
L 432.8676 390.982241 
L 435.05496 390.621418 
L 436.14864 391.151341 
L 437.24232 392.092552 
L 438.336 392.48858 
L 440.52336 392.756788 
L 441.61704 393.152291 
L 443.8044 393.706263 
L 444.89808 394.173668 
L 448.17912 395.05469 
L 450.36648 395.204938 
L 453.64752 396.991378 
L 454.7412 397.041259 
L 455.83488 397.721626 
L 456.92856 397.918543 
L 458.02224 397.76324 
L 459.11592 398.052393 
L 461.30328 399.092537 
L 462.39696 399.057291 
L 463.49064 399.145832 
L 465.678 398.891809 
L 467.86536 399.746839 
L 468.95904 399.792946 
L 470.05272 399.589264 
L 474.42744 399.536559 
L 475.52112 399.162865 
L 476.6148 399.050344 
L 477.70848 399.068316 
L 478.80216 399.262583 
L 479.89584 399.136881 
L 485.36424 399.294932 
L 486.45792 398.906156 
L 487.5516 398.943776 
L 489.73896 398.754274 
L 490.83264 399.1418 
L 491.92632 399.003956 
L 493.02 398.74948 
L 494.11368 398.666213 
L 495.20736 398.723768 
L 496.30104 398.586681 
L 497.39472 398.791432 
L 498.4884 399.122671 
L 499.58208 399.114924 
L 500.67576 398.864777 
L 501.76944 399.005005 
L 502.86312 399.365493 
L 503.9568 398.971041 
L 506.14416 399.029667 
L 507.23784 399.351601 
L 509.4252 399.545186 
L 510.51888 399.112423 
L 511.61256 399.42927 
L 512.70624 399.367836 
L 513.79992 399.683023 
L 514.8936 399.728762 
L 515.98728 399.99179 
L 518.17464 399.678289 
L 519.26832 399.948922 
L 520.362 399.711579 
L 521.45568 399.833781 
L 522.54936 400.097914 
L 526.92408 400.182567 
L 531.2988 400.447703 
L 533.48616 400.199598 
L 534.57984 400.524707 
L 535.67352 400.485698 
L 537.86088 400.748179 
L 538.95456 400.629015 
L 540.04824 400.806347 
L 541.14192 400.727028 
L 542.2356 401.051831 
L 543.32928 401.072117 
L 545.51664 401.382476 
L 546.61032 401.334792 
L 552.07872 401.928483 
L 554.26608 402.012312 
L 555.35976 402.300859 
L 556.45344 402.396276 
L 557.54712 402.618897 
L 558.6408 402.5383 
L 560.82816 402.988335 
L 563.01552 402.900256 
L 564.1092 403.249289 
L 565.20288 403.344595 
L 565.20288 403.344595 
" clip-path="url(#p409145b264)" style="fill: none; stroke: #1f77b4; stroke-width: 1.5; stroke-linecap: square"/>
   </g>
   <g id="line2d_33">
    <defs>
     <path id="mcd47077251" d="M 0 3 
C 0.795609 3 1.55874 2.683901 2.12132 2.12132 
C 2.683901 1.55874 3 0.795609 3 0 
C 3 -0.795609 2.683901 -1.55874 2.12132 -2.12132 
C 1.55874 -2.683901 0.795609 -3 0 -3 
C -0.795609 -3 -1.55874 -2.683901 -2.12132 -2.12132 
C -2.683901 -1.55874 -3 -0.795609 -3 0 
C -3 0.795609 -2.683901 1.55874 -2.12132 2.12132 
C -1.55874 2.683901 -0.795609 3 0 3 
z
" style="stroke: #ff7f0e"/>
    </defs>
    <g clip-path="url(#p409145b264)">
     <use href="#mcd47077251" x="168.3" y="403.2" style="fill: #ff7f0e; stroke: #ff7f0e"/>
     <use href="#mcd47077251" x="173.7" y="397.8" style="fill: #ff7f0e; stroke: #ff7f0e"/>
     <use href="#mcd47077251" x="176.4" y="400.5" style="fill: #ff7f0e; stroke: #ff7f0e"/>
     <use href="#mcd47077251" x="177.768" y="393.3" style="fill: #ff7f0e; stroke: #ff7f0e"/>
     <use href="#mcd47077251" x="181.368" y="381.6" style="fill: #ff7f0e; stroke: #ff7f0e"/>
     <use href="#mcd47077251" x="184.968" y="390.6" style="fill: #ff7f0e; stroke: #ff7f0e"/>
     <use href="#mcd47077251" x="189.432" y="375.3" style="fill: #ff7f0e; stroke: #ff7f0e"/>
     <use href="#mcd47077251" x="191.7" y="390.168" style="fill: #ff7f0e; stroke: #ff7f0e"/>
     <use href="#mcd47077251" x="195.3" y="376.2" style="fill: #ff7f0e; stroke: #ff7f0e"/>
     <use href="#mcd47077251" x="198" y="363.6" style="fill: #ff7f0e; stroke: #ff7f0e"/>
     <use href="#mcd47077251" x="198.432" y="372.6" style="fill: #ff7f0e; stroke: #ff7f0e"/>
     <use href="#mcd47077251" x="200.232" y="381.6" style="fill: #ff7f0e; stroke: #ff7f0e"/>
     <use href="#mcd47077251" x="202.5" y="368.1" style="fill: #ff7f0e; stroke: #ff7f0e"/>
     <use href="#mcd47077251" x="204.3" y="372.6" style="fill: #ff7f0e; stroke: #ff7f0e"/>
     <use href="#mcd47077251" x="207.432" y="380.7" style="fill: #ff7f0e; stroke: #ff7f0e"/>
     <use href="#mcd47077251" x="211.5" y="372.6" style="fill: #ff7f0e; stroke: #ff7f0e"/>
     <use href="#mcd47077251" x="214.632" y="382.5" style="fill: #ff7f0e; stroke: #ff7f0e"/>
     <use href="#mcd47077251" x="217.8" y="378.9" style="fill: #ff7f0e; stroke: #ff7f0e"/>
     <use href="#mcd47077251" x="220.5" y="381.6" style="fill: #ff7f0e; stroke: #ff7f0e"/>
     <use href="#mcd47077251" x="221.4" y="387.9" style="fill: #ff7f0e; stroke: #ff7f0e"/>
     <use href="#mcd47077251" x="222.3" y="395.1" style="fill: #ff7f0e; stroke: #ff7f0e"/>
     <use href="#mcd47077251" x="227.7" y="383.4" style="fill: #ff7f0e; stroke: #ff7f0e"/>
     <use href="#mcd47077251" x="229.968" y="396.9" style="fill: #ff7f0e; stroke: #ff7f0e"/>
     <use href="#mcd47077251" x="232.2" y="385.2" style="fill: #ff7f0e; stroke: #ff7f0e"/>
     <use href="#mcd47077251" x="234.9" y="388.8" style="fill: #ff7f0e; stroke: #ff7f0e"/>
     <use href="#mcd47077251" x="236.232" y="399.6" style="fill: #ff7f0e; stroke: #ff7f0e"/>
     <use href="#mcd47077251" x="173.34" y="397.8" style="fill: #ff7f0e; stroke: #ff7f0e"/>
     <use href="#mcd47077251" x="177.84" y="392.832" style="fill: #ff7f0e; stroke: #ff7f0e"/>
     <use href="#mcd47077251" x="181.44" y="381.6" style="fill: #ff7f0e; stroke: #ff7f0e"/>
     <use href="#mcd47077251" x="184.14" y="393.3" style="fill: #ff7f0e; stroke: #ff7f0e"/>
     <use href="#mcd47077251" x="185.94" y="389.7" style="fill: #ff7f0e; stroke: #ff7f0e"/>
     <use href="#mcd47077251" x="189.54" y="374.4" style="fill: #ff7f0e; stroke: #ff7f0e"/>
     <use href="#mcd47077251" x="192.24" y="389.7" style="fill: #ff7f0e; stroke: #ff7f0e"/>
     <use href="#mcd47077251" x="194.04" y="374.4" style="fill: #ff7f0e; stroke: #ff7f0e"/>
     <use href="#mcd47077251" x="197.64" y="363.6" style="fill: #ff7f0e; stroke: #ff7f0e"/>
     <use href="#mcd47077251" x="196.2" y="387" style="fill: #ff7f0e; stroke: #ff7f0e"/>
     <use href="#mcd47077251" x="199.44" y="385.92" style="fill: #ff7f0e; stroke: #ff7f0e"/>
     <use href="#mcd47077251" x="203.76" y="382.32" style="fill: #ff7f0e; stroke: #ff7f0e"/>
     <use href="#mcd47077251" x="239.4" y="395.1" style="fill: #ff7f0e; stroke: #ff7f0e"/>
     <use href="#mcd47077251" x="242.1" y="396" style="fill: #ff7f0e; stroke: #ff7f0e"/>
     <use href="#mcd47077251" x="244.8" y="401.4" style="fill: #ff7f0e; stroke: #ff7f0e"/>
     <use href="#mcd47077251" x="249.3" y="398.7" style="fill: #ff7f0e; stroke: #ff7f0e"/>
     <use href="#mcd47077251" x="252" y="403.2" style="fill: #ff7f0e; stroke: #ff7f0e"/>
     <use href="#mcd47077251" x="253.8" y="387" style="fill: #ff7f0e; stroke: #ff7f0e"/>
     <use href="#mcd47077251" x="257.4" y="399.6" style="fill: #ff7f0e; stroke: #ff7f0e"/>
     <use href="#mcd47077251" x="261" y="403.2" style="fill: #ff7f0e; stroke: #ff7f0e"/>
     <use href="#mcd47077251" x="263.7" y="397.8" style="fill: #ff7f0e; stroke: #ff7f0e"/>
     <use href="#mcd47077251" x="267.3" y="403.2" style="fill: #ff7f0e; stroke: #ff7f0e"/>
     <use href="#mcd47077251" x="271.8" y="399.6" style="fill: #ff7f0e; stroke: #ff7f0e"/>
     <use href="#mcd47077251" x="275.4" y="403.2" style="fill: #ff7f0e; stroke: #ff7f0e"/>
     <use href="#mcd47077251" x="279" y="399.6" style="fill: #ff7f0e; stroke: #ff7f0e"/>
     <use href="#mcd47077251" x="281.7" y="404.1" style="fill: #ff7f0e; stroke: #ff7f0e"/>
     <use href="#mcd47077251" x="285.3" y="401.4" style="fill: #ff7f0e; stroke: #ff7f0e"/>
     <use href="#mcd47077251" x="289.8" y="403.2" style="fill: #ff7f0e; stroke: #ff7f0e"/>
     <use href="#mcd47077251" x="293.4" y="399.6" style="fill: #ff7f0e; stroke: #ff7f0e"/>
     <use href="#mcd47077251" x="297.9" y="392.4" style="fill: #ff7f0e; stroke: #ff7f0e"/>
     <use href="#mcd47077251" x="297" y="403.2" style="fill: #ff7f0e; stroke: #ff7f0e"/>
     <use href="#mcd47077251" x="302.4" y="398.7" style="fill: #ff7f0e; stroke: #ff7f0e"/>
     <use href="#mcd47077251" x="306" y="403.2" style="fill: #ff7f0e; stroke: #ff7f0e"/>
     <use href="#mcd47077251" x="308.7" y="392.4" style="fill: #ff7f0e; stroke: #ff7f0e"/>
     <use href="#mcd47077251" x="309.6" y="392.4" style="fill: #ff7f0e; stroke: #ff7f0e"/>
     <use href="#mcd47077251" x="311.4" y="401.4" style="fill: #ff7f0e; stroke: #ff7f0e"/>
     <use href="#mcd47077251" x="318.6" y="393.3" style="fill: #ff7f0e; stroke: #ff7f0e"/>
     <use href="#mcd47077251" x="318.6" y="403.2" style="fill: #ff7f0e; stroke: #ff7f0e"/>
     <use href="#mcd47077251" x="324" y="392.4" style="fill: #ff7f0e; stroke: #ff7f0e"/>
     <use href="#mcd47077251" x="327.6" y="389.7" style="fill: #ff7f0e; stroke: #ff7f0e"/>
     <use href="#mcd47077251" x="329.4" y="397.8" style="fill: #ff7f0e; stroke: #ff7f0e"/>
     <use href="#mcd47077251" x="335.7" y="379.8" style="fill: #ff7f0e; stroke: #ff7f0e"/>
     <use href="#mcd47077251" x="336.6" y="395.1" style="fill: #ff7f0e; stroke: #ff7f0e"/>
     <use href="#mcd47077251" x="338.4" y="385.2" style="fill: #ff7f0e; stroke: #ff7f0e"/>
     <use href="#mcd47077251" x="342" y="383.4" style="fill: #ff7f0e; stroke: #ff7f0e"/>
     <use href="#mcd47077251" x="343.8" y="390.6" style="fill: #ff7f0e; stroke: #ff7f0e"/>
     <use href="#mcd47077251" x="346.5" y="385.2" style="fill: #ff7f0e; stroke: #ff7f0e"/>
     <use href="#mcd47077251" x="347.4" y="408.96" style="fill: #ff7f0e; stroke: #ff7f0e"/>
     <use href="#mcd47077251" x="348.84" y="357.84" style="fill: #ff7f0e; stroke: #ff7f0e"/>
     <use href="#mcd47077251" x="350.1" y="390.6" style="fill: #ff7f0e; stroke: #ff7f0e"/>
     <use href="#mcd47077251" x="353.7" y="381.6" style="fill: #ff7f0e; stroke: #ff7f0e"/>
     <use href="#mcd47077251" x="355.5" y="378" style="fill: #ff7f0e; stroke: #ff7f0e"/>
     <use href="#mcd47077251" x="358.2" y="383.4" style="fill: #ff7f0e; stroke: #ff7f0e"/>
     <use href="#mcd47077251" x="360" y="386.1" style="fill: #ff7f0e; stroke: #ff7f0e"/>
     <use href="#mcd47077251" x="361.8" y="379.8" style="fill: #ff7f0e; stroke: #ff7f0e"/>
     <use href="#mcd47077251" x="364.5" y="374.4" style="fill: #ff7f0e; stroke: #ff7f0e"/>
     <use href="#mcd47077251" x="365.4" y="385.2" style="fill: #ff7f0e; stroke: #ff7f0e"/>
     <use href="#mcd47077251" x="368.1" y="379.8" style="fill: #ff7f0e; stroke: #ff7f0e"/>
     <use href="#mcd47077251" x="370.8" y="369.9" style="fill: #ff7f0e; stroke: #ff7f0e"/>
     <use href="#mcd47077251" x="373.5" y="384.3" style="fill: #ff7f0e; stroke: #ff7f0e"/>
     <use href="#mcd47077251" x="375.3" y="377.1" style="fill: #ff7f0e; stroke: #ff7f0e"/>
     <use href="#mcd47077251" x="378" y="369.9" style="fill: #ff7f0e; stroke: #ff7f0e"/>
     <use href="#mcd47077251" x="379.8" y="358.2" style="fill: #ff7f0e; stroke: #ff7f0e"/>
     <use href="#mcd47077251" x="379.8" y="408.96" style="fill: #ff7f0e; stroke: #ff7f0e"/>
     <use href="#mcd47077251" x="381.6" y="386.1" style="fill: #ff7f0e; stroke: #ff7f0e"/>
     <use href="#mcd47077251" x="384.3" y="368.1" style="fill: #ff7f0e; stroke: #ff7f0e"/>
     <use href="#mcd47077251" x="384.3" y="373.5" style="fill: #ff7f0e; stroke: #ff7f0e"/>
     <use href="#mcd47077251" x="386.1" y="358.2" style="fill: #ff7f0e; stroke: #ff7f0e"/>
     <use href="#mcd47077251" x="387" y="408.96" style="fill: #ff7f0e; stroke: #ff7f0e"/>
     <use href="#mcd47077251" x="388.44" y="316.26" style="fill: #ff7f0e; stroke: #ff7f0e"/>
     <use href="#mcd47077251" x="390.6" y="377.1" style="fill: #ff7f0e; stroke: #ff7f0e"/>
     <use href="#mcd47077251" x="391.5" y="363.6" style="fill: #ff7f0e; stroke: #ff7f0e"/>
     <use href="#mcd47077251" x="392.4" y="356.4" style="fill: #ff7f0e; stroke: #ff7f0e"/>
     <use href="#mcd47077251" x="394.2" y="351" style="fill: #ff7f0e; stroke: #ff7f0e"/>
     <use href="#mcd47077251" x="396" y="363.6" style="fill: #ff7f0e; stroke: #ff7f0e"/>
     <use href="#mcd47077251" x="397.26" y="373.5" style="fill: #ff7f0e; stroke: #ff7f0e"/>
     <use href="#mcd47077251" x="399.6" y="366.3" style="fill: #ff7f0e; stroke: #ff7f0e"/>
     <use href="#mcd47077251" x="401.4" y="370.8" style="fill: #ff7f0e; stroke: #ff7f0e"/>
     <use href="#mcd47077251" x="402.84" y="359.1" style="fill: #ff7f0e; stroke: #ff7f0e"/>
     <use href="#mcd47077251" x="405" y="375.3" style="fill: #ff7f0e; stroke: #ff7f0e"/>
     <use href="#mcd47077251" x="405.9" y="385.2" style="fill: #ff7f0e; stroke: #ff7f0e"/>
     <use href="#mcd47077251" x="409.5" y="369" style="fill: #ff7f0e; stroke: #ff7f0e"/>
     <use href="#mcd47077251" x="410.4" y="374.4" style="fill: #ff7f0e; stroke: #ff7f0e"/>
     <use href="#mcd47077251" x="412.2" y="379.8" style="fill: #ff7f0e; stroke: #ff7f0e"/>
     <use href="#mcd47077251" x="415.8" y="375.3" style="fill: #ff7f0e; stroke: #ff7f0e"/>
     <use href="#mcd47077251" x="415.8" y="383.4" style="fill: #ff7f0e; stroke: #ff7f0e"/>
     <use href="#mcd47077251" x="419.4" y="365.04" style="fill: #ff7f0e; stroke: #ff7f0e"/>
     <use href="#mcd47077251" x="421.2" y="378" style="fill: #ff7f0e; stroke: #ff7f0e"/>
     <use href="#mcd47077251" x="422.1" y="392.4" style="fill: #ff7f0e; stroke: #ff7f0e"/>
     <use href="#mcd47077251" x="425.7" y="375.3" style="fill: #ff7f0e; stroke: #ff7f0e"/>
     <use href="#mcd47077251" x="426.6" y="387" style="fill: #ff7f0e; stroke: #ff7f0e"/>
     <use href="#mcd47077251" x="428.4" y="392.4" style="fill: #ff7f0e; stroke: #ff7f0e"/>
     <use href="#mcd47077251" x="432" y="383.4" style="fill: #ff7f0e; stroke: #ff7f0e"/>
     <use href="#mcd47077251" x="433.8" y="390.6" style="fill: #ff7f0e; stroke: #ff7f0e"/>
     <use href="#mcd47077251" x="436.5" y="397.8" style="fill: #ff7f0e; stroke: #ff7f0e"/>
     <use href="#mcd47077251" x="439.2" y="387.9" style="fill: #ff7f0e; stroke: #ff7f0e"/>
     <use href="#mcd47077251" x="441.9" y="388.8" style="fill: #ff7f0e; stroke: #ff7f0e"/>
     <use href="#mcd47077251" x="443.7" y="396" style="fill: #ff7f0e; stroke: #ff7f0e"/>
     <use href="#mcd47077251" x="446.4" y="388.8" style="fill: #ff7f0e; stroke: #ff7f0e"/>
     <use href="#mcd47077251" x="450" y="392.4" style="fill: #ff7f0e; stroke: #ff7f0e"/>
     <use href="#mcd47077251" x="451.8" y="404.1" style="fill: #ff7f0e; stroke: #ff7f0e"/>
     <use href="#mcd47077251" x="453.6" y="388.8" style="fill: #ff7f0e; stroke: #ff7f0e"/>
     <use href="#mcd47077251" x="457.2" y="393.3" style="fill: #ff7f0e; stroke: #ff7f0e"/>
     <use href="#mcd47077251" x="459.9" y="398.7" style="fill: #ff7f0e; stroke: #ff7f0e"/>
     <use href="#mcd47077251" x="461.7" y="394.2" style="fill: #ff7f0e; stroke: #ff7f0e"/>
     <use href="#mcd47077251" x="465.3" y="393.3" style="fill: #ff7f0e; stroke: #ff7f0e"/>
     <use href="#mcd47077251" x="467.1" y="400.5" style="fill: #ff7f0e; stroke: #ff7f0e"/>
     <use href="#mcd47077251" x="470.7" y="394.2" style="fill: #ff7f0e; stroke: #ff7f0e"/>
     <use href="#mcd47077251" x="474.3" y="400.5" style="fill: #ff7f0e; stroke: #ff7f0e"/>
     <use href="#mcd47077251" x="476.1" y="393.3" style="fill: #ff7f0e; stroke: #ff7f0e"/>
     <use href="#mcd47077251" x="479.7" y="392.4" style="fill: #ff7f0e; stroke: #ff7f0e"/>
     <use href="#mcd47077251" x="482.4" y="398.7" style="fill: #ff7f0e; stroke: #ff7f0e"/>
     <use href="#mcd47077251" x="486" y="388.8" style="fill: #ff7f0e; stroke: #ff7f0e"/>
     <use href="#mcd47077251" x="488.7" y="393.3" style="fill: #ff7f0e; stroke: #ff7f0e"/>
     <use href="#mcd47077251" x="490.608" y="398.592" style="fill: #ff7f0e; stroke: #ff7f0e"/>
     <use href="#mcd47077251" x="491.58" y="389.7" style="fill: #ff7f0e; stroke: #ff7f0e"/>
     <use href="#mcd47077251" x="493.56" y="385.74" style="fill: #ff7f0e; stroke: #ff7f0e"/>
     <use href="#mcd47077251" x="496.512" y="392.688" style="fill: #ff7f0e; stroke: #ff7f0e"/>
     <use href="#mcd47077251" x="498.528" y="382.32" style="fill: #ff7f0e; stroke: #ff7f0e"/>
     <use href="#mcd47077251" x="497.52" y="405.072" style="fill: #ff7f0e; stroke: #ff7f0e"/>
     <use href="#mcd47077251" x="501.48" y="387.72" style="fill: #ff7f0e; stroke: #ff7f0e"/>
     <use href="#mcd47077251" x="504.936" y="397.152" style="fill: #ff7f0e; stroke: #ff7f0e"/>
     <use href="#mcd47077251" x="507.42" y="389.7" style="fill: #ff7f0e; stroke: #ff7f0e"/>
     <use href="#mcd47077251" x="510.408" y="387.72" style="fill: #ff7f0e; stroke: #ff7f0e"/>
     <use href="#mcd47077251" x="512.352" y="398.592" style="fill: #ff7f0e; stroke: #ff7f0e"/>
     <use href="#mcd47077251" x="516.312" y="392.688" style="fill: #ff7f0e; stroke: #ff7f0e"/>
     <use href="#mcd47077251" x="519.336" y="393.696" style="fill: #ff7f0e; stroke: #ff7f0e"/>
     <use href="#mcd47077251" x="520.272" y="399.6" style="fill: #ff7f0e; stroke: #ff7f0e"/>
     <use href="#mcd47077251" x="523.296" y="395.64" style="fill: #ff7f0e; stroke: #ff7f0e"/>
     <use href="#mcd47077251" x="527.256" y="401.616" style="fill: #ff7f0e; stroke: #ff7f0e"/>
     <use href="#mcd47077251" x="531.216" y="397.656" style="fill: #ff7f0e; stroke: #ff7f0e"/>
     <use href="#mcd47077251" x="535.176" y="400.608" style="fill: #ff7f0e; stroke: #ff7f0e"/>
     <use href="#mcd47077251" x="538.128" y="400.608" style="fill: #ff7f0e; stroke: #ff7f0e"/>
     <use href="#mcd47077251" x="541.584" y="398.592" style="fill: #ff7f0e; stroke: #ff7f0e"/>
     <use href="#mcd47077251" x="544.104" y="403.56" style="fill: #ff7f0e; stroke: #ff7f0e"/>
     <use href="#mcd47077251" x="547.056" y="402.552" style="fill: #ff7f0e; stroke: #ff7f0e"/>
     <use href="#mcd47077251" x="550.008" y="403.56" style="fill: #ff7f0e; stroke: #ff7f0e"/>
     <use href="#mcd47077251" x="552.456" y="391.68" style="fill: #ff7f0e; stroke: #ff7f0e"/>
     <use href="#mcd47077251" x="556.92" y="400.608" style="fill: #ff7f0e; stroke: #ff7f0e"/>
     <use href="#mcd47077251" x="554.976" y="405.576" style="fill: #ff7f0e; stroke: #ff7f0e"/>
     <use href="#mcd47077251" x="563.04" y="375.336" style="fill: #ff7f0e; stroke: #ff7f0e"/>
     <use href="#mcd47077251" x="55.548" y="409.32" style="fill: #ff7f0e; stroke: #ff7f0e"/>
     <use href="#mcd47077251" x="56.64168" y="409.32" style="fill: #ff7f0e; stroke: #ff7f0e"/>
     <use href="#mcd47077251" x="57.73536" y="409.32" style="fill: #ff7f0e; stroke: #ff7f0e"/>
     <use href="#mcd47077251" x="58.82904" y="409.32" style="fill: #ff7f0e; stroke: #ff7f0e"/>
     <use href="#mcd47077251" x="59.92272" y="409.32" style="fill: #ff7f0e; stroke: #ff7f0e"/>
     <use href="#mcd47077251" x="61.0164" y="409.32" style="fill: #ff7f0e; stroke: #ff7f0e"/>
     <use href="#mcd47077251" x="62.11008" y="409.32" style="fill: #ff7f0e; stroke: #ff7f0e"/>
     <use href="#mcd47077251" x="63.20376" y="409.32" style="fill: #ff7f0e; stroke: #ff7f0e"/>
     <use href="#mcd47077251" x="64.29744" y="409.32" style="fill: #ff7f0e; stroke: #ff7f0e"/>
     <use href="#mcd47077251" x="65.39112" y="409.32" style="fill: #ff7f0e; stroke: #ff7f0e"/>
     <use href="#mcd47077251" x="66.4848" y="409.32" style="fill: #ff7f0e; stroke: #ff7f0e"/>
     <use href="#mcd47077251" x="67.57848" y="409.32" style="fill: #ff7f0e; stroke: #ff7f0e"/>
     <use href="#mcd47077251" x="68.67216" y="409.32" style="fill: #ff7f0e; stroke: #ff7f0e"/>
     <use href="#mcd47077251" x="69.76584" y="409.32" style="fill: #ff7f0e; stroke: #ff7f0e"/>
     <use href="#mcd47077251" x="70.85952" y="409.32" style="fill: #ff7f0e; stroke: #ff7f0e"/>
     <use href="#mcd47077251" x="71.9532" y="409.32" style="fill: #ff7f0e; stroke: #ff7f0e"/>
     <use href="#mcd47077251" x="73.04688" y="409.32" style="fill: #ff7f0e; stroke: #ff7f0e"/>
     <use href="#mcd47077251" x="74.14056" y="409.32" style="fill: #ff7f0e; stroke: #ff7f0e"/>
     <use href="#mcd47077251" x="75.23424" y="409.32" style="fill: #ff7f0e; stroke: #ff7f0e"/>
     <use href="#mcd47077251" x="76.32792" y="409.07872" style="fill: #ff7f0e; stroke: #ff7f0e"/>
     <use href="#mcd47077251" x="77.4216" y="409.32" style="fill: #ff7f0e; stroke: #ff7f0e"/>
     <use href="#mcd47077251" x="78.51528" y="406.937724" style="fill: #ff7f0e; stroke: #ff7f0e"/>
     <use href="#mcd47077251" x="79.60896" y="407.270921" style="fill: #ff7f0e; stroke: #ff7f0e"/>
     <use href="#mcd47077251" x="80.70264" y="406.547414" style="fill: #ff7f0e; stroke: #ff7f0e"/>
     <use href="#mcd47077251" x="81.79632" y="405.672093" style="fill: #ff7f0e; stroke: #ff7f0e"/>
     <use href="#mcd47077251" x="82.89" y="405.74832" style="fill: #ff7f0e; stroke: #ff7f0e"/>
     <use href="#mcd47077251" x="83.98368" y="404.577039" style="fill: #ff7f0e; stroke: #ff7f0e"/>
     <use href="#mcd47077251" x="85.07736" y="405.732211" style="fill: #ff7f0e; stroke: #ff7f0e"/>
     <use href="#mcd47077251" x="86.17104" y="405.622921" style="fill: #ff7f0e; stroke: #ff7f0e"/>
     <use href="#mcd47077251" x="87.26472" y="403.572714" style="fill: #ff7f0e; stroke: #ff7f0e"/>
     <use href="#mcd47077251" x="88.3584" y="404.789824" style="fill: #ff7f0e; stroke: #ff7f0e"/>
     <use href="#mcd47077251" x="89.45208" y="404.675765" style="fill: #ff7f0e; stroke: #ff7f0e"/>
     <use href="#mcd47077251" x="90.54576" y="404.551375" style="fill: #ff7f0e; stroke: #ff7f0e"/>
     <use href="#mcd47077251" x="91.63944" y="406.906451" style="fill: #ff7f0e; stroke: #ff7f0e"/>
     <use href="#mcd47077251" x="92.73312" y="405.779693" style="fill: #ff7f0e; stroke: #ff7f0e"/>
     <use href="#mcd47077251" x="93.8268" y="405.115956" style="fill: #ff7f0e; stroke: #ff7f0e"/>
     <use href="#mcd47077251" x="94.92048" y="406.488198" style="fill: #ff7f0e; stroke: #ff7f0e"/>
     <use href="#mcd47077251" x="96.01416" y="405.348461" style="fill: #ff7f0e; stroke: #ff7f0e"/>
     <use href="#mcd47077251" x="97.10784" y="407.158034" style="fill: #ff7f0e; stroke: #ff7f0e"/>
     <use href="#mcd47077251" x="98.20152" y="405.481193" style="fill: #ff7f0e; stroke: #ff7f0e"/>
     <use href="#mcd47077251" x="99.2952" y="405.064879" style="fill: #ff7f0e; stroke: #ff7f0e"/>
     <use href="#mcd47077251" x="100.38888" y="405.53502" style="fill: #ff7f0e; stroke: #ff7f0e"/>
     <use href="#mcd47077251" x="101.48256" y="405.947918" style="fill: #ff7f0e; stroke: #ff7f0e"/>
     <use href="#mcd47077251" x="102.57624" y="406.305833" style="fill: #ff7f0e; stroke: #ff7f0e"/>
     <use href="#mcd47077251" x="103.66992" y="407.455194" style="fill: #ff7f0e; stroke: #ff7f0e"/>
     <use href="#mcd47077251" x="104.7636" y="406.976637" style="fill: #ff7f0e; stroke: #ff7f0e"/>
     <use href="#mcd47077251" x="105.85728" y="406.121926" style="fill: #ff7f0e; stroke: #ff7f0e"/>
     <use href="#mcd47077251" x="106.95096" y="405.35692" style="fill: #ff7f0e; stroke: #ff7f0e"/>
     <use href="#mcd47077251" x="108.04464" y="405.764244" style="fill: #ff7f0e; stroke: #ff7f0e"/>
     <use href="#mcd47077251" x="109.13832" y="407.908962" style="fill: #ff7f0e; stroke: #ff7f0e"/>
     <use href="#mcd47077251" x="110.232" y="406.592884" style="fill: #ff7f0e; stroke: #ff7f0e"/>
     <use href="#mcd47077251" x="111.32568" y="407.212277" style="fill: #ff7f0e; stroke: #ff7f0e"/>
     <use href="#mcd47077251" x="112.41936" y="405.645076" style="fill: #ff7f0e; stroke: #ff7f0e"/>
     <use href="#mcd47077251" x="113.51304" y="405.629575" style="fill: #ff7f0e; stroke: #ff7f0e"/>
     <use href="#mcd47077251" x="114.60672" y="407.711867" style="fill: #ff7f0e; stroke: #ff7f0e"/>
     <use href="#mcd47077251" x="115.7004" y="407.098142" style="fill: #ff7f0e; stroke: #ff7f0e"/>
     <use href="#mcd47077251" x="116.79408" y="406.431085" style="fill: #ff7f0e; stroke: #ff7f0e"/>
     <use href="#mcd47077251" x="117.88776" y="406.489381" style="fill: #ff7f0e; stroke: #ff7f0e"/>
     <use href="#mcd47077251" x="118.98144" y="405.950926" style="fill: #ff7f0e; stroke: #ff7f0e"/>
     <use href="#mcd47077251" x="120.07512" y="406.197631" style="fill: #ff7f0e; stroke: #ff7f0e"/>
     <use href="#mcd47077251" x="121.1688" y="405.860917" style="fill: #ff7f0e; stroke: #ff7f0e"/>
     <use href="#mcd47077251" x="122.26248" y="407.950011" style="fill: #ff7f0e; stroke: #ff7f0e"/>
     <use href="#mcd47077251" x="123.35616" y="407.046956" style="fill: #ff7f0e; stroke: #ff7f0e"/>
     <use href="#mcd47077251" x="124.44984" y="406.228879" style="fill: #ff7f0e; stroke: #ff7f0e"/>
     <use href="#mcd47077251" x="125.54352" y="407.807686" style="fill: #ff7f0e; stroke: #ff7f0e"/>
     <use href="#mcd47077251" x="126.6372" y="406.474285" style="fill: #ff7f0e; stroke: #ff7f0e"/>
     <use href="#mcd47077251" x="127.73088" y="406.173735" style="fill: #ff7f0e; stroke: #ff7f0e"/>
     <use href="#mcd47077251" x="128.82456" y="407.5621" style="fill: #ff7f0e; stroke: #ff7f0e"/>
     <use href="#mcd47077251" x="129.91824" y="408.329354" style="fill: #ff7f0e; stroke: #ff7f0e"/>
     <use href="#mcd47077251" x="131.01192" y="406.112599" style="fill: #ff7f0e; stroke: #ff7f0e"/>
     <use href="#mcd47077251" x="132.1056" y="408.046303" style="fill: #ff7f0e; stroke: #ff7f0e"/>
     <use href="#mcd47077251" x="133.19928" y="406.469246" style="fill: #ff7f0e; stroke: #ff7f0e"/>
     <use href="#mcd47077251" x="134.29296" y="406.196788" style="fill: #ff7f0e; stroke: #ff7f0e"/>
     <use href="#mcd47077251" x="135.38664" y="405.980598" style="fill: #ff7f0e; stroke: #ff7f0e"/>
     <use href="#mcd47077251" x="136.48032" y="406.646289" style="fill: #ff7f0e; stroke: #ff7f0e"/>
     <use href="#mcd47077251" x="137.574" y="407.712972" style="fill: #ff7f0e; stroke: #ff7f0e"/>
     <use href="#mcd47077251" x="138.66768" y="407.096119" style="fill: #ff7f0e; stroke: #ff7f0e"/>
     <use href="#mcd47077251" x="139.76136" y="407.975324" style="fill: #ff7f0e; stroke: #ff7f0e"/>
     <use href="#mcd47077251" x="140.85504" y="406.345996" style="fill: #ff7f0e; stroke: #ff7f0e"/>
     <use href="#mcd47077251" x="141.94872" y="406.565543" style="fill: #ff7f0e; stroke: #ff7f0e"/>
     <use href="#mcd47077251" x="143.0424" y="406.394455" style="fill: #ff7f0e; stroke: #ff7f0e"/>
     <use href="#mcd47077251" x="144.13608" y="408.176247" style="fill: #ff7f0e; stroke: #ff7f0e"/>
     <use href="#mcd47077251" x="145.22976" y="408.009351" style="fill: #ff7f0e; stroke: #ff7f0e"/>
     <use href="#mcd47077251" x="146.32344" y="406.423633" style="fill: #ff7f0e; stroke: #ff7f0e"/>
     <use href="#mcd47077251" x="147.41712" y="406.590916" style="fill: #ff7f0e; stroke: #ff7f0e"/>
     <use href="#mcd47077251" x="148.5108" y="406.211365" style="fill: #ff7f0e; stroke: #ff7f0e"/>
     <use href="#mcd47077251" x="149.60448" y="407.22757" style="fill: #ff7f0e; stroke: #ff7f0e"/>
     <use href="#mcd47077251" x="150.69816" y="405.374289" style="fill: #ff7f0e; stroke: #ff7f0e"/>
     <use href="#mcd47077251" x="151.79184" y="405.37049" style="fill: #ff7f0e; stroke: #ff7f0e"/>
     <use href="#mcd47077251" x="152.88552" y="406.145807" style="fill: #ff7f0e; stroke: #ff7f0e"/>
     <use href="#mcd47077251" x="153.9792" y="405.672357" style="fill: #ff7f0e; stroke: #ff7f0e"/>
     <use href="#mcd47077251" x="155.07288" y="407.067949" style="fill: #ff7f0e; stroke: #ff7f0e"/>
     <use href="#mcd47077251" x="156.16656" y="406.558772" style="fill: #ff7f0e; stroke: #ff7f0e"/>
     <use href="#mcd47077251" x="157.26024" y="405.816255" style="fill: #ff7f0e; stroke: #ff7f0e"/>
     <use href="#mcd47077251" x="158.35392" y="405.859209" style="fill: #ff7f0e; stroke: #ff7f0e"/>
     <use href="#mcd47077251" x="159.4476" y="405.688271" style="fill: #ff7f0e; stroke: #ff7f0e"/>
     <use href="#mcd47077251" x="160.54128" y="405.663422" style="fill: #ff7f0e; stroke: #ff7f0e"/>
     <use href="#mcd47077251" x="161.63496" y="405.783907" style="fill: #ff7f0e; stroke: #ff7f0e"/>
     <use href="#mcd47077251" x="162.72864" y="403.57363" style="fill: #ff7f0e; stroke: #ff7f0e"/>
     <use href="#mcd47077251" x="163.82232" y="404.305425" style="fill: #ff7f0e; stroke: #ff7f0e"/>
     <use href="#mcd47077251" x="164.916" y="402.620783" style="fill: #ff7f0e; stroke: #ff7f0e"/>
     <use href="#mcd47077251" x="166.00968" y="402.906827" style="fill: #ff7f0e; stroke: #ff7f0e"/>
     <use href="#mcd47077251" x="167.10336" y="403.302855" style="fill: #ff7f0e; stroke: #ff7f0e"/>
     <use href="#mcd47077251" x="169.29072" y="402.337938" style="fill: #ff7f0e; stroke: #ff7f0e"/>
     <use href="#mcd47077251" x="170.3844" y="401.313005" style="fill: #ff7f0e; stroke: #ff7f0e"/>
     <use href="#mcd47077251" x="171.47808" y="398.805429" style="fill: #ff7f0e; stroke: #ff7f0e"/>
     <use href="#mcd47077251" x="172.57176" y="398.938368" style="fill: #ff7f0e; stroke: #ff7f0e"/>
     <use href="#mcd47077251" x="174.75912" y="396.405263" style="fill: #ff7f0e; stroke: #ff7f0e"/>
     <use href="#mcd47077251" x="175.8528" y="397.235382" style="fill: #ff7f0e; stroke: #ff7f0e"/>
     <use href="#mcd47077251" x="179.13384" y="389.916471" style="fill: #ff7f0e; stroke: #ff7f0e"/>
     <use href="#mcd47077251" x="180.22752" y="387.763128" style="fill: #ff7f0e; stroke: #ff7f0e"/>
     <use href="#mcd47077251" x="182.41488" y="385.867634" style="fill: #ff7f0e; stroke: #ff7f0e"/>
     <use href="#mcd47077251" x="183.50856" y="385.667714" style="fill: #ff7f0e; stroke: #ff7f0e"/>
     <use href="#mcd47077251" x="186.7896" y="386.77417" style="fill: #ff7f0e; stroke: #ff7f0e"/>
     <use href="#mcd47077251" x="187.88328" y="383.997071" style="fill: #ff7f0e; stroke: #ff7f0e"/>
     <use href="#mcd47077251" x="193.35168" y="378.131846" style="fill: #ff7f0e; stroke: #ff7f0e"/>
     <use href="#mcd47077251" x="201.00744" y="371.335637" style="fill: #ff7f0e; stroke: #ff7f0e"/>
     <use href="#mcd47077251" x="203.1948" y="371.153048" style="fill: #ff7f0e; stroke: #ff7f0e"/>
     <use href="#mcd47077251" x="205.38216" y="374.681829" style="fill: #ff7f0e; stroke: #ff7f0e"/>
     <use href="#mcd47077251" x="206.47584" y="374.819631" style="fill: #ff7f0e; stroke: #ff7f0e"/>
     <use href="#mcd47077251" x="208.6632" y="375.21737" style="fill: #ff7f0e; stroke: #ff7f0e"/>
     <use href="#mcd47077251" x="209.75688" y="375.410399" style="fill: #ff7f0e; stroke: #ff7f0e"/>
     <use href="#mcd47077251" x="210.85056" y="376.519262" style="fill: #ff7f0e; stroke: #ff7f0e"/>
     <use href="#mcd47077251" x="213.03792" y="377.27198" style="fill: #ff7f0e; stroke: #ff7f0e"/>
     <use href="#mcd47077251" x="215.22528" y="378.360166" style="fill: #ff7f0e; stroke: #ff7f0e"/>
     <use href="#mcd47077251" x="216.31896" y="380.100609" style="fill: #ff7f0e; stroke: #ff7f0e"/>
     <use href="#mcd47077251" x="218.50632" y="382.104407" style="fill: #ff7f0e; stroke: #ff7f0e"/>
     <use href="#mcd47077251" x="219.6" y="383.369261" style="fill: #ff7f0e; stroke: #ff7f0e"/>
     <use href="#mcd47077251" x="222.88104" y="387.71459" style="fill: #ff7f0e; stroke: #ff7f0e"/>
     <use href="#mcd47077251" x="223.97472" y="388.189756" style="fill: #ff7f0e; stroke: #ff7f0e"/>
     <use href="#mcd47077251" x="225.0684" y="389.76695" style="fill: #ff7f0e; stroke: #ff7f0e"/>
     <use href="#mcd47077251" x="226.16208" y="388.031984" style="fill: #ff7f0e; stroke: #ff7f0e"/>
     <use href="#mcd47077251" x="228.34944" y="388.297133" style="fill: #ff7f0e; stroke: #ff7f0e"/>
     <use href="#mcd47077251" x="230.5368" y="389.494985" style="fill: #ff7f0e; stroke: #ff7f0e"/>
     <use href="#mcd47077251" x="231.63048" y="390.50775" style="fill: #ff7f0e; stroke: #ff7f0e"/>
     <use href="#mcd47077251" x="233.81784" y="393.003403" style="fill: #ff7f0e; stroke: #ff7f0e"/>
     <use href="#mcd47077251" x="237.09888" y="395.872866" style="fill: #ff7f0e; stroke: #ff7f0e"/>
     <use href="#mcd47077251" x="238.19256" y="394.588943" style="fill: #ff7f0e; stroke: #ff7f0e"/>
     <use href="#mcd47077251" x="240.37992" y="397.077823" style="fill: #ff7f0e; stroke: #ff7f0e"/>
     <use href="#mcd47077251" x="241.4736" y="397.138904" style="fill: #ff7f0e; stroke: #ff7f0e"/>
     <use href="#mcd47077251" x="243.66096" y="396.873184" style="fill: #ff7f0e; stroke: #ff7f0e"/>
     <use href="#mcd47077251" x="245.84832" y="398.775818" style="fill: #ff7f0e; stroke: #ff7f0e"/>
     <use href="#mcd47077251" x="246.942" y="398.275293" style="fill: #ff7f0e; stroke: #ff7f0e"/>
     <use href="#mcd47077251" x="248.03568" y="400.718567" style="fill: #ff7f0e; stroke: #ff7f0e"/>
     <use href="#mcd47077251" x="250.22304" y="400.93403" style="fill: #ff7f0e; stroke: #ff7f0e"/>
     <use href="#mcd47077251" x="251.31672" y="401.296559" style="fill: #ff7f0e; stroke: #ff7f0e"/>
     <use href="#mcd47077251" x="254.59776" y="401.622615" style="fill: #ff7f0e; stroke: #ff7f0e"/>
     <use href="#mcd47077251" x="255.69144" y="400.525681" style="fill: #ff7f0e; stroke: #ff7f0e"/>
     <use href="#mcd47077251" x="256.78512" y="401.988162" style="fill: #ff7f0e; stroke: #ff7f0e"/>
     <use href="#mcd47077251" x="258.97248" y="400.917574" style="fill: #ff7f0e; stroke: #ff7f0e"/>
     <use href="#mcd47077251" x="260.06616" y="400.667497" style="fill: #ff7f0e; stroke: #ff7f0e"/>
     <use href="#mcd47077251" x="262.25352" y="401.303783" style="fill: #ff7f0e; stroke: #ff7f0e"/>
     <use href="#mcd47077251" x="264.44088" y="401.574558" style="fill: #ff7f0e; stroke: #ff7f0e"/>
     <use href="#mcd47077251" x="265.53456" y="401.040272" style="fill: #ff7f0e; stroke: #ff7f0e"/>
     <use href="#mcd47077251" x="266.62824" y="401.846573" style="fill: #ff7f0e; stroke: #ff7f0e"/>
     <use href="#mcd47077251" x="268.8156" y="401.838309" style="fill: #ff7f0e; stroke: #ff7f0e"/>
     <use href="#mcd47077251" x="269.90928" y="400.92434" style="fill: #ff7f0e; stroke: #ff7f0e"/>
     <use href="#mcd47077251" x="271.00296" y="401.88887" style="fill: #ff7f0e; stroke: #ff7f0e"/>
     <use href="#mcd47077251" x="273.19032" y="401.220277" style="fill: #ff7f0e; stroke: #ff7f0e"/>
     <use href="#mcd47077251" x="274.284" y="402.171418" style="fill: #ff7f0e; stroke: #ff7f0e"/>
     <use href="#mcd47077251" x="276.47136" y="401.051853" style="fill: #ff7f0e; stroke: #ff7f0e"/>
     <use href="#mcd47077251" x="277.56504" y="402.332959" style="fill: #ff7f0e; stroke: #ff7f0e"/>
     <use href="#mcd47077251" x="279.7524" y="401.366078" style="fill: #ff7f0e; stroke: #ff7f0e"/>
     <use href="#mcd47077251" x="280.84608" y="401.714165" style="fill: #ff7f0e; stroke: #ff7f0e"/>
     <use href="#mcd47077251" x="283.03344" y="402.016833" style="fill: #ff7f0e; stroke: #ff7f0e"/>
     <use href="#mcd47077251" x="284.12712" y="401.626311" style="fill: #ff7f0e; stroke: #ff7f0e"/>
     <use href="#mcd47077251" x="286.31448" y="400.969198" style="fill: #ff7f0e; stroke: #ff7f0e"/>
     <use href="#mcd47077251" x="287.40816" y="402.788042" style="fill: #ff7f0e; stroke: #ff7f0e"/>
     <use href="#mcd47077251" x="288.50184" y="400.39478" style="fill: #ff7f0e; stroke: #ff7f0e"/>
     <use href="#mcd47077251" x="290.6892" y="400.242408" style="fill: #ff7f0e; stroke: #ff7f0e"/>
     <use href="#mcd47077251" x="291.78288" y="400.442803" style="fill: #ff7f0e; stroke: #ff7f0e"/>
     <use href="#mcd47077251" x="293.97024" y="398.402245" style="fill: #ff7f0e; stroke: #ff7f0e"/>
     <use href="#mcd47077251" x="295.06392" y="398.355741" style="fill: #ff7f0e; stroke: #ff7f0e"/>
     <use href="#mcd47077251" x="296.1576" y="399.614946" style="fill: #ff7f0e; stroke: #ff7f0e"/>
     <use href="#mcd47077251" x="299.43864" y="399.845772" style="fill: #ff7f0e; stroke: #ff7f0e"/>
     <use href="#mcd47077251" x="300.53232" y="399.643974" style="fill: #ff7f0e; stroke: #ff7f0e"/>
     <use href="#mcd47077251" x="301.626" y="400.479612" style="fill: #ff7f0e; stroke: #ff7f0e"/>
     <use href="#mcd47077251" x="303.81336" y="400.447513" style="fill: #ff7f0e; stroke: #ff7f0e"/>
     <use href="#mcd47077251" x="304.90704" y="399.464789" style="fill: #ff7f0e; stroke: #ff7f0e"/>
     <use href="#mcd47077251" x="307.0944" y="400.286184" style="fill: #ff7f0e; stroke: #ff7f0e"/>
     <use href="#mcd47077251" x="310.37544" y="398.86192" style="fill: #ff7f0e; stroke: #ff7f0e"/>
     <use href="#mcd47077251" x="312.5628" y="399.457048" style="fill: #ff7f0e; stroke: #ff7f0e"/>
     <use href="#mcd47077251" x="313.65648" y="398.318384" style="fill: #ff7f0e; stroke: #ff7f0e"/>
     <use href="#mcd47077251" x="314.75016" y="397.516141" style="fill: #ff7f0e; stroke: #ff7f0e"/>
     <use href="#mcd47077251" x="315.84384" y="399.119903" style="fill: #ff7f0e; stroke: #ff7f0e"/>
     <use href="#mcd47077251" x="316.93752" y="398.418566" style="fill: #ff7f0e; stroke: #ff7f0e"/>
     <use href="#mcd47077251" x="318.0312" y="398.22723" style="fill: #ff7f0e; stroke: #ff7f0e"/>
     <use href="#mcd47077251" x="320.21856" y="397.104619" style="fill: #ff7f0e; stroke: #ff7f0e"/>
     <use href="#mcd47077251" x="321.31224" y="397.339341" style="fill: #ff7f0e; stroke: #ff7f0e"/>
     <use href="#mcd47077251" x="322.40592" y="396.166865" style="fill: #ff7f0e; stroke: #ff7f0e"/>
     <use href="#mcd47077251" x="324.59328" y="395.807814" style="fill: #ff7f0e; stroke: #ff7f0e"/>
     <use href="#mcd47077251" x="325.68696" y="394.211573" style="fill: #ff7f0e; stroke: #ff7f0e"/>
     <use href="#mcd47077251" x="326.78064" y="395.124581" style="fill: #ff7f0e; stroke: #ff7f0e"/>
     <use href="#mcd47077251" x="330.06168" y="394.794297" style="fill: #ff7f0e; stroke: #ff7f0e"/>
     <use href="#mcd47077251" x="331.15536" y="394.191367" style="fill: #ff7f0e; stroke: #ff7f0e"/>
     <use href="#mcd47077251" x="332.24904" y="394.004328" style="fill: #ff7f0e; stroke: #ff7f0e"/>
     <use href="#mcd47077251" x="333.34272" y="392.793082" style="fill: #ff7f0e; stroke: #ff7f0e"/>
     <use href="#mcd47077251" x="334.4364" y="393.326405" style="fill: #ff7f0e; stroke: #ff7f0e"/>
     <use href="#mcd47077251" x="337.71744" y="390.065946" style="fill: #ff7f0e; stroke: #ff7f0e"/>
     <use href="#mcd47077251" x="339.9048" y="390.974365" style="fill: #ff7f0e; stroke: #ff7f0e"/>
     <use href="#mcd47077251" x="340.99848" y="389.156364" style="fill: #ff7f0e; stroke: #ff7f0e"/>
     <use href="#mcd47077251" x="343.18584" y="387.356306" style="fill: #ff7f0e; stroke: #ff7f0e"/>
     <use href="#mcd47077251" x="345.3732" y="387.594119" style="fill: #ff7f0e; stroke: #ff7f0e"/>
     <use href="#mcd47077251" x="350.8416" y="386.018009" style="fill: #ff7f0e; stroke: #ff7f0e"/>
     <use href="#mcd47077251" x="351.93528" y="385.732443" style="fill: #ff7f0e; stroke: #ff7f0e"/>
     <use href="#mcd47077251" x="353.02896" y="386.512633" style="fill: #ff7f0e; stroke: #ff7f0e"/>
     <use href="#mcd47077251" x="356.31" y="383.072234" style="fill: #ff7f0e; stroke: #ff7f0e"/>
     <use href="#mcd47077251" x="357.40368" y="383.732836" style="fill: #ff7f0e; stroke: #ff7f0e"/>
     <use href="#mcd47077251" x="360.68472" y="381.717234" style="fill: #ff7f0e; stroke: #ff7f0e"/>
     <use href="#mcd47077251" x="362.87208" y="381.349588" style="fill: #ff7f0e; stroke: #ff7f0e"/>
     <use href="#mcd47077251" x="366.15312" y="380.292576" style="fill: #ff7f0e; stroke: #ff7f0e"/>
     <use href="#mcd47077251" x="367.2468" y="379.034605" style="fill: #ff7f0e; stroke: #ff7f0e"/>
     <use href="#mcd47077251" x="369.43416" y="378.893199" style="fill: #ff7f0e; stroke: #ff7f0e"/>
     <use href="#mcd47077251" x="371.62152" y="378.681746" style="fill: #ff7f0e; stroke: #ff7f0e"/>
     <use href="#mcd47077251" x="372.7152" y="376.39391" style="fill: #ff7f0e; stroke: #ff7f0e"/>
     <use href="#mcd47077251" x="375.99624" y="374.031534" style="fill: #ff7f0e; stroke: #ff7f0e"/>
     <use href="#mcd47077251" x="377.08992" y="373.407321" style="fill: #ff7f0e; stroke: #ff7f0e"/>
     <use href="#mcd47077251" x="380.37096" y="372.099013" style="fill: #ff7f0e; stroke: #ff7f0e"/>
     <use href="#mcd47077251" x="382.55832" y="372.248123" style="fill: #ff7f0e; stroke: #ff7f0e"/>
     <use href="#mcd47077251" x="383.652" y="369.575877" style="fill: #ff7f0e; stroke: #ff7f0e"/>
     <use href="#mcd47077251" x="389.1204" y="370.537292" style="fill: #ff7f0e; stroke: #ff7f0e"/>
     <use href="#mcd47077251" x="393.49512" y="371.031524" style="fill: #ff7f0e; stroke: #ff7f0e"/>
     <use href="#mcd47077251" x="397.86984" y="371.328422" style="fill: #ff7f0e; stroke: #ff7f0e"/>
     <use href="#mcd47077251" x="398.96352" y="372.392868" style="fill: #ff7f0e; stroke: #ff7f0e"/>
     <use href="#mcd47077251" x="402.24456" y="372.835915" style="fill: #ff7f0e; stroke: #ff7f0e"/>
     <use href="#mcd47077251" x="404.43192" y="374.769238" style="fill: #ff7f0e; stroke: #ff7f0e"/>
     <use href="#mcd47077251" x="406.61928" y="374.990398" style="fill: #ff7f0e; stroke: #ff7f0e"/>
     <use href="#mcd47077251" x="407.71296" y="374.862139" style="fill: #ff7f0e; stroke: #ff7f0e"/>
     <use href="#mcd47077251" x="408.80664" y="375.326985" style="fill: #ff7f0e; stroke: #ff7f0e"/>
     <use href="#mcd47077251" x="410.994" y="377.961782" style="fill: #ff7f0e; stroke: #ff7f0e"/>
     <use href="#mcd47077251" x="413.18136" y="378.80161" style="fill: #ff7f0e; stroke: #ff7f0e"/>
     <use href="#mcd47077251" x="414.27504" y="378.461698" style="fill: #ff7f0e; stroke: #ff7f0e"/>
     <use href="#mcd47077251" x="416.4624" y="379.040608" style="fill: #ff7f0e; stroke: #ff7f0e"/>
     <use href="#mcd47077251" x="417.55608" y="380.205256" style="fill: #ff7f0e; stroke: #ff7f0e"/>
     <use href="#mcd47077251" x="418.64976" y="381.121179" style="fill: #ff7f0e; stroke: #ff7f0e"/>
     <use href="#mcd47077251" x="423.02448" y="380.552813" style="fill: #ff7f0e; stroke: #ff7f0e"/>
     <use href="#mcd47077251" x="424.11816" y="381.299971" style="fill: #ff7f0e; stroke: #ff7f0e"/>
     <use href="#mcd47077251" x="427.3992" y="383.452663" style="fill: #ff7f0e; stroke: #ff7f0e"/>
     <use href="#mcd47077251" x="429.58656" y="385.031377" style="fill: #ff7f0e; stroke: #ff7f0e"/>
     <use href="#mcd47077251" x="430.68024" y="384.588094" style="fill: #ff7f0e; stroke: #ff7f0e"/>
     <use href="#mcd47077251" x="432.8676" y="385.855354" style="fill: #ff7f0e; stroke: #ff7f0e"/>
     <use href="#mcd47077251" x="435.05496" y="387.586021" style="fill: #ff7f0e; stroke: #ff7f0e"/>
     <use href="#mcd47077251" x="437.24232" y="388.989546" style="fill: #ff7f0e; stroke: #ff7f0e"/>
     <use href="#mcd47077251" x="438.336" y="390.31739" style="fill: #ff7f0e; stroke: #ff7f0e"/>
     <use href="#mcd47077251" x="440.52336" y="390.866328" style="fill: #ff7f0e; stroke: #ff7f0e"/>
     <use href="#mcd47077251" x="442.71072" y="390.277882" style="fill: #ff7f0e; stroke: #ff7f0e"/>
     <use href="#mcd47077251" x="444.89808" y="391.192664" style="fill: #ff7f0e; stroke: #ff7f0e"/>
     <use href="#mcd47077251" x="447.08544" y="392.956203" style="fill: #ff7f0e; stroke: #ff7f0e"/>
     <use href="#mcd47077251" x="448.17912" y="394.240448" style="fill: #ff7f0e; stroke: #ff7f0e"/>
     <use href="#mcd47077251" x="449.2728" y="394.560353" style="fill: #ff7f0e; stroke: #ff7f0e"/>
     <use href="#mcd47077251" x="452.55384" y="393.830834" style="fill: #ff7f0e; stroke: #ff7f0e"/>
     <use href="#mcd47077251" x="454.7412" y="395.584419" style="fill: #ff7f0e; stroke: #ff7f0e"/>
     <use href="#mcd47077251" x="455.83488" y="395.908369" style="fill: #ff7f0e; stroke: #ff7f0e"/>
     <use href="#mcd47077251" x="458.02224" y="395.029115" style="fill: #ff7f0e; stroke: #ff7f0e"/>
     <use href="#mcd47077251" x="459.11592" y="396.103288" style="fill: #ff7f0e; stroke: #ff7f0e"/>
     <use href="#mcd47077251" x="462.39696" y="395.560511" style="fill: #ff7f0e; stroke: #ff7f0e"/>
     <use href="#mcd47077251" x="463.49064" y="395.081546" style="fill: #ff7f0e; stroke: #ff7f0e"/>
     <use href="#mcd47077251" x="464.58432" y="396.198715" style="fill: #ff7f0e; stroke: #ff7f0e"/>
     <use href="#mcd47077251" x="467.86536" y="395.131052" style="fill: #ff7f0e; stroke: #ff7f0e"/>
     <use href="#mcd47077251" x="468.95904" y="396.639602" style="fill: #ff7f0e; stroke: #ff7f0e"/>
     <use href="#mcd47077251" x="470.05272" y="397.06182" style="fill: #ff7f0e; stroke: #ff7f0e"/>
     <use href="#mcd47077251" x="472.24008" y="397.438827" style="fill: #ff7f0e; stroke: #ff7f0e"/>
     <use href="#mcd47077251" x="473.33376" y="396.315711" style="fill: #ff7f0e; stroke: #ff7f0e"/>
     <use href="#mcd47077251" x="475.52112" y="395.490178" style="fill: #ff7f0e; stroke: #ff7f0e"/>
     <use href="#mcd47077251" x="477.70848" y="396.885351" style="fill: #ff7f0e; stroke: #ff7f0e"/>
     <use href="#mcd47077251" x="478.80216" y="396.512756" style="fill: #ff7f0e; stroke: #ff7f0e"/>
     <use href="#mcd47077251" x="480.98952" y="396.174506" style="fill: #ff7f0e; stroke: #ff7f0e"/>
     <use href="#mcd47077251" x="483.17688" y="394.649659" style="fill: #ff7f0e; stroke: #ff7f0e"/>
     <use href="#mcd47077251" x="484.27056" y="394.558161" style="fill: #ff7f0e; stroke: #ff7f0e"/>
     <use href="#mcd47077251" x="485.36424" y="393.5102" style="fill: #ff7f0e; stroke: #ff7f0e"/>
     <use href="#mcd47077251" x="487.5516" y="392.344303" style="fill: #ff7f0e; stroke: #ff7f0e"/>
     <use href="#mcd47077251" x="489.73896" y="391.888802" style="fill: #ff7f0e; stroke: #ff7f0e"/>
     <use href="#mcd47077251" x="494.11368" y="391.511494" style="fill: #ff7f0e; stroke: #ff7f0e"/>
     <use href="#mcd47077251" x="495.20736" y="390.149839" style="fill: #ff7f0e; stroke: #ff7f0e"/>
     <use href="#mcd47077251" x="499.58208" y="391.65563" style="fill: #ff7f0e; stroke: #ff7f0e"/>
     <use href="#mcd47077251" x="500.67576" y="391.615745" style="fill: #ff7f0e; stroke: #ff7f0e"/>
     <use href="#mcd47077251" x="502.86312" y="392.356718" style="fill: #ff7f0e; stroke: #ff7f0e"/>
     <use href="#mcd47077251" x="503.9568" y="394.101142" style="fill: #ff7f0e; stroke: #ff7f0e"/>
     <use href="#mcd47077251" x="506.14416" y="392.52738" style="fill: #ff7f0e; stroke: #ff7f0e"/>
     <use href="#mcd47077251" x="508.33152" y="393.773949" style="fill: #ff7f0e; stroke: #ff7f0e"/>
     <use href="#mcd47077251" x="509.4252" y="393.167521" style="fill: #ff7f0e; stroke: #ff7f0e"/>
     <use href="#mcd47077251" x="511.61256" y="395.60616" style="fill: #ff7f0e; stroke: #ff7f0e"/>
     <use href="#mcd47077251" x="513.79992" y="395.131297" style="fill: #ff7f0e; stroke: #ff7f0e"/>
     <use href="#mcd47077251" x="514.8936" y="395.064634" style="fill: #ff7f0e; stroke: #ff7f0e"/>
     <use href="#mcd47077251" x="517.08096" y="395.308455" style="fill: #ff7f0e; stroke: #ff7f0e"/>
     <use href="#mcd47077251" x="518.17464" y="396.709526" style="fill: #ff7f0e; stroke: #ff7f0e"/>
     <use href="#mcd47077251" x="521.45568" y="397.20208" style="fill: #ff7f0e; stroke: #ff7f0e"/>
     <use href="#mcd47077251" x="522.54936" y="396.845302" style="fill: #ff7f0e; stroke: #ff7f0e"/>
     <use href="#mcd47077251" x="524.73672" y="397.262598" style="fill: #ff7f0e; stroke: #ff7f0e"/>
     <use href="#mcd47077251" x="525.8304" y="398.483683" style="fill: #ff7f0e; stroke: #ff7f0e"/>
     <use href="#mcd47077251" x="528.01776" y="399.514024" style="fill: #ff7f0e; stroke: #ff7f0e"/>
     <use href="#mcd47077251" x="529.11144" y="399.625299" style="fill: #ff7f0e; stroke: #ff7f0e"/>
     <use href="#mcd47077251" x="530.20512" y="400.85935" style="fill: #ff7f0e; stroke: #ff7f0e"/>
     <use href="#mcd47077251" x="532.39248" y="401.435399" style="fill: #ff7f0e; stroke: #ff7f0e"/>
     <use href="#mcd47077251" x="533.48616" y="401.77101" style="fill: #ff7f0e; stroke: #ff7f0e"/>
     <use href="#mcd47077251" x="534.57984" y="401.700185" style="fill: #ff7f0e; stroke: #ff7f0e"/>
     <use href="#mcd47077251" x="536.7672" y="401.435392" style="fill: #ff7f0e; stroke: #ff7f0e"/>
     <use href="#mcd47077251" x="538.95456" y="402.098604" style="fill: #ff7f0e; stroke: #ff7f0e"/>
     <use href="#mcd47077251" x="540.04824" y="402.0688" style="fill: #ff7f0e; stroke: #ff7f0e"/>
     <use href="#mcd47077251" x="542.2356" y="403.324336" style="fill: #ff7f0e; stroke: #ff7f0e"/>
     <use href="#mcd47077251" x="543.32928" y="403.047226" style="fill: #ff7f0e; stroke: #ff7f0e"/>
     <use href="#mcd47077251" x="545.51664" y="408.96" style="fill: #ff7f0e; stroke: #ff7f0e"/>
     <use href="#mcd47077251" x="546.61032" y="408.96" style="fill: #ff7f0e; stroke: #ff7f0e"/>
     <use href="#mcd47077251" x="547.704" y="408.96" style="fill: #ff7f0e; stroke: #ff7f0e"/>
     <use href="#mcd47077251" x="548.79768" y="408.96" style="fill: #ff7f0e; stroke: #ff7f0e"/>
     <use href="#mcd47077251" x="549.89136" y="408.96" style="fill: #ff7f0e; stroke: #ff7f0e"/>
     <use href="#mcd47077251" x="550.98504" y="408.96" style="fill: #ff7f0e; stroke: #ff7f0e"/>
     <use href="#mcd47077251" x="552.07872" y="408.96" style="fill: #ff7f0e; stroke: #ff7f0e"/>
     <use href="#mcd47077251" x="553.1724" y="408.96" style="fill: #ff7f0e; stroke: #ff7f0e"/>
     <use href="#mcd47077251" x="554.26608" y="408.96" style="fill: #ff7f0e; stroke: #ff7f0e"/>
     <use href="#mcd47077251" x="555.35976" y="408.96" style="fill: #ff7f0e; stroke: #ff7f0e"/>
     <use href="#mcd47077251" x="556.45344" y="408.96" style="fill: #ff7f0e; stroke: #ff7f0e"/>
     <use href="#mcd47077251" x="557.54712" y="408.96" style="fill: #ff7f0e; stroke: #ff7f0e"/>
     <use href="#mcd47077251" x="558.6408" y="408.96" style="fill: #ff7f0e; stroke: #ff7f0e"/>
     <use href="#mcd47077251" x="559.73448" y="408.96" style="fill: #ff7f0e; stroke: #ff7f0e"/>
     <use href="#mcd47077251" x="560.82816" y="408.96" style="fill: #ff7f0e; stroke: #ff7f0e"/>
     <use href="#mcd47077251" x="561.92184" y="408.96" style="fill: #ff7f0e; stroke: #ff7f0e"/>
     <use href="#mcd47077251" x="563.01552" y="408.96" style="fill: #ff7f0e; stroke: #ff7f0e"/>
     <use href="#mcd47077251" x="564.1092" y="408.96" style="fill: #ff7f0e; stroke: #ff7f0e"/>
     <use href="#mcd47077251" x="565.20288" y="408.96" style="fill: #ff7f0e; stroke: #ff7f0e"/>
    </g>
   </g>
   <g id="line2d_34">
    <path d="M 534.24 408.96 
L 534.24 10.8 
" clip-path="url(#p409145b264)" style="fill: none; stroke-dasharray: 5.55,2.4; stroke-dashoffset: 7.806; stroke: #1f77b4; stroke-opacity: 0.5; stroke-width: 1.5"/>
   </g>
   <g id="patch_3">
    <path d="M 55.8000 409.3200
L 55.8000 11.1600
" style="fill: none; stroke: #000000; stroke-width: 0.8; stroke-linejoin: miter; stroke-linecap: square"/>
   </g>
   <g id="patch_4">
    <path d="M 565.5600 409.3200
L 565.5600 11.1600
" style="fill: none; stroke: #000000; stroke-width: 0.8; stroke-linejoin: miter; stroke-linecap: square"/>
   </g>
   <g id="patch_5">
    <path d="M 55.8000 409.3200
L 565.5600 409.3200
" style="fill: none; stroke: #000000; stroke-width: 0.8; stroke-linejoin: miter; stroke-linecap: square"/>
   </g>
   <g id="patch_6">
    <path d="M 55.8000 11.1600
L 565.5600 11.1600
" style="fill: none; stroke: #000000; stroke-width: 0.8; stroke-linejoin: miter; stroke-linecap: square"/>
   </g>
   <g id="legend_1">
    <g id="patch_7">
     <path d="M 62.8720 34.2341 L 173.1889 34.2341 Q 175.1889 34.2341 175.1889 32.2341 L 175.1889 18.3400 Q 175.1889 16.3400 173.1889 16.3400 L 62.8720 16.3400 Q 60.8720 16.3400 60.8720 18.3400 L 60.8720 32.2341 Q 60.8720 34.2341 62.8720 34.2341 z" style="fill: #ffffff; opacity: 0.8; stroke: #cccccc; stroke-linejoin: miter"/>
    </g>
    <g id="line2d_35" transform="translate(0.5040 0.7200)">
     <path d="M 64.548 23.898438 
L 74.548 23.898438 
L 84.548 23.898438 
" style="fill: none; stroke: #1f77b4; stroke-width: 1.5; stroke-linecap: square"/>
    </g>
    <g id="text_8">
     <text style="font-size: 10px; font-family: 'DejaVu Sans', 'Liberation Sans', sans-serif; text-anchor: start" x="92.548" y="27.398438" transform="translate(0.3600 0.0720) rotate(-0 92.548 27.398438)">daily confirmed</text>
    </g>
   </g>
  </g>
  <g id="axes_2">
   <g id="patch_8">
    <path d="M 55.548 824.4 
L 565.20288 824.4 
L 565.20288 426.24 
L 55.548 426.24 
z
" style="fill: #ffffff"/>
   </g>
   <g id="FillBetweenPolyCollection_4">
    <defs>
     <path id="m0f4b4564e7" d="M 55.548 -39.6 
L 55.548 -39.6 
L 56.64168 -39.6 
L 57.73536 -39.6 
L 58.82904 -39.6 
L 59.92272 -39.6 
L 61.0164 -39.601879 
L 62.11008 -39.6 
L 63.20376 -39.659316 
L 64.29744 -39.602887 
L 65.39112 -39.625243 
L 66.4848 -39.602816 
L 67.57848 -39.6 
L 68.67216 -39.6 
L 69.76584 -39.690935 
L 70.85952 -39.69362 
L 71.9532 -39.868363 
L 73.04688 -39.943935 
L 74.14056 -39.983668 
L 75.23424 -39.888096 
L 76.32792 -39.963841 
L 77.4216 -39.819404 
L 78.51528 -39.830158 
L 79.60896 -39.943967 
L 80.70264 -39.972208 
L 81.79632 -39.836813 
L 82.89 -39.85824 
L 83.98368 -40.045877 
L 85.07736 -40.046234 
L 86.17104 -40.219633 
L 87.26472 -40.214502 
L 88.3584 -40.218714 
L 89.45208 -40.250504 
L 90.54576 -40.318581 
L 91.63944 -40.291663 
L 92.73312 -40.379804 
L 93.8268 -40.307769 
L 94.92048 -40.381504 
L 96.01416 -40.457435 
L 97.10784 -40.637205 
L 98.20152 -40.681101 
L 99.2952 -40.731661 
L 100.38888 -41.008856 
L 101.48256 -40.945281 
L 102.57624 -41.018303 
L 103.66992 -41.179845 
L 104.7636 -41.359297 
L 105.85728 -41.320005 
L 106.95096 -41.434117 
L 108.04464 -41.453634 
L 109.13832 -41.433287 
L 110.232 -41.695476 
L 111.32568 -41.826512 
L 112.41936 -41.801908 
L 113.51304 -41.850599 
L 114.60672 -41.781254 
L 115.7004 -41.849612 
L 116.79408 -42.082501 
L 117.88776 -42.287948 
L 118.98144 -42.288532 
L 120.07512 -42.458513 
L 121.1688 -42.631158 
L 122.26248 -42.637809 
L 123.35616 -42.791758 
L 124.44984 -42.938041 
L 125.54352 -42.726449 
L 126.6372 -42.936695 
L 127.73088 -42.761608 
L 128.82456 -43.109483 
L 129.91824 -43.213387 
L 131.01192 -43.150238 
L 132.1056 -43.153232 
L 133.19928 -43.377576 
L 134.29296 -43.45848 
L 135.38664 -43.582487 
L 136.48032 -43.560138 
L 137.574 -43.812663 
L 138.66768 -43.685543 
L 139.76136 -43.841288 
L 140.85504 -44.01008 
L 141.94872 -44.309352 
L 143.0424 -43.947099 
L 144.13608 -44.20417 
L 145.22976 -44.597413 
L 146.32344 -44.331429 
L 147.41712 -44.270179 
L 148.5108 -44.640797 
L 149.60448 -44.725583 
L 150.69816 -44.958609 
L 151.79184 -44.742569 
L 152.88552 -45.029132 
L 153.9792 -45.311222 
L 155.07288 -45.404204 
L 156.16656 -45.107633 
L 157.26024 -45.597529 
L 158.35392 -45.18645 
L 159.4476 -45.005893 
L 160.54128 -45.263982 
L 161.63496 -45.653678 
L 162.72864 -45.718516 
L 163.82232 -45.993047 
L 164.916 -46.132627 
L 166.00968 -46.138086 
L 167.10336 -46.176734 
L 168.19704 -46.585034 
L 169.29072 -45.628742 
L 170.3844 -45.670268 
L 171.47808 -46.108539 
L 172.57176 -45.951719 
L 173.66544 -45.687878 
L 174.75912 -46.240084 
L 175.8528 -46.339632 
L 176.94648 -46.098751 
L 178.04016 -47.18321 
L 179.13384 -47.652828 
L 180.22752 -47.629134 
L 181.3212 -47.16599 
L 182.41488 -47.255153 
L 183.50856 -47.044491 
L 184.60224 -47.434772 
L 185.69592 -47.392648 
L 186.7896 -47.737876 
L 187.88328 -47.744566 
L 188.97696 -48.243962 
L 190.07064 -48.392395 
L 191.16432 -48.393445 
L 192.258 -47.49123 
L 193.35168 -47.455019 
L 194.44536 -48.235598 
L 195.53904 -48.217315 
L 196.63272 -48.565841 
L 197.7264 -48.681932 
L 198.82008 -48.774719 
L 199.91376 -49.085328 
L 201.00744 -49.09316 
L 202.10112 -49.019021 
L 203.1948 -48.814859 
L 204.28848 -49.60082 
L 205.38216 -49.395368 
L 206.47584 -49.647748 
L 207.56952 -49.604191 
L 208.6632 -49.879573 
L 209.75688 -49.648252 
L 210.85056 -49.66673 
L 211.94424 -49.665689 
L 213.03792 -49.457608 
L 214.1316 -49.560225 
L 215.22528 -49.809048 
L 216.31896 -49.87257 
L 217.41264 -49.908122 
L 218.50632 -50.85468 
L 219.6 -50.066824 
L 220.69368 -50.347006 
L 221.78736 -51.150955 
L 222.88104 -50.261927 
L 223.97472 -50.412841 
L 225.0684 -50.308498 
L 226.16208 -49.792338 
L 227.25576 -49.177163 
L 228.34944 -49.048523 
L 229.44312 -49.5073 
L 230.5368 -49.471183 
L 231.63048 -48.659642 
L 232.72416 -49.109054 
L 233.81784 -49.006674 
L 234.91152 -49.328557 
L 236.0052 -49.00879 
L 237.09888 -48.528681 
L 238.19256 -48.514398 
L 239.28624 -48.698508 
L 240.37992 -49.212543 
L 241.4736 -49.598773 
L 242.56728 -48.653028 
L 243.66096 -48.30136 
L 244.75464 -48.329283 
L 245.84832 -48.078959 
L 246.942 -48.135371 
L 248.03568 -47.962233 
L 249.12936 -47.636323 
L 250.22304 -47.284828 
L 251.31672 -47.502833 
L 252.4104 -47.652999 
L 253.50408 -47.410759 
L 254.59776 -47.674144 
L 255.69144 -47.387528 
L 256.78512 -47.008079 
L 257.8788 -47.218379 
L 258.97248 -46.476635 
L 260.06616 -46.929456 
L 261.15984 -47.027929 
L 262.25352 -46.325707 
L 263.3472 -46.187249 
L 264.44088 -46.411995 
L 265.53456 -46.433716 
L 266.62824 -46.05262 
L 267.72192 -45.860874 
L 268.8156 -45.875206 
L 269.90928 -45.53769 
L 271.00296 -45.063286 
L 272.09664 -45.141186 
L 273.19032 -45.04601 
L 274.284 -44.680455 
L 275.37768 -44.888466 
L 276.47136 -44.676662 
L 277.56504 -44.735956 
L 278.65872 -44.222675 
L 279.7524 -44.110926 
L 280.84608 -44.038059 
L 281.93976 -44.469184 
L 283.03344 -44.471193 
L 284.12712 -44.383729 
L 285.2208 -44.27488 
L 286.31448 -44.083311 
L 287.40816 -43.87423 
L 288.50184 -43.402944 
L 289.59552 -43.560928 
L 290.6892 -43.422204 
L 291.78288 -43.313773 
L 292.87656 -43.184732 
L 293.97024 -43.455682 
L 295.06392 -43.220241 
L 296.1576 -42.912386 
L 297.25128 -43.072599 
L 298.34496 -42.938219 
L 299.43864 -42.722664 
L 300.53232 -42.709368 
L 301.626 -42.542712 
L 302.71968 -42.269188 
L 303.81336 -42.316842 
L 304.90704 -42.524739 
L 306.00072 -42.477625 
L 307.0944 -42.346061 
L 308.18808 -42.107807 
L 309.28176 -42.082037 
L 310.37544 -42.111422 
L 311.46912 -42.082286 
L 312.5628 -41.851256 
L 313.65648 -41.770294 
L 314.75016 -41.886962 
L 315.84384 -41.740758 
L 316.93752 -41.594153 
L 318.0312 -41.48075 
L 319.12488 -41.447216 
L 320.21856 -41.558355 
L 321.31224 -41.691107 
L 322.40592 -41.753818 
L 323.4996 -41.912803 
L 324.59328 -42.445178 
L 325.68696 -42.738264 
L 326.78064 -42.914079 
L 327.87432 -42.997822 
L 328.968 -42.800356 
L 330.06168 -43.068205 
L 331.15536 -43.591424 
L 332.24904 -43.749357 
L 333.34272 -44.004683 
L 334.4364 -44.080646 
L 335.53008 -44.284793 
L 336.62376 -44.71883 
L 337.71744 -44.796605 
L 338.81112 -45.032824 
L 339.9048 -45.226429 
L 340.99848 -45.395863 
L 342.09216 -45.758573 
L 343.18584 -45.828247 
L 344.27952 -45.283011 
L 345.3732 -45.504995 
L 346.46688 -45.6546 
L 347.56056 -46.02533 
L 348.65424 -45.810789 
L 349.74792 -46.338501 
L 350.8416 -46.539047 
L 351.93528 -46.510214 
L 353.02896 -46.18547 
L 354.12264 -46.365743 
L 355.21632 -46.348816 
L 356.31 -46.909228 
L 357.40368 -47.133323 
L 358.49736 -46.510894 
L 359.59104 -46.716166 
L 360.68472 -47.071142 
L 361.7784 -47.250671 
L 362.87208 -47.921178 
L 363.96576 -47.635749 
L 365.05944 -47.658522 
L 366.15312 -47.51736 
L 367.2468 -48.356098 
L 368.34048 -48.226236 
L 369.43416 -48.394135 
L 370.52784 -48.140223 
L 371.62152 -47.458334 
L 372.7152 -47.608704 
L 373.80888 -47.999968 
L 374.90256 -48.679332 
L 375.99624 -48.646596 
L 377.08992 -49.002212 
L 378.1836 -49.129769 
L 379.27728 -49.265898 
L 380.37096 -49.553023 
L 381.46464 -49.315234 
L 382.55832 -48.798124 
L 383.652 -49.286169 
L 384.74568 -50.087315 
L 385.83936 -49.593555 
L 386.93304 -50.377571 
L 388.02672 -50.603622 
L 389.1204 -50.013035 
L 390.21408 -50.151849 
L 391.30776 -49.880424 
L 392.40144 -50.50778 
L 393.49512 -50.194409 
L 394.5888 -50.068036 
L 395.68248 -50.455936 
L 396.77616 -50.602285 
L 397.86984 -50.720741 
L 398.96352 -51.068568 
L 400.0572 -51.07078 
L 401.15088 -51.099966 
L 402.24456 -51.852099 
L 403.33824 -52.424781 
L 404.43192 -51.755953 
L 405.5256 -51.39391 
L 406.61928 -51.463025 
L 407.71296 -52.044984 
L 408.80664 -51.995891 
L 409.90032 -51.985149 
L 410.994 -51.370241 
L 412.08768 -51.443804 
L 413.18136 -51.581021 
L 414.27504 -52.153369 
L 415.36872 -51.640247 
L 416.4624 -50.91473 
L 417.55608 -51.766798 
L 418.64976 -52.157089 
L 419.74344 -51.879869 
L 420.83712 -50.591058 
L 421.9308 -51.296238 
L 423.02448 -51.65981 
L 424.11816 -51.496884 
L 425.21184 -50.989514 
L 426.30552 -50.400479 
L 427.3992 -50.696444 
L 428.49288 -50.829984 
L 429.58656 -51.083312 
L 430.68024 -51.031118 
L 431.77392 -50.730621 
L 432.8676 -50.8279 
L 433.96128 -50.190368 
L 435.05496 -50.15109 
L 436.14864 -50.378397 
L 437.24232 -50.496699 
L 438.336 -50.267225 
L 439.42968 -50.608804 
L 440.52336 -50.257614 
L 441.61704 -49.717484 
L 442.71072 -49.829594 
L 443.8044 -49.482281 
L 444.89808 -49.270535 
L 445.99176 -49.237878 
L 447.08544 -50.010524 
L 448.17912 -49.665252 
L 449.2728 -48.7511 
L 450.36648 -49.310315 
L 451.46016 -49.164864 
L 452.55384 -48.555109 
L 453.64752 -48.696632 
L 454.7412 -49.03059 
L 455.83488 -48.284319 
L 456.92856 -48.040194 
L 458.02224 -47.937638 
L 459.11592 -47.018024 
L 460.2096 -46.583375 
L 461.30328 -46.433083 
L 462.39696 -46.738352 
L 463.49064 -46.815299 
L 464.58432 -46.111536 
L 465.678 -45.762323 
L 466.77168 -45.969563 
L 467.86536 -45.769316 
L 468.95904 -45.763799 
L 470.05272 -45.423784 
L 471.1464 -45.180167 
L 472.24008 -45.013641 
L 473.33376 -44.800869 
L 474.42744 -44.37754 
L 475.52112 -44.236031 
L 476.6148 -44.67352 
L 477.70848 -44.790298 
L 478.80216 -44.133564 
L 479.89584 -43.410971 
L 480.98952 -43.454593 
L 482.0832 -43.408069 
L 483.17688 -42.973698 
L 484.27056 -43.062598 
L 485.36424 -43.097164 
L 486.45792 -43.020686 
L 487.5516 -43.080162 
L 488.64528 -43.331844 
L 489.73896 -43.166746 
L 490.83264 -43.219798 
L 491.92632 -43.453488 
L 493.02 -43.068548 
L 494.11368 -42.896011 
L 495.20736 -43.321413 
L 496.30104 -43.568846 
L 497.39472 -43.327757 
L 498.4884 -43.225381 
L 499.58208 -42.982656 
L 500.67576 -43.067339 
L 501.76944 -43.461382 
L 502.86312 -43.488062 
L 503.9568 -43.329337 
L 505.05048 -43.087341 
L 506.14416 -42.960285 
L 507.23784 -42.959763 
L 508.33152 -43.005544 
L 509.4252 -43.24099 
L 510.51888 -43.085386 
L 511.61256 -43.124435 
L 512.70624 -43.325581 
L 513.79992 -43.341048 
L 514.8936 -43.253258 
L 515.98728 -43.283806 
L 517.08096 -43.153822 
L 518.17464 -42.886735 
L 519.26832 -43.107537 
L 520.362 -43.117806 
L 521.45568 -43.137119 
L 522.54936 -43.207922 
L 523.64304 -43.15972 
L 524.73672 -43.373148 
L 525.8304 -43.220963 
L 526.92408 -43.23286 
L 528.01776 -43.25362 
L 529.11144 -43.206336 
L 530.20512 -43.325601 
L 531.2988 -43.367414 
L 532.39248 -43.304207 
L 533.48616 -43.07519 
L 534.57984 -41.652546 
L 535.67352 -40.221026 
L 536.7672 -39.6 
L 537.86088 -39.6 
L 538.95456 -39.6 
L 540.04824 -39.6 
L 541.14192 -39.6 
L 542.2356 -39.6 
L 543.32928 -39.6 
L 544.42296 -39.6 
L 545.51664 -39.6 
L 546.61032 -39.6 
L 547.704 -39.6 
L 548.79768 -39.6 
L 549.89136 -39.6 
L 550.98504 -39.6 
L 552.07872 -39.6 
L 553.1724 -39.6 
L 554.26608 -39.6 
L 555.35976 -39.6 
L 556.45344 -39.6 
L 557.54712 -39.6 
L 558.6408 -39.6 
L 559.73448 -39.6 
L 560.82816 -39.6 
L 561.92184 -39.6 
L 563.01552 -39.6 
L 564.1092 -39.6 
L 565.20288 -39.6 
L 565.20288 -72.022673 
L 565.20288 -72.022673 
L 564.1092 -71.638003 
L 563.01552 -70.360878 
L 561.92184 -70.891858 
L 560.82816 -71.959508 
L 559.73448 -70.738089 
L 558.6408 -72.575002 
L 557.54712 -72.412206 
L 556.45344 -71.375201 
L 555.35976 -73.339112 
L 554.26608 -71.958169 
L 553.1724 -71.803697 
L 552.07872 -71.426379 
L 550.98504 -71.942686 
L 549.89136 -72.686147 
L 548.79768 -72.582865 
L 547.704 -74.108358 
L 546.61032 -75.696364 
L 545.51664 -74.729727 
L 544.42296 -74.178251 
L 543.32928 -73.980989 
L 542.2356 -75.138711 
L 541.14192 -75.934774 
L 540.04824 -76.681851 
L 538.95456 -76.567936 
L 537.86088 -74.821403 
L 536.7672 -75.140922 
L 535.67352 -74.691584 
L 534.57984 -74.902359 
L 533.48616 -76.399439 
L 532.39248 -77.807432 
L 531.2988 -77.1359 
L 530.20512 -78.482006 
L 529.11144 -79.71898 
L 528.01776 -82.463492 
L 526.92408 -80.36484 
L 525.8304 -82.92683 
L 524.73672 -81.634571 
L 523.64304 -81.510212 
L 522.54936 -80.414532 
L 521.45568 -82.520937 
L 520.362 -80.840603 
L 519.26832 -81.729234 
L 518.17464 -82.165886 
L 517.08096 -81.167423 
L 515.98728 -81.547228 
L 514.8936 -81.34183 
L 513.79992 -81.723113 
L 512.70624 -82.775392 
L 511.61256 -80.675543 
L 510.51888 -82.538984 
L 509.4252 -82.604466 
L 508.33152 -79.598561 
L 507.23784 -80.513577 
L 506.14416 -79.252123 
L 505.05048 -81.550346 
L 503.9568 -77.57323 
L 502.86312 -79.004893 
L 501.76944 -81.546527 
L 500.67576 -80.380294 
L 499.58208 -80.902795 
L 498.4884 -80.265282 
L 497.39472 -77.461444 
L 496.30104 -81.649912 
L 495.20736 -78.497721 
L 494.11368 -78.343765 
L 493.02 -77.40356 
L 491.92632 -80.009855 
L 490.83264 -78.116909 
L 489.73896 -79.500406 
L 488.64528 -79.49697 
L 487.5516 -77.260474 
L 486.45792 -79.135808 
L 485.36424 -79.109521 
L 484.27056 -79.339012 
L 483.17688 -80.468135 
L 482.0832 -80.41274 
L 480.98952 -78.710129 
L 479.89584 -81.003247 
L 478.80216 -82.390768 
L 477.70848 -81.493776 
L 476.6148 -82.044706 
L 475.52112 -81.756508 
L 474.42744 -84.955552 
L 473.33376 -84.664147 
L 472.24008 -87.904265 
L 471.1464 -87.022643 
L 470.05272 -88.746031 
L 468.95904 -88.029732 
L 467.86536 -91.628707 
L 466.77168 -91.864964 
L 465.678 -90.121311 
L 464.58432 -90.824731 
L 463.49064 -96.254023 
L 462.39696 -94.118882 
L 461.30328 -93.124562 
L 460.2096 -100.866659 
L 459.11592 -99.671025 
L 458.02224 -100.374458 
L 456.92856 -98.458444 
L 455.83488 -103.296576 
L 454.7412 -105.456997 
L 453.64752 -104.424876 
L 452.55384 -105.604111 
L 451.46016 -105.555802 
L 450.36648 -110.559484 
L 449.2728 -111.257181 
L 448.17912 -110.116879 
L 447.08544 -113.7744 
L 445.99176 -111.72046 
L 444.89808 -117.441698 
L 443.8044 -116.566285 
L 442.71072 -120.820498 
L 441.61704 -121.473537 
L 440.52336 -124.037271 
L 439.42968 -120.218441 
L 438.336 -125.916121 
L 437.24232 -130.025886 
L 436.14864 -129.10709 
L 435.05496 -130.777565 
L 433.96128 -134.838995 
L 432.8676 -138.18998 
L 431.77392 -139.207465 
L 430.68024 -138.519757 
L 429.58656 -137.573323 
L 428.49288 -142.509485 
L 427.3992 -139.676503 
L 426.30552 -143.434508 
L 425.21184 -138.764467 
L 424.11816 -147.797689 
L 423.02448 -145.934644 
L 421.9308 -145.36854 
L 420.83712 -147.358262 
L 419.74344 -143.644273 
L 418.64976 -148.098095 
L 417.55608 -147.700486 
L 416.4624 -151.7642 
L 415.36872 -152.97562 
L 414.27504 -151.462547 
L 413.18136 -151.777062 
L 412.08768 -149.100923 
L 410.994 -147.737856 
L 409.90032 -148.585028 
L 408.80664 -147.50739 
L 407.71296 -145.64663 
L 406.61928 -145.492891 
L 405.5256 -145.975447 
L 404.43192 -148.125323 
L 403.33824 -140.204117 
L 402.24456 -142.417667 
L 401.15088 -138.154209 
L 400.0572 -139.62085 
L 398.96352 -137.765087 
L 397.86984 -135.49782 
L 396.77616 -134.564773 
L 395.68248 -137.150791 
L 394.5888 -130.116767 
L 393.49512 -129.541727 
L 392.40144 -124.90397 
L 391.30776 -120.923716 
L 390.21408 -121.329087 
L 389.1204 -115.952218 
L 388.02672 -115.238578 
L 386.93304 -111.784365 
L 385.83936 -110.619475 
L 384.74568 -109.678552 
L 383.652 -107.130954 
L 382.55832 -107.018594 
L 381.46464 -110.917511 
L 380.37096 -108.161303 
L 379.27728 -104.752231 
L 378.1836 -106.446698 
L 377.08992 -105.747228 
L 375.99624 -106.603915 
L 374.90256 -104.887497 
L 373.80888 -106.141173 
L 372.7152 -102.008979 
L 371.62152 -102.849111 
L 370.52784 -100.157847 
L 369.43416 -101.116908 
L 368.34048 -102.35644 
L 367.2468 -102.369269 
L 366.15312 -99.39168 
L 365.05944 -101.502367 
L 363.96576 -99.419726 
L 362.87208 -98.461844 
L 361.7784 -100.171414 
L 360.68472 -99.090158 
L 359.59104 -94.17332 
L 358.49736 -96.588899 
L 357.40368 -97.487826 
L 356.31 -94.101537 
L 355.21632 -93.512525 
L 354.12264 -99.19511 
L 353.02896 -89.334895 
L 351.93528 -93.262536 
L 350.8416 -91.060524 
L 349.74792 -89.959085 
L 348.65424 -92.158736 
L 347.56056 -90.011597 
L 346.46688 -89.07188 
L 345.3732 -85.881661 
L 344.27952 -86.811706 
L 343.18584 -84.166279 
L 342.09216 -82.063336 
L 340.99848 -84.171674 
L 339.9048 -81.080974 
L 338.81112 -80.777003 
L 337.71744 -80.949598 
L 336.62376 -80.095746 
L 335.53008 -78.542586 
L 334.4364 -78.643743 
L 333.34272 -79.63361 
L 332.24904 -77.538945 
L 331.15536 -78.320844 
L 330.06168 -77.568697 
L 328.968 -76.92184 
L 327.87432 -77.467435 
L 326.78064 -76.471587 
L 325.68696 -77.358845 
L 324.59328 -74.703766 
L 323.4996 -75.544876 
L 322.40592 -78.018958 
L 321.31224 -74.005319 
L 320.21856 -75.823119 
L 319.12488 -75.403477 
L 318.0312 -75.705414 
L 316.93752 -74.359899 
L 315.84384 -74.827985 
L 314.75016 -76.448239 
L 313.65648 -74.044758 
L 312.5628 -75.885818 
L 311.46912 -76.063048 
L 310.37544 -73.760999 
L 309.28176 -75.99634 
L 308.18808 -77.343881 
L 307.0944 -77.736747 
L 306.00072 -76.889142 
L 304.90704 -76.848338 
L 303.81336 -79.25407 
L 302.71968 -77.545439 
L 301.626 -78.943019 
L 300.53232 -79.309626 
L 299.43864 -80.508972 
L 298.34496 -80.816001 
L 297.25128 -82.746008 
L 296.1576 -81.938194 
L 295.06392 -83.011225 
L 293.97024 -83.576228 
L 292.87656 -84.835353 
L 291.78288 -85.592593 
L 290.6892 -85.602565 
L 289.59552 -88.205249 
L 288.50184 -88.6379 
L 287.40816 -89.924828 
L 286.31448 -89.827782 
L 285.2208 -92.184006 
L 284.12712 -91.462457 
L 283.03344 -90.915568 
L 281.93976 -96.081581 
L 280.84608 -91.48737 
L 279.7524 -94.063554 
L 278.65872 -93.494538 
L 277.56504 -95.786275 
L 276.47136 -93.851371 
L 275.37768 -99.700135 
L 274.284 -99.922663 
L 273.19032 -95.374354 
L 272.09664 -98.753504 
L 271.00296 -98.155786 
L 269.90928 -99.743049 
L 268.8156 -94.807722 
L 267.72192 -97.667729 
L 266.62824 -92.704014 
L 265.53456 -99.120364 
L 264.44088 -99.496685 
L 263.3472 -96.434351 
L 262.25352 -97.936538 
L 261.15984 -95.710545 
L 260.06616 -99.546134 
L 258.97248 -98.8154 
L 257.8788 -98.992511 
L 256.78512 -103.692337 
L 255.69144 -108.445584 
L 254.59776 -101.932266 
L 253.50408 -105.115934 
L 252.4104 -107.257956 
L 251.31672 -110.455484 
L 250.22304 -110.526382 
L 249.12936 -108.093497 
L 248.03568 -110.844323 
L 246.942 -115.335999 
L 245.84832 -111.393204 
L 244.75464 -116.836246 
L 243.66096 -117.85386 
L 242.56728 -119.756073 
L 241.4736 -121.187403 
L 240.37992 -122.894685 
L 239.28624 -123.709994 
L 238.19256 -127.264202 
L 237.09888 -132.62848 
L 236.0052 -131.04094 
L 234.91152 -132.359272 
L 233.81784 -132.586512 
L 232.72416 -131.966545 
L 231.63048 -134.197373 
L 230.5368 -138.165956 
L 229.44312 -137.733834 
L 228.34944 -134.633844 
L 227.25576 -140.714677 
L 226.16208 -137.701087 
L 225.0684 -143.626545 
L 223.97472 -139.13933 
L 222.88104 -137.909214 
L 221.78736 -137.444441 
L 220.69368 -137.839605 
L 219.6 -140.04002 
L 218.50632 -134.860975 
L 217.41264 -137.10013 
L 216.31896 -136.533489 
L 215.22528 -134.246588 
L 214.1316 -132.782949 
L 213.03792 -131.151319 
L 211.94424 -126.284372 
L 210.85056 -122.868322 
L 209.75688 -124.763138 
L 208.6632 -117.888348 
L 207.56952 -115.992954 
L 206.47584 -116.078959 
L 205.38216 -111.656404 
L 204.28848 -110.662825 
L 203.1948 -107.020517 
L 202.10112 -105.087911 
L 201.00744 -102.609326 
L 199.91376 -97.980272 
L 198.82008 -96.255102 
L 197.7264 -92.483633 
L 196.63272 -90.071951 
L 195.53904 -87.41601 
L 194.44536 -87.33546 
L 193.35168 -82.719232 
L 192.258 -81.073893 
L 191.16432 -83.507583 
L 190.07064 -79.01234 
L 188.97696 -73.468454 
L 187.88328 -72.83895 
L 186.7896 -74.373102 
L 185.69592 -71.827176 
L 184.60224 -68.59645 
L 183.50856 -68.309351 
L 182.41488 -65.679557 
L 181.3212 -64.763058 
L 180.22752 -64.340657 
L 179.13384 -64.510327 
L 178.04016 -63.300485 
L 176.94648 -63.105855 
L 175.8528 -62.081441 
L 174.75912 -62.050961 
L 173.66544 -62.874907 
L 172.57176 -60.249769 
L 171.47808 -60.246959 
L 170.3844 -60.621127 
L 169.29072 -60.698601 
L 168.19704 -59.910181 
L 167.10336 -58.990567 
L 166.00968 -59.129827 
L 164.916 -57.82006 
L 163.82232 -57.937723 
L 162.72864 -56.815239 
L 161.63496 -57.618169 
L 160.54128 -57.52366 
L 159.4476 -56.360737 
L 158.35392 -58.181265 
L 157.26024 -57.457485 
L 156.16656 -57.54779 
L 155.07288 -57.741214 
L 153.9792 -58.082437 
L 152.88552 -57.857891 
L 151.79184 -57.845321 
L 150.69816 -57.599423 
L 149.60448 -57.247498 
L 148.5108 -57.974261 
L 147.41712 -58.086592 
L 146.32344 -56.941974 
L 145.22976 -56.722071 
L 144.13608 -57.837774 
L 143.0424 -58.272319 
L 141.94872 -57.698905 
L 140.85504 -57.996384 
L 139.76136 -57.326274 
L 138.66768 -58.080014 
L 137.574 -58.901405 
L 136.48032 -58.642455 
L 135.38664 -59.258154 
L 134.29296 -58.659403 
L 133.19928 -59.291367 
L 132.1056 -60.557001 
L 131.01192 -60.288157 
L 129.91824 -59.404687 
L 128.82456 -61.276789 
L 127.73088 -61.267703 
L 126.6372 -61.287293 
L 125.54352 -62.285892 
L 124.44984 -61.912809 
L 123.35616 -62.531654 
L 122.26248 -63.990591 
L 121.1688 -64.376534 
L 120.07512 -64.639693 
L 118.98144 -64.442703 
L 117.88776 -65.628793 
L 116.79408 -66.260853 
L 115.7004 -64.579378 
L 114.60672 -66.008227 
L 113.51304 -64.814545 
L 112.41936 -65.668564 
L 111.32568 -64.353153 
L 110.232 -65.127289 
L 109.13832 -65.538566 
L 108.04464 -65.494447 
L 106.95096 -64.818164 
L 105.85728 -65.4252 
L 104.7636 -65.655275 
L 103.66992 -65.560053 
L 102.57624 -64.708863 
L 101.48256 -65.217184 
L 100.38888 -64.558755 
L 99.2952 -63.959052 
L 98.20152 -64.444086 
L 97.10784 -63.389074 
L 96.01416 -61.036186 
L 94.92048 -60.742761 
L 93.8268 -60.400273 
L 92.73312 -59.274757 
L 91.63944 -58.9366 
L 90.54576 -55.905693 
L 89.45208 -53.686309 
L 88.3584 -53.607633 
L 87.26472 -50.758554 
L 86.17104 -48.933767 
L 85.07736 -47.206716 
L 83.98368 -46.016394 
L 82.89 -43.766775 
L 81.79632 -41.998886 
L 80.70264 -42.682616 
L 79.60896 -41.513851 
L 78.51528 -40.141679 
L 77.4216 -40.247789 
L 76.32792 -40.057396 
L 75.23424 -39.726937 
L 74.14056 -39.944128 
L 73.04688 -40.076392 
L 71.9532 -40.331207 
L 70.85952 -39.700373 
L 69.76584 -39.825634 
L 68.67216 -39.6 
L 67.57848 -40.114606 
L 66.4848 -39.787616 
L 65.39112 -39.883987 
L 64.29744 -39.874913 
L 63.20376 -39.944735 
L 62.11008 -39.6 
L 61.0164 -39.777749 
L 59.92272 -39.978486 
L 58.82904 -39.6 
L 57.73536 -39.6 
L 56.64168 -39.791931 
L 55.548 -39.6 
z
" style="stroke: #1f77b4; stroke-opacity: 0.1"/>
    </defs>
    <g clip-path="url(#p82a1acf33c)">
     <use href="#m0f4b4564e7" x="0" y="864" style="fill: #1f77b4; fill-opacity: 0.1; stroke: #1f77b4; stroke-opacity: 0.1"/>
    </g>
   </g>
   <g id="FillBetweenPolyCollection_5">
    <defs>
     <path id="mf23bc857ee" d="M 55.548 -39.6 
L 55.548 -39.6 
L 56.64168 -39.6 
L 57.73536 -39.6 
L 58.82904 -39.6 
L 59.92272 -39.610686 
L 61.0164 -39.6 
L 62.11008 -39.6 
L 63.20376 -39.6 
L 64.29744 -39.782559 
L 65.39112 -39.913946 
L 66.4848 -39.832094 
L 67.57848 -39.728709 
L 68.67216 -39.822853 
L 69.76584 -40.077283 
L 70.85952 -40.015832 
L 71.9532 -39.89991 
L 73.04688 -40.038324 
L 74.14056 -40.034354 
L 75.23424 -40.113711 
L 76.32792 -40.182002 
L 77.4216 -40.238737 
L 78.51528 -40.384547 
L 79.60896 -40.394164 
L 80.70264 -40.404968 
L 81.79632 -40.541077 
L 82.89 -40.600282 
L 83.98368 -40.466314 
L 85.07736 -40.578161 
L 86.17104 -40.605764 
L 87.26472 -40.692209 
L 88.3584 -40.683776 
L 89.45208 -40.82712 
L 90.54576 -40.891675 
L 91.63944 -40.90301 
L 92.73312 -40.894704 
L 93.8268 -40.990818 
L 94.92048 -41.063149 
L 96.01416 -41.182911 
L 97.10784 -41.418377 
L 98.20152 -41.499966 
L 99.2952 -41.793552 
L 100.38888 -41.871631 
L 101.48256 -41.792859 
L 102.57624 -42.042113 
L 103.66992 -42.111601 
L 104.7636 -42.312235 
L 105.85728 -42.422521 
L 106.95096 -42.400659 
L 108.04464 -42.641732 
L 109.13832 -42.824908 
L 110.232 -43.026735 
L 111.32568 -43.001816 
L 112.41936 -43.240502 
L 113.51304 -43.226444 
L 114.60672 -43.379615 
L 115.7004 -43.520548 
L 116.79408 -43.890329 
L 117.88776 -44.023092 
L 118.98144 -44.323824 
L 120.07512 -44.27881 
L 121.1688 -44.38508 
L 122.26248 -44.477234 
L 123.35616 -44.412125 
L 124.44984 -44.616332 
L 125.54352 -44.92141 
L 126.6372 -44.845057 
L 127.73088 -44.997884 
L 128.82456 -45.132907 
L 129.91824 -45.323377 
L 131.01192 -45.314727 
L 132.1056 -45.45562 
L 133.19928 -45.655202 
L 134.29296 -45.73416 
L 135.38664 -45.743857 
L 136.48032 -46.075148 
L 137.574 -45.852309 
L 138.66768 -45.89576 
L 139.76136 -46.100949 
L 140.85504 -46.624694 
L 141.94872 -46.547866 
L 143.0424 -46.473522 
L 144.13608 -46.603205 
L 145.22976 -46.992152 
L 146.32344 -46.850101 
L 147.41712 -46.942061 
L 148.5108 -47.401621 
L 149.60448 -47.239385 
L 150.69816 -47.494741 
L 151.79184 -47.718868 
L 152.88552 -47.773251 
L 153.9792 -48.047996 
L 155.07288 -48.450913 
L 156.16656 -48.136212 
L 157.26024 -47.927718 
L 158.35392 -47.943995 
L 159.4476 -48.462328 
L 160.54128 -48.678006 
L 161.63496 -48.922665 
L 162.72864 -48.879873 
L 163.82232 -48.940539 
L 164.916 -49.00535 
L 166.00968 -49.214842 
L 167.10336 -49.519406 
L 168.19704 -49.557672 
L 169.29072 -49.9118 
L 170.3844 -50.533571 
L 171.47808 -50.205931 
L 172.57176 -49.812017 
L 173.66544 -50.75778 
L 174.75912 -50.58098 
L 175.8528 -50.319196 
L 176.94648 -50.90103 
L 178.04016 -50.819134 
L 179.13384 -50.665175 
L 180.22752 -50.709439 
L 181.3212 -50.783288 
L 182.41488 -51.320019 
L 183.50856 -51.779948 
L 184.60224 -51.548056 
L 185.69592 -51.942122 
L 186.7896 -52.404462 
L 187.88328 -51.661815 
L 188.97696 -52.031231 
L 190.07064 -52.012958 
L 191.16432 -51.833566 
L 192.258 -51.99115 
L 193.35168 -52.51047 
L 194.44536 -52.798652 
L 195.53904 -52.662608 
L 196.63272 -52.973153 
L 197.7264 -53.347193 
L 198.82008 -53.417076 
L 199.91376 -53.682259 
L 201.00744 -53.710148 
L 202.10112 -53.916259 
L 203.1948 -54.425869 
L 204.28848 -54.191477 
L 205.38216 -54.096513 
L 206.47584 -54.267135 
L 207.56952 -53.906551 
L 208.6632 -54.200329 
L 209.75688 -54.757307 
L 210.85056 -54.981179 
L 211.94424 -55.302668 
L 213.03792 -54.844438 
L 214.1316 -54.592645 
L 215.22528 -55.745923 
L 216.31896 -55.66592 
L 217.41264 -55.1526 
L 218.50632 -55.8736 
L 219.6 -55.570424 
L 220.69368 -55.049142 
L 221.78736 -55.424445 
L 222.88104 -55.511476 
L 223.97472 -55.919602 
L 225.0684 -55.132533 
L 226.16208 -54.994776 
L 227.25576 -54.873767 
L 228.34944 -54.649679 
L 229.44312 -54.393011 
L 230.5368 -54.671356 
L 231.63048 -54.879568 
L 232.72416 -54.521539 
L 233.81784 -53.777313 
L 234.91152 -53.531684 
L 236.0052 -53.75427 
L 237.09888 -53.418888 
L 238.19256 -53.158267 
L 239.28624 -52.922388 
L 240.37992 -53.899789 
L 241.4736 -53.520733 
L 242.56728 -52.772059 
L 243.66096 -53.180153 
L 244.75464 -53.047688 
L 245.84832 -51.757181 
L 246.942 -51.990751 
L 248.03568 -52.119207 
L 249.12936 -52.317255 
L 250.22304 -52.00643 
L 251.31672 -51.813436 
L 252.4104 -51.901057 
L 253.50408 -52.502327 
L 254.59776 -52.4427 
L 255.69144 -51.378968 
L 256.78512 -51.198781 
L 257.8788 -52.049525 
L 258.97248 -50.960969 
L 260.06616 -50.767731 
L 261.15984 -50.929873 
L 262.25352 -51.053743 
L 263.3472 -51.109994 
L 264.44088 -50.735777 
L 265.53456 -50.264719 
L 266.62824 -50.497614 
L 267.72192 -50.510916 
L 268.8156 -50.768108 
L 269.90928 -50.080598 
L 271.00296 -49.455161 
L 272.09664 -49.517461 
L 273.19032 -50.057701 
L 274.284 -49.407528 
L 275.37768 -48.806625 
L 276.47136 -49.090174 
L 277.56504 -49.321308 
L 278.65872 -49.452787 
L 279.7524 -48.889836 
L 280.84608 -49.129096 
L 281.93976 -49.064395 
L 283.03344 -48.580852 
L 284.12712 -48.638569 
L 285.2208 -49.104633 
L 286.31448 -49.072419 
L 287.40816 -48.730539 
L 288.50184 -48.511055 
L 289.59552 -48.541458 
L 290.6892 -48.181008 
L 291.78288 -48.004509 
L 292.87656 -47.78511 
L 293.97024 -47.881073 
L 295.06392 -47.980511 
L 296.1576 -48.442047 
L 297.25128 -47.863944 
L 298.34496 -47.98745 
L 299.43864 -47.917042 
L 300.53232 -47.552582 
L 301.626 -47.548999 
L 302.71968 -46.876931 
L 303.81336 -47.198063 
L 304.90704 -47.246953 
L 306.00072 -46.535486 
L 307.0944 -46.690151 
L 308.18808 -47.100225 
L 309.28176 -46.800423 
L 310.37544 -46.516344 
L 311.46912 -46.550785 
L 312.5628 -46.530176 
L 313.65648 -46.698982 
L 314.75016 -46.588596 
L 315.84384 -46.332618 
L 316.93752 -46.173949 
L 318.0312 -46.263241 
L 319.12488 -46.442524 
L 320.21856 -46.242468 
L 321.31224 -46.342622 
L 322.40592 -46.301968 
L 323.4996 -46.208105 
L 324.59328 -46.487485 
L 325.68696 -46.932885 
L 326.78064 -46.984133 
L 327.87432 -46.849402 
L 328.968 -46.868167 
L 330.06168 -47.360178 
L 331.15536 -47.492217 
L 332.24904 -47.618434 
L 333.34272 -47.806587 
L 334.4364 -48.115032 
L 335.53008 -48.342847 
L 336.62376 -48.672301 
L 337.71744 -48.883286 
L 338.81112 -49.102645 
L 339.9048 -49.03009 
L 340.99848 -48.811451 
L 342.09216 -48.963523 
L 343.18584 -49.196749 
L 344.27952 -49.16306 
L 345.3732 -49.509457 
L 346.46688 -49.729784 
L 347.56056 -49.238746 
L 348.65424 -49.118911 
L 349.74792 -49.983203 
L 350.8416 -49.974726 
L 351.93528 -50.085978 
L 353.02896 -49.809264 
L 354.12264 -50.680899 
L 355.21632 -50.628212 
L 356.31 -50.377025 
L 357.40368 -50.384562 
L 358.49736 -50.61064 
L 359.59104 -50.651795 
L 360.68472 -50.641987 
L 361.7784 -50.629157 
L 362.87208 -51.395119 
L 363.96576 -51.242105 
L 365.05944 -51.296026 
L 366.15312 -51.235455 
L 367.2468 -50.699577 
L 368.34048 -51.576858 
L 369.43416 -51.605276 
L 370.52784 -51.691136 
L 371.62152 -51.851388 
L 372.7152 -51.757466 
L 373.80888 -52.312306 
L 374.90256 -52.03789 
L 375.99624 -52.042743 
L 377.08992 -52.310241 
L 378.1836 -52.909337 
L 379.27728 -53.283651 
L 380.37096 -52.977194 
L 381.46464 -52.938856 
L 382.55832 -53.807862 
L 383.652 -53.613992 
L 384.74568 -54.347405 
L 385.83936 -54.220266 
L 386.93304 -54.094412 
L 388.02672 -54.340992 
L 389.1204 -54.957866 
L 390.21408 -55.30117 
L 391.30776 -55.227768 
L 392.40144 -55.827124 
L 393.49512 -56.333772 
L 394.5888 -55.730426 
L 395.68248 -55.423448 
L 396.77616 -55.551828 
L 397.86984 -55.68864 
L 398.96352 -56.113115 
L 400.0572 -56.286124 
L 401.15088 -56.399272 
L 402.24456 -56.962252 
L 403.33824 -56.283141 
L 404.43192 -56.944544 
L 405.5256 -58.336566 
L 406.61928 -58.396387 
L 407.71296 -58.327236 
L 408.80664 -58.555889 
L 409.90032 -59.112405 
L 410.994 -58.769318 
L 412.08768 -58.306095 
L 413.18136 -57.788159 
L 414.27504 -57.938025 
L 415.36872 -57.685258 
L 416.4624 -57.535143 
L 417.55608 -57.475646 
L 418.64976 -57.58035 
L 419.74344 -57.511815 
L 420.83712 -57.63843 
L 421.9308 -56.932087 
L 423.02448 -57.218082 
L 424.11816 -57.774343 
L 425.21184 -57.263732 
L 426.30552 -57.421207 
L 427.3992 -57.391319 
L 428.49288 -57.296974 
L 429.58656 -56.836929 
L 430.68024 -56.020542 
L 431.77392 -56.135159 
L 432.8676 -55.98175 
L 433.96128 -55.533613 
L 435.05496 -55.659247 
L 436.14864 -55.323123 
L 437.24232 -55.149599 
L 438.336 -55.651593 
L 439.42968 -55.545598 
L 440.52336 -55.169843 
L 441.61704 -54.95001 
L 442.71072 -54.976309 
L 443.8044 -54.948752 
L 444.89808 -54.872433 
L 445.99176 -54.858449 
L 447.08544 -54.617388 
L 448.17912 -54.642824 
L 449.2728 -54.494399 
L 450.36648 -54.123197 
L 451.46016 -53.507968 
L 452.55384 -53.280628 
L 453.64752 -53.361224 
L 454.7412 -52.983327 
L 455.83488 -52.558637 
L 456.92856 -51.444508 
L 458.02224 -51.169493 
L 459.11592 -51.978651 
L 460.2096 -52.03994 
L 461.30328 -52.117799 
L 462.39696 -51.674829 
L 463.49064 -51.184943 
L 464.58432 -50.72731 
L 465.678 -50.157156 
L 466.77168 -50.460246 
L 467.86536 -49.974096 
L 468.95904 -49.951651 
L 470.05272 -49.687562 
L 471.1464 -49.479673 
L 472.24008 -49.326425 
L 473.33376 -48.734275 
L 474.42744 -48.411776 
L 475.52112 -48.080506 
L 476.6148 -48.049819 
L 477.70848 -48.228406 
L 478.80216 -47.668962 
L 479.89584 -47.662271 
L 480.98952 -47.395816 
L 482.0832 -47.106204 
L 483.17688 -46.960051 
L 484.27056 -46.635585 
L 485.36424 -46.907099 
L 486.45792 -47.127748 
L 487.5516 -46.721152 
L 488.64528 -46.725818 
L 489.73896 -46.663812 
L 490.83264 -46.786673 
L 491.92632 -46.656404 
L 493.02 -47.079962 
L 494.11368 -46.721808 
L 495.20736 -46.532581 
L 496.30104 -47.159859 
L 497.39472 -47.116107 
L 498.4884 -46.981334 
L 499.58208 -46.922318 
L 500.67576 -46.737114 
L 501.76944 -46.76876 
L 502.86312 -46.98828 
L 503.9568 -47.074526 
L 505.05048 -47.053424 
L 506.14416 -46.867402 
L 507.23784 -46.700338 
L 508.33152 -46.788296 
L 509.4252 -47.097042 
L 510.51888 -47.146131 
L 511.61256 -46.77087 
L 512.70624 -46.738928 
L 513.79992 -47.080506 
L 514.8936 -47.046003 
L 515.98728 -46.923199 
L 517.08096 -46.53186 
L 518.17464 -46.634905 
L 519.26832 -46.68124 
L 520.362 -46.743156 
L 521.45568 -46.504925 
L 522.54936 -47.010327 
L 523.64304 -46.943631 
L 524.73672 -46.852939 
L 525.8304 -46.563439 
L 526.92408 -46.801258 
L 528.01776 -47.014127 
L 529.11144 -46.537217 
L 530.20512 -46.825702 
L 531.2988 -46.932894 
L 532.39248 -46.720699 
L 533.48616 -46.928511 
L 534.57984 -46.774976 
L 535.67352 -46.972792 
L 536.7672 -46.829701 
L 537.86088 -46.763795 
L 538.95456 -47.018617 
L 540.04824 -46.822355 
L 541.14192 -46.706526 
L 542.2356 -46.190273 
L 543.32928 -46.207972 
L 544.42296 -46.483601 
L 545.51664 -46.46862 
L 546.61032 -46.265422 
L 547.704 -46.261524 
L 548.79768 -45.940772 
L 549.89136 -46.005789 
L 550.98504 -45.808735 
L 552.07872 -45.954621 
L 553.1724 -45.802681 
L 554.26608 -45.719563 
L 555.35976 -45.864638 
L 556.45344 -46.055095 
L 557.54712 -45.570382 
L 558.6408 -45.551098 
L 559.73448 -45.761079 
L 560.82816 -45.591631 
L 561.92184 -45.814609 
L 563.01552 -45.568325 
L 564.1092 -45.446968 
L 565.20288 -45.424941 
L 565.20288 -61.543208 
L 565.20288 -61.543208 
L 564.1092 -61.332974 
L 563.01552 -61.642792 
L 561.92184 -61.665202 
L 560.82816 -61.883811 
L 559.73448 -62.030597 
L 558.6408 -61.830919 
L 557.54712 -62.006518 
L 556.45344 -62.283295 
L 555.35976 -61.933275 
L 554.26608 -61.798641 
L 553.1724 -61.82649 
L 552.07872 -62.091385 
L 550.98504 -62.262789 
L 549.89136 -62.235655 
L 548.79768 -63.091124 
L 547.704 -62.855949 
L 546.61032 -62.656719 
L 545.51664 -62.56747 
L 544.42296 -62.719255 
L 543.32928 -62.90471 
L 542.2356 -62.762032 
L 541.14192 -62.819605 
L 540.04824 -63.445886 
L 538.95456 -64.232259 
L 537.86088 -65.381701 
L 536.7672 -64.955177 
L 535.67352 -65.462118 
L 534.57984 -65.379225 
L 533.48616 -66.32004 
L 532.39248 -66.754871 
L 531.2988 -66.610417 
L 530.20512 -67.309745 
L 529.11144 -67.190092 
L 528.01776 -67.423249 
L 526.92408 -67.619661 
L 525.8304 -67.784475 
L 524.73672 -68.855489 
L 523.64304 -67.895736 
L 522.54936 -68.118097 
L 521.45568 -68.139158 
L 520.362 -67.856109 
L 519.26832 -67.765197 
L 518.17464 -68.164898 
L 517.08096 -68.320258 
L 515.98728 -68.746293 
L 514.8936 -68.809811 
L 513.79992 -68.461321 
L 512.70624 -69.304501 
L 511.61256 -68.898327 
L 510.51888 -68.676988 
L 509.4252 -68.937587 
L 508.33152 -69.141082 
L 507.23784 -69.094844 
L 506.14416 -69.515098 
L 505.05048 -69.377834 
L 503.9568 -68.455908 
L 502.86312 -69.339041 
L 501.76944 -69.369376 
L 500.67576 -68.73225 
L 499.58208 -69.134902 
L 498.4884 -69.599236 
L 497.39472 -69.778795 
L 496.30104 -69.447961 
L 495.20736 -69.989708 
L 494.11368 -70.495615 
L 493.02 -69.666608 
L 491.92632 -70.311063 
L 490.83264 -70.507535 
L 489.73896 -69.630667 
L 488.64528 -69.611575 
L 487.5516 -69.834258 
L 486.45792 -69.937645 
L 485.36424 -70.646259 
L 484.27056 -71.327951 
L 483.17688 -71.12937 
L 482.0832 -71.23594 
L 480.98952 -70.870719 
L 479.89584 -71.127691 
L 478.80216 -71.45127 
L 477.70848 -72.040241 
L 476.6148 -71.654521 
L 475.52112 -71.063388 
L 474.42744 -71.133911 
L 473.33376 -72.313737 
L 472.24008 -72.657579 
L 471.1464 -73.240677 
L 470.05272 -73.707335 
L 468.95904 -74.902371 
L 467.86536 -75.551203 
L 466.77168 -76.833691 
L 465.678 -77.294005 
L 464.58432 -77.788657 
L 463.49064 -78.056813 
L 462.39696 -79.773278 
L 461.30328 -80.638852 
L 460.2096 -81.274189 
L 459.11592 -81.224682 
L 458.02224 -82.485639 
L 456.92856 -84.999324 
L 455.83488 -85.44915 
L 454.7412 -87.782422 
L 453.64752 -88.775862 
L 452.55384 -89.545117 
L 451.46016 -91.032611 
L 450.36648 -92.075663 
L 449.2728 -93.551283 
L 448.17912 -94.383598 
L 447.08544 -96.390364 
L 445.99176 -97.738661 
L 444.89808 -99.78827 
L 443.8044 -101.450527 
L 442.71072 -102.574382 
L 441.61704 -102.485768 
L 440.52336 -104.828012 
L 439.42968 -105.843211 
L 438.336 -106.845641 
L 437.24232 -109.130851 
L 436.14864 -110.307861 
L 435.05496 -110.54609 
L 433.96128 -111.469761 
L 432.8676 -111.891025 
L 431.77392 -113.020253 
L 430.68024 -112.331454 
L 429.58656 -113.312166 
L 428.49288 -115.111229 
L 427.3992 -116.826394 
L 426.30552 -116.431793 
L 425.21184 -116.977585 
L 424.11816 -116.957122 
L 423.02448 -116.6947 
L 421.9308 -117.774681 
L 420.83712 -118.309153 
L 419.74344 -119.076082 
L 418.64976 -118.457605 
L 417.55608 -117.860235 
L 416.4624 -118.950481 
L 415.36872 -120.008343 
L 414.27504 -119.903514 
L 413.18136 -119.837031 
L 412.08768 -120.811525 
L 410.994 -119.959725 
L 409.90032 -120.013391 
L 408.80664 -118.67554 
L 407.71296 -118.447274 
L 406.61928 -117.269142 
L 405.5256 -115.639611 
L 404.43192 -116.764302 
L 403.33824 -114.916692 
L 402.24456 -112.355167 
L 401.15088 -111.41269 
L 400.0572 -110.683257 
L 398.96352 -110.415238 
L 397.86984 -110.147913 
L 396.77616 -108.476973 
L 395.68248 -106.463863 
L 394.5888 -105.120972 
L 393.49512 -103.790712 
L 392.40144 -100.709176 
L 391.30776 -99.167659 
L 390.21408 -97.496887 
L 389.1204 -96.933988 
L 388.02672 -95.896217 
L 386.93304 -93.735593 
L 385.83936 -93.473031 
L 384.74568 -93.047179 
L 383.652 -92.767863 
L 382.55832 -91.332631 
L 381.46464 -89.237876 
L 380.37096 -87.587982 
L 379.27728 -87.304989 
L 378.1836 -87.462086 
L 377.08992 -86.851465 
L 375.99624 -86.447233 
L 374.90256 -85.221359 
L 373.80888 -85.875572 
L 372.7152 -84.484444 
L 371.62152 -83.698094 
L 370.52784 -82.449448 
L 369.43416 -81.675012 
L 368.34048 -80.929737 
L 367.2468 -81.166672 
L 366.15312 -80.530975 
L 365.05944 -79.435234 
L 363.96576 -80.639278 
L 362.87208 -80.323721 
L 361.7784 -78.99407 
L 360.68472 -79.40547 
L 359.59104 -79.394914 
L 358.49736 -78.127288 
L 357.40368 -78.060976 
L 356.31 -77.396141 
L 355.21632 -77.37955 
L 354.12264 -77.169715 
L 353.02896 -76.00577 
L 351.93528 -75.148938 
L 350.8416 -74.409076 
L 349.74792 -73.687646 
L 348.65424 -72.920556 
L 347.56056 -72.559512 
L 346.46688 -72.406643 
L 345.3732 -71.815663 
L 344.27952 -71.462303 
L 343.18584 -70.795122 
L 342.09216 -70.757488 
L 340.99848 -69.773508 
L 339.9048 -69.604528 
L 338.81112 -68.946568 
L 337.71744 -68.673348 
L 336.62376 -69.103734 
L 335.53008 -69.094353 
L 334.4364 -67.793248 
L 333.34272 -67.490217 
L 332.24904 -67.321603 
L 331.15536 -66.969285 
L 330.06168 -67.24579 
L 328.968 -66.909612 
L 327.87432 -66.823462 
L 326.78064 -66.13977 
L 325.68696 -65.343979 
L 324.59328 -65.195823 
L 323.4996 -65.231062 
L 322.40592 -65.51286 
L 321.31224 -65.137335 
L 320.21856 -64.913501 
L 319.12488 -65.122694 
L 318.0312 -64.692834 
L 316.93752 -64.892581 
L 315.84384 -65.368576 
L 314.75016 -65.743918 
L 313.65648 -65.419386 
L 312.5628 -66.389292 
L 311.46912 -66.547044 
L 310.37544 -67.267585 
L 309.28176 -68.06941 
L 308.18808 -68.389075 
L 307.0944 -67.465442 
L 306.00072 -67.516644 
L 304.90704 -68.124061 
L 303.81336 -67.497391 
L 302.71968 -68.015807 
L 301.626 -69.080841 
L 300.53232 -69.663413 
L 299.43864 -69.436433 
L 298.34496 -70.532948 
L 297.25128 -71.948481 
L 296.1576 -73.063954 
L 295.06392 -72.579558 
L 293.97024 -74.045356 
L 292.87656 -74.681713 
L 291.78288 -74.464803 
L 290.6892 -75.496221 
L 289.59552 -76.364287 
L 288.50184 -77.108684 
L 287.40816 -77.364046 
L 286.31448 -78.073136 
L 285.2208 -78.919774 
L 284.12712 -79.954404 
L 283.03344 -79.506366 
L 281.93976 -78.915554 
L 280.84608 -79.512752 
L 279.7524 -81.173991 
L 278.65872 -82.151495 
L 277.56504 -81.732952 
L 276.47136 -82.717308 
L 275.37768 -82.65063 
L 274.284 -83.009667 
L 273.19032 -82.415572 
L 272.09664 -83.917233 
L 271.00296 -83.241225 
L 269.90928 -84.118866 
L 268.8156 -85.342279 
L 267.72192 -84.818815 
L 266.62824 -84.188841 
L 265.53456 -84.86067 
L 264.44088 -85.914432 
L 263.3472 -85.857086 
L 262.25352 -85.144545 
L 261.15984 -86.745745 
L 260.06616 -87.133586 
L 258.97248 -88.1973 
L 257.8788 -89.032959 
L 256.78512 -88.638646 
L 255.69144 -89.135772 
L 254.59776 -89.164771 
L 253.50408 -89.80355 
L 252.4104 -91.727119 
L 251.31672 -92.530225 
L 250.22304 -91.854206 
L 249.12936 -92.788186 
L 248.03568 -92.762251 
L 246.942 -95.260713 
L 245.84832 -96.782343 
L 244.75464 -96.860741 
L 243.66096 -98.485217 
L 242.56728 -99.544124 
L 241.4736 -99.944938 
L 240.37992 -101.718067 
L 239.28624 -103.292804 
L 238.19256 -104.245817 
L 237.09888 -104.375738 
L 236.0052 -105.229136 
L 234.91152 -106.351998 
L 233.81784 -105.753616 
L 232.72416 -107.401536 
L 231.63048 -108.069502 
L 230.5368 -108.671986 
L 229.44312 -109.929971 
L 228.34944 -110.935559 
L 227.25576 -111.361888 
L 226.16208 -111.30497 
L 225.0684 -111.232287 
L 223.97472 -111.630823 
L 222.88104 -111.615452 
L 221.78736 -111.79382 
L 220.69368 -111.824823 
L 219.6 -110.180287 
L 218.50632 -110.37826 
L 217.41264 -109.118257 
L 216.31896 -108.888808 
L 215.22528 -106.688186 
L 214.1316 -106.046619 
L 213.03792 -104.093368 
L 211.94424 -103.629057 
L 210.85056 -101.747183 
L 209.75688 -100.135417 
L 208.6632 -97.786837 
L 207.56952 -96.014536 
L 206.47584 -95.11206 
L 205.38216 -93.501387 
L 204.28848 -92.711989 
L 203.1948 -89.666245 
L 202.10112 -87.577282 
L 201.00744 -84.97405 
L 199.91376 -83.756568 
L 198.82008 -81.350143 
L 197.7264 -78.616805 
L 196.63272 -76.035154 
L 195.53904 -73.563378 
L 194.44536 -71.695319 
L 193.35168 -70.464369 
L 192.258 -69.290106 
L 191.16432 -68.567591 
L 190.07064 -67.31029 
L 188.97696 -65.736577 
L 187.88328 -64.403883 
L 186.7896 -62.990728 
L 185.69592 -61.971341 
L 184.60224 -61.256417 
L 183.50856 -60.737818 
L 182.41488 -59.488943 
L 181.3212 -58.968966 
L 180.22752 -58.477036 
L 179.13384 -57.326447 
L 178.04016 -57.020732 
L 176.94648 -56.292496 
L 175.8528 -55.908994 
L 174.75912 -55.064007 
L 173.66544 -54.808497 
L 172.57176 -53.987412 
L 171.47808 -54.051698 
L 170.3844 -54.332859 
L 169.29072 -54.02042 
L 168.19704 -53.904197 
L 167.10336 -53.723287 
L 166.00968 -53.46041 
L 164.916 -53.157031 
L 163.82232 -53.176168 
L 162.72864 -53.158561 
L 161.63496 -53.098734 
L 160.54128 -53.092171 
L 159.4476 -53.10519 
L 158.35392 -52.981387 
L 157.26024 -52.830069 
L 156.16656 -52.876571 
L 155.07288 -52.777374 
L 153.9792 -52.95052 
L 152.88552 -52.640976 
L 151.79184 -52.785058 
L 150.69816 -52.585861 
L 149.60448 -52.324867 
L 148.5108 -52.320579 
L 147.41712 -52.196381 
L 146.32344 -52.245615 
L 145.22976 -52.360834 
L 144.13608 -52.371283 
L 143.0424 -52.62916 
L 141.94872 -52.982387 
L 140.85504 -53.273558 
L 139.76136 -53.645701 
L 138.66768 -53.432371 
L 137.574 -53.525805 
L 136.48032 -53.97076 
L 135.38664 -54.295232 
L 134.29296 -54.335953 
L 133.19928 -54.711644 
L 132.1056 -55.205199 
L 131.01192 -55.256257 
L 129.91824 -55.487726 
L 128.82456 -55.049579 
L 127.73088 -55.311271 
L 126.6372 -55.744444 
L 125.54352 -56.319048 
L 124.44984 -56.453822 
L 123.35616 -56.622569 
L 122.26248 -56.876586 
L 121.1688 -57.219907 
L 120.07512 -57.182342 
L 118.98144 -57.47314 
L 117.88776 -57.76862 
L 116.79408 -58.217739 
L 115.7004 -57.956356 
L 114.60672 -57.73127 
L 113.51304 -57.895712 
L 112.41936 -57.625687 
L 111.32568 -57.328437 
L 110.232 -57.826931 
L 109.13832 -57.821409 
L 108.04464 -57.285762 
L 106.95096 -57.80361 
L 105.85728 -57.659838 
L 104.7636 -57.786224 
L 103.66992 -57.463095 
L 102.57624 -57.281874 
L 101.48256 -57.107083 
L 100.38888 -57.111428 
L 99.2952 -56.341814 
L 98.20152 -55.587569 
L 97.10784 -54.995852 
L 96.01416 -54.810039 
L 94.92048 -54.198818 
L 93.8268 -53.727248 
L 92.73312 -53.238389 
L 91.63944 -52.822024 
L 90.54576 -51.499668 
L 89.45208 -49.832249 
L 88.3584 -48.283929 
L 87.26472 -46.367361 
L 86.17104 -44.702033 
L 85.07736 -43.289371 
L 83.98368 -42.303748 
L 82.89 -40.612498 
L 81.79632 -40.158866 
L 80.70264 -40.285065 
L 79.60896 -40.276024 
L 78.51528 -40.231976 
L 77.4216 -40.23232 
L 76.32792 -39.966208 
L 75.23424 -40.005688 
L 74.14056 -39.920849 
L 73.04688 -40.020408 
L 71.9532 -39.933913 
L 70.85952 -39.917458 
L 69.76584 -39.708065 
L 68.67216 -39.699994 
L 67.57848 -39.723632 
L 66.4848 -39.840685 
L 65.39112 -39.623535 
L 64.29744 -39.683021 
L 63.20376 -39.713605 
L 62.11008 -39.6 
L 61.0164 -39.745907 
L 59.92272 -39.715172 
L 58.82904 -39.6 
L 57.73536 -39.6 
L 56.64168 -39.6 
L 55.548 -39.6 
z
" style="stroke: #1f77b4; stroke-opacity: 0.1"/>
    </defs>
    <g clip-path="url(#p82a1acf33c)">
     <use href="#mf23bc857ee" x="0" y="864" style="fill: #1f77b4; fill-opacity: 0.1; stroke: #1f77b4; stroke-opacity: 0.1"/>
    </g>
   </g>
   <g id="FillBetweenPolyCollection_6">
    <defs>
     <path id="m5c01045d39" d="M 55.548 -39.6 
L 55.548 -39.6 
L 56.64168 -39.6 
L 57.73536 -39.6 
L 58.82904 -39.6 
L 59.92272 -39.6 
L 61.0164 -39.606559 
L 62.11008 -39.668374 
L 63.20376 -39.762413 
L 64.29744 -39.727847 
L 65.39112 -39.928517 
L 66.4848 -40.059077 
L 67.57848 -40.2242 
L 68.67216 -40.212982 
L 69.76584 -40.239249 
L 70.85952 -40.207816 
L 71.9532 -40.492377 
L 73.04688 -40.323381 
L 74.14056 -40.554508 
L 75.23424 -40.545681 
L 76.32792 -40.545115 
L 77.4216 -40.625026 
L 78.51528 -40.718595 
L 79.60896 -40.872665 
L 80.70264 -40.950241 
L 81.79632 -41.089674 
L 82.89 -40.932991 
L 83.98368 -41.085518 
L 85.07736 -41.143984 
L 86.17104 -41.290427 
L 87.26472 -41.17107 
L 88.3584 -41.354171 
L 89.45208 -41.475362 
L 90.54576 -41.453882 
L 91.63944 -41.695251 
L 92.73312 -41.757272 
L 93.8268 -41.906748 
L 94.92048 -42.057253 
L 96.01416 -42.064476 
L 97.10784 -42.230827 
L 98.20152 -42.480385 
L 99.2952 -42.753177 
L 100.38888 -42.926451 
L 101.48256 -42.968392 
L 102.57624 -43.120038 
L 103.66992 -43.284904 
L 104.7636 -43.4819 
L 105.85728 -43.692901 
L 106.95096 -43.92988 
L 108.04464 -44.273999 
L 109.13832 -44.24301 
L 110.232 -44.399574 
L 111.32568 -44.629384 
L 112.41936 -44.674708 
L 113.51304 -44.890524 
L 114.60672 -45.14731 
L 115.7004 -45.374054 
L 116.79408 -45.373045 
L 117.88776 -45.800039 
L 118.98144 -45.834554 
L 120.07512 -46.053057 
L 121.1688 -46.340799 
L 122.26248 -46.527282 
L 123.35616 -46.733503 
L 124.44984 -46.779502 
L 125.54352 -46.905885 
L 126.6372 -47.084207 
L 127.73088 -47.128678 
L 128.82456 -47.565631 
L 129.91824 -47.45371 
L 131.01192 -47.58952 
L 132.1056 -48.275577 
L 133.19928 -48.131719 
L 134.29296 -48.139018 
L 135.38664 -48.778021 
L 136.48032 -48.708892 
L 137.574 -48.993284 
L 138.66768 -48.862023 
L 139.76136 -49.006502 
L 140.85504 -48.880618 
L 141.94872 -48.974442 
L 143.0424 -49.384967 
L 144.13608 -49.852063 
L 145.22976 -50.360193 
L 146.32344 -50.797724 
L 147.41712 -50.334242 
L 148.5108 -50.744161 
L 149.60448 -50.651973 
L 150.69816 -50.780543 
L 151.79184 -50.635537 
L 152.88552 -50.769266 
L 153.9792 -51.100313 
L 155.07288 -51.268082 
L 156.16656 -51.699273 
L 157.26024 -51.866263 
L 158.35392 -52.48282 
L 159.4476 -52.469407 
L 160.54128 -52.642659 
L 161.63496 -53.067731 
L 162.72864 -53.090559 
L 163.82232 -53.057999 
L 164.916 -53.179198 
L 166.00968 -53.421021 
L 167.10336 -53.95112 
L 168.19704 -54.091479 
L 169.29072 -54.146901 
L 170.3844 -54.343512 
L 171.47808 -54.184602 
L 172.57176 -54.477848 
L 173.66544 -54.280735 
L 174.75912 -55.161919 
L 175.8528 -55.118762 
L 176.94648 -55.265757 
L 178.04016 -55.550389 
L 179.13384 -55.524179 
L 180.22752 -55.676773 
L 181.3212 -56.26221 
L 182.41488 -56.090165 
L 183.50856 -55.923188 
L 184.60224 -56.336961 
L 185.69592 -56.112561 
L 186.7896 -57.173675 
L 187.88328 -56.975403 
L 188.97696 -57.256794 
L 190.07064 -58.221244 
L 191.16432 -58.372844 
L 192.258 -57.860742 
L 193.35168 -58.097305 
L 194.44536 -58.520402 
L 195.53904 -58.803016 
L 196.63272 -58.403935 
L 197.7264 -58.618895 
L 198.82008 -59.126864 
L 199.91376 -59.084635 
L 201.00744 -59.348292 
L 202.10112 -59.377727 
L 203.1948 -58.947806 
L 204.28848 -58.944753 
L 205.38216 -58.680859 
L 206.47584 -59.671136 
L 207.56952 -60.394249 
L 208.6632 -59.992644 
L 209.75688 -60.780528 
L 210.85056 -60.959353 
L 211.94424 -60.737278 
L 213.03792 -60.845119 
L 214.1316 -60.97329 
L 215.22528 -60.854919 
L 216.31896 -61.169619 
L 217.41264 -61.510386 
L 218.50632 -61.93818 
L 219.6 -62.099463 
L 220.69368 -61.854299 
L 221.78736 -62.237618 
L 222.88104 -61.727117 
L 223.97472 -61.752062 
L 225.0684 -61.849039 
L 226.16208 -61.634136 
L 227.25576 -61.488289 
L 228.34944 -61.448725 
L 229.44312 -61.071689 
L 230.5368 -60.898837 
L 231.63048 -61.028271 
L 232.72416 -61.283603 
L 233.81784 -61.039001 
L 234.91152 -61.429275 
L 236.0052 -60.634186 
L 237.09888 -59.463711 
L 238.19256 -60.166681 
L 239.28624 -60.86605 
L 240.37992 -60.297023 
L 241.4736 -59.872603 
L 242.56728 -59.742024 
L 243.66096 -60.350705 
L 244.75464 -60.269217 
L 245.84832 -60.00044 
L 246.942 -59.856573 
L 248.03568 -60.039231 
L 249.12936 -59.596276 
L 250.22304 -58.812848 
L 251.31672 -59.15345 
L 252.4104 -58.908038 
L 253.50408 -58.666003 
L 254.59776 -58.733465 
L 255.69144 -58.152234 
L 256.78512 -57.227158 
L 257.8788 -58.384301 
L 258.97248 -58.288706 
L 260.06616 -57.657125 
L 261.15984 -57.362509 
L 262.25352 -57.27668 
L 263.3472 -56.745085 
L 264.44088 -56.987465 
L 265.53456 -56.745084 
L 266.62824 -56.454052 
L 267.72192 -56.098048 
L 268.8156 -56.112085 
L 269.90928 -56.613532 
L 271.00296 -56.602202 
L 272.09664 -56.12039 
L 273.19032 -55.637032 
L 274.284 -55.258495 
L 275.37768 -55.661989 
L 276.47136 -55.686138 
L 277.56504 -54.672613 
L 278.65872 -54.986055 
L 279.7524 -54.023312 
L 280.84608 -54.291007 
L 281.93976 -54.375429 
L 283.03344 -53.677551 
L 284.12712 -53.466851 
L 285.2208 -53.93351 
L 286.31448 -54.068558 
L 287.40816 -53.699308 
L 288.50184 -53.92761 
L 289.59552 -53.444275 
L 290.6892 -53.870065 
L 291.78288 -53.429507 
L 292.87656 -53.271949 
L 293.97024 -53.264672 
L 295.06392 -53.187698 
L 296.1576 -53.533446 
L 297.25128 -53.515917 
L 298.34496 -52.892812 
L 299.43864 -52.409025 
L 300.53232 -51.992318 
L 301.626 -51.991364 
L 302.71968 -52.118874 
L 303.81336 -52.028238 
L 304.90704 -51.931457 
L 306.00072 -51.867939 
L 307.0944 -51.787018 
L 308.18808 -51.225789 
L 309.28176 -51.224308 
L 310.37544 -51.689271 
L 311.46912 -51.546272 
L 312.5628 -51.163274 
L 313.65648 -51.341278 
L 314.75016 -50.849392 
L 315.84384 -50.656401 
L 316.93752 -50.321121 
L 318.0312 -50.749458 
L 319.12488 -50.626195 
L 320.21856 -50.714595 
L 321.31224 -50.726049 
L 322.40592 -50.67152 
L 323.4996 -50.820995 
L 324.59328 -51.122885 
L 325.68696 -50.947092 
L 326.78064 -50.997398 
L 327.87432 -51.205833 
L 328.968 -51.528331 
L 330.06168 -51.770076 
L 331.15536 -52.041856 
L 332.24904 -51.75497 
L 333.34272 -52.004457 
L 334.4364 -51.745069 
L 335.53008 -52.06102 
L 336.62376 -52.210858 
L 337.71744 -52.679293 
L 338.81112 -52.529235 
L 339.9048 -52.386666 
L 340.99848 -52.769728 
L 342.09216 -52.891066 
L 343.18584 -52.845453 
L 344.27952 -52.930575 
L 345.3732 -53.138652 
L 346.46688 -54.232482 
L 347.56056 -53.888924 
L 348.65424 -53.999353 
L 349.74792 -53.542345 
L 350.8416 -53.644282 
L 351.93528 -54.116142 
L 353.02896 -54.414644 
L 354.12264 -54.768932 
L 355.21632 -54.503453 
L 356.31 -55.134149 
L 357.40368 -55.57357 
L 358.49736 -55.101534 
L 359.59104 -55.583427 
L 360.68472 -55.324316 
L 361.7784 -55.809332 
L 362.87208 -56.182142 
L 363.96576 -56.648713 
L 365.05944 -56.124953 
L 366.15312 -56.474686 
L 367.2468 -56.844974 
L 368.34048 -56.3814 
L 369.43416 -56.723117 
L 370.52784 -56.683992 
L 371.62152 -56.946833 
L 372.7152 -57.613211 
L 373.80888 -58.030332 
L 374.90256 -58.792397 
L 375.99624 -58.722797 
L 377.08992 -58.709611 
L 378.1836 -58.397815 
L 379.27728 -58.492169 
L 380.37096 -58.672511 
L 381.46464 -58.370273 
L 382.55832 -59.617542 
L 383.652 -59.282169 
L 384.74568 -59.232415 
L 385.83936 -59.734129 
L 386.93304 -60.49576 
L 388.02672 -60.821881 
L 389.1204 -60.557506 
L 390.21408 -60.902489 
L 391.30776 -60.936946 
L 392.40144 -60.874527 
L 393.49512 -61.422258 
L 394.5888 -61.560004 
L 395.68248 -61.414655 
L 396.77616 -62.243219 
L 397.86984 -61.854706 
L 398.96352 -62.410841 
L 400.0572 -62.330494 
L 401.15088 -62.543439 
L 402.24456 -62.925447 
L 403.33824 -63.50067 
L 404.43192 -63.214656 
L 405.5256 -63.791927 
L 406.61928 -64.535562 
L 407.71296 -64.142767 
L 408.80664 -64.478107 
L 409.90032 -64.897981 
L 410.994 -64.618896 
L 412.08768 -64.680433 
L 413.18136 -64.330926 
L 414.27504 -64.54543 
L 415.36872 -64.21648 
L 416.4624 -63.861878 
L 417.55608 -64.368777 
L 418.64976 -63.870147 
L 419.74344 -63.511096 
L 420.83712 -63.172628 
L 421.9308 -63.181244 
L 423.02448 -63.236387 
L 424.11816 -63.297966 
L 425.21184 -63.331017 
L 426.30552 -62.49041 
L 427.3992 -62.634932 
L 428.49288 -63.045391 
L 429.58656 -62.690106 
L 430.68024 -62.651518 
L 431.77392 -62.860395 
L 432.8676 -62.385434 
L 433.96128 -62.166297 
L 435.05496 -62.002503 
L 436.14864 -62.41663 
L 437.24232 -62.034896 
L 438.336 -61.320299 
L 439.42968 -61.374639 
L 440.52336 -60.909598 
L 441.61704 -61.407078 
L 442.71072 -61.235027 
L 443.8044 -60.760353 
L 444.89808 -60.375175 
L 445.99176 -59.92718 
L 447.08544 -60.450918 
L 448.17912 -60.067006 
L 449.2728 -59.758136 
L 450.36648 -59.751696 
L 451.46016 -59.09422 
L 452.55384 -58.756713 
L 453.64752 -58.422885 
L 454.7412 -58.214799 
L 455.83488 -59.04366 
L 456.92856 -58.145706 
L 458.02224 -57.736562 
L 459.11592 -57.608022 
L 460.2096 -56.25763 
L 461.30328 -56.802991 
L 462.39696 -56.727622 
L 463.49064 -56.239652 
L 464.58432 -56.229817 
L 465.678 -55.361657 
L 466.77168 -55.702555 
L 467.86536 -55.67556 
L 468.95904 -54.448966 
L 470.05272 -54.339167 
L 471.1464 -54.600437 
L 472.24008 -54.440062 
L 473.33376 -54.05753 
L 474.42744 -54.079301 
L 475.52112 -53.744423 
L 476.6148 -53.066828 
L 477.70848 -53.020987 
L 478.80216 -52.444717 
L 479.89584 -51.867818 
L 480.98952 -51.697378 
L 482.0832 -52.347664 
L 483.17688 -52.252591 
L 484.27056 -52.523236 
L 485.36424 -51.714093 
L 486.45792 -51.822312 
L 487.5516 -52.01482 
L 488.64528 -51.92177 
L 489.73896 -52.012547 
L 490.83264 -51.86929 
L 491.92632 -51.499721 
L 493.02 -51.028374 
L 494.11368 -51.427309 
L 495.20736 -52.145019 
L 496.30104 -52.038241 
L 497.39472 -51.99633 
L 498.4884 -51.485719 
L 499.58208 -51.402488 
L 500.67576 -51.277661 
L 501.76944 -51.522829 
L 502.86312 -51.492605 
L 503.9568 -51.615038 
L 505.05048 -51.798668 
L 506.14416 -51.23618 
L 507.23784 -51.345829 
L 508.33152 -50.975292 
L 509.4252 -51.387478 
L 510.51888 -51.10643 
L 511.61256 -51.090105 
L 512.70624 -51.210473 
L 513.79992 -51.48046 
L 514.8936 -51.066391 
L 515.98728 -50.778278 
L 517.08096 -50.619505 
L 518.17464 -50.855044 
L 519.26832 -50.628244 
L 520.362 -50.644207 
L 521.45568 -50.783627 
L 522.54936 -50.87154 
L 523.64304 -50.597155 
L 524.73672 -50.889675 
L 525.8304 -51.024277 
L 526.92408 -50.386355 
L 528.01776 -50.922593 
L 529.11144 -51.083444 
L 530.20512 -50.474892 
L 531.2988 -50.483324 
L 532.39248 -50.11306 
L 533.48616 -50.353729 
L 534.57984 -50.253215 
L 535.67352 -50.245736 
L 536.7672 -49.928968 
L 537.86088 -49.847615 
L 538.95456 -49.866433 
L 540.04824 -49.766348 
L 541.14192 -49.734085 
L 542.2356 -49.728374 
L 543.32928 -49.525487 
L 544.42296 -49.671319 
L 545.51664 -49.662641 
L 546.61032 -49.120625 
L 547.704 -49.445091 
L 548.79768 -49.274758 
L 549.89136 -49.074865 
L 550.98504 -48.970309 
L 552.07872 -49.012491 
L 553.1724 -49.048209 
L 554.26608 -49.15289 
L 555.35976 -48.901575 
L 556.45344 -49.174146 
L 557.54712 -48.890021 
L 558.6408 -49.079878 
L 559.73448 -49.066029 
L 560.82816 -48.643827 
L 561.92184 -49.005264 
L 563.01552 -49.158299 
L 564.1092 -48.655085 
L 565.20288 -48.669528 
L 565.20288 -55.414206 
L 565.20288 -55.414206 
L 564.1092 -55.52731 
L 563.01552 -55.605686 
L 561.92184 -55.995063 
L 560.82816 -56.161943 
L 559.73448 -56.11658 
L 558.6408 -56.405298 
L 557.54712 -56.400342 
L 556.45344 -56.575252 
L 555.35976 -56.972645 
L 554.26608 -57.116971 
L 553.1724 -57.204993 
L 552.07872 -57.002688 
L 550.98504 -57.062547 
L 549.89136 -57.22883 
L 548.79768 -57.680497 
L 547.704 -57.666631 
L 546.61032 -57.772192 
L 545.51664 -57.978281 
L 544.42296 -57.924199 
L 543.32928 -57.958056 
L 542.2356 -58.212923 
L 541.14192 -58.510387 
L 540.04824 -58.251236 
L 538.95456 -58.326795 
L 537.86088 -58.81787 
L 536.7672 -58.651948 
L 535.67352 -59.175309 
L 534.57984 -59.081324 
L 533.48616 -59.467532 
L 532.39248 -59.538872 
L 531.2988 -59.451935 
L 530.20512 -59.475017 
L 529.11144 -59.788059 
L 528.01776 -59.63346 
L 526.92408 -59.851726 
L 525.8304 -60.453605 
L 524.73672 -60.472395 
L 523.64304 -60.519089 
L 522.54936 -60.701207 
L 521.45568 -61.104793 
L 520.362 -61.16275 
L 519.26832 -60.954256 
L 518.17464 -60.970327 
L 517.08096 -61.363946 
L 515.98728 -61.5744 
L 514.8936 -61.584315 
L 513.79992 -61.555092 
L 512.70624 -61.962306 
L 511.61256 -61.930588 
L 510.51888 -61.538019 
L 509.4252 -62.480796 
L 508.33152 -62.428969 
L 507.23784 -62.657042 
L 506.14416 -62.325391 
L 505.05048 -62.721948 
L 503.9568 -62.903094 
L 502.86312 -63.065274 
L 501.76944 -63.041571 
L 500.67576 -63.128674 
L 499.58208 -63.292892 
L 498.4884 -63.222287 
L 497.39472 -62.728101 
L 496.30104 -63.015357 
L 495.20736 -63.291631 
L 494.11368 -62.867766 
L 493.02 -62.525272 
L 491.92632 -62.755498 
L 490.83264 -63.086913 
L 489.73896 -63.352467 
L 488.64528 -62.845522 
L 487.5516 -62.88799 
L 486.45792 -62.986612 
L 485.36424 -63.27404 
L 484.27056 -63.292439 
L 483.17688 -63.444181 
L 482.0832 -63.24087 
L 480.98952 -62.731284 
L 479.89584 -63.199041 
L 478.80216 -63.618745 
L 477.70848 -63.805162 
L 476.6148 -63.68096 
L 475.52112 -63.723144 
L 474.42744 -63.469956 
L 473.33376 -64.318613 
L 472.24008 -64.805993 
L 471.1464 -65.430195 
L 470.05272 -66.326786 
L 468.95904 -67.375924 
L 467.86536 -68.452504 
L 466.77168 -68.604997 
L 465.678 -69.63697 
L 464.58432 -70.360853 
L 463.49064 -71.087171 
L 462.39696 -71.348977 
L 461.30328 -72.631369 
L 460.2096 -73.636014 
L 459.11592 -73.858119 
L 458.02224 -74.782198 
L 456.92856 -75.913255 
L 455.83488 -77.544196 
L 454.7412 -77.388285 
L 453.64752 -77.517346 
L 452.55384 -79.296404 
L 451.46016 -80.336528 
L 450.36648 -81.888596 
L 449.2728 -82.491076 
L 448.17912 -83.274395 
L 447.08544 -83.968128 
L 445.99176 -85.112362 
L 444.89808 -85.350272 
L 443.8044 -86.53187 
L 442.71072 -88.44846 
L 441.61704 -88.735075 
L 440.52336 -89.262136 
L 439.42968 -89.60268 
L 438.336 -90.960128 
L 437.24232 -91.588442 
L 436.14864 -92.273051 
L 435.05496 -93.293797 
L 433.96128 -94.617535 
L 432.8676 -94.877934 
L 431.77392 -95.179326 
L 430.68024 -96.448628 
L 429.58656 -95.985831 
L 428.49288 -96.637975 
L 427.3992 -97.922692 
L 426.30552 -97.782129 
L 425.21184 -98.312127 
L 424.11816 -97.392471 
L 423.02448 -98.70486 
L 421.9308 -100.073498 
L 420.83712 -100.01492 
L 419.74344 -100.823632 
L 418.64976 -101.018862 
L 417.55608 -100.415032 
L 416.4624 -101.022239 
L 415.36872 -101.625583 
L 414.27504 -100.36777 
L 413.18136 -100.112412 
L 412.08768 -99.278063 
L 410.994 -98.9567 
L 409.90032 -98.96381 
L 408.80664 -98.401054 
L 407.71296 -98.359791 
L 406.61928 -98.522756 
L 405.5256 -97.668666 
L 404.43192 -96.975298 
L 403.33824 -95.852255 
L 402.24456 -95.245281 
L 401.15088 -94.317877 
L 400.0572 -93.523293 
L 398.96352 -92.090298 
L 397.86984 -90.483363 
L 396.77616 -89.593364 
L 395.68248 -89.325565 
L 394.5888 -89.101991 
L 393.49512 -87.884646 
L 392.40144 -86.360892 
L 391.30776 -85.804094 
L 390.21408 -84.259779 
L 389.1204 -82.877474 
L 388.02672 -82.47756 
L 386.93304 -81.998442 
L 385.83936 -80.464023 
L 384.74568 -79.641959 
L 383.652 -79.320184 
L 382.55832 -78.067483 
L 381.46464 -76.587254 
L 380.37096 -76.678158 
L 379.27728 -76.327293 
L 378.1836 -75.248602 
L 377.08992 -74.823276 
L 375.99624 -73.234161 
L 374.90256 -72.992088 
L 373.80888 -71.630153 
L 372.7152 -70.883803 
L 371.62152 -71.075583 
L 370.52784 -70.693407 
L 369.43416 -70.780775 
L 368.34048 -70.701448 
L 367.2468 -69.768202 
L 366.15312 -69.915703 
L 365.05944 -69.277875 
L 363.96576 -68.349296 
L 362.87208 -68.816712 
L 361.7784 -68.249516 
L 360.68472 -67.829416 
L 359.59104 -67.616083 
L 358.49736 -67.888812 
L 357.40368 -67.241543 
L 356.31 -66.502756 
L 355.21632 -66.096644 
L 354.12264 -65.82685 
L 353.02896 -65.072789 
L 351.93528 -64.242277 
L 350.8416 -63.812656 
L 349.74792 -63.277563 
L 348.65424 -62.515094 
L 347.56056 -62.085375 
L 346.46688 -61.627695 
L 345.3732 -60.951472 
L 344.27952 -60.36326 
L 343.18584 -59.610489 
L 342.09216 -58.688502 
L 340.99848 -58.042582 
L 339.9048 -57.651275 
L 338.81112 -57.157035 
L 337.71744 -57.144175 
L 336.62376 -56.637828 
L 335.53008 -56.789797 
L 334.4364 -56.733901 
L 333.34272 -56.710614 
L 332.24904 -56.534379 
L 331.15536 -56.877205 
L 330.06168 -56.491078 
L 328.968 -56.419864 
L 327.87432 -56.287902 
L 326.78064 -56.250016 
L 325.68696 -56.55778 
L 324.59328 -56.103506 
L 323.4996 -55.788012 
L 322.40592 -55.700338 
L 321.31224 -55.925309 
L 320.21856 -56.157847 
L 319.12488 -56.014075 
L 318.0312 -56.205861 
L 316.93752 -56.307551 
L 315.84384 -56.481651 
L 314.75016 -57.057991 
L 313.65648 -57.254909 
L 312.5628 -57.140224 
L 311.46912 -57.545756 
L 310.37544 -57.765423 
L 309.28176 -57.875428 
L 308.18808 -57.816358 
L 307.0944 -58.29833 
L 306.00072 -58.727098 
L 304.90704 -58.678533 
L 303.81336 -59.043224 
L 302.71968 -59.265671 
L 301.626 -59.240054 
L 300.53232 -60.224406 
L 299.43864 -60.567521 
L 298.34496 -60.368913 
L 297.25128 -60.723437 
L 296.1576 -60.70306 
L 295.06392 -61.38501 
L 293.97024 -61.686632 
L 292.87656 -62.150442 
L 291.78288 -62.539799 
L 290.6892 -62.906112 
L 289.59552 -63.159326 
L 288.50184 -63.420719 
L 287.40816 -63.915292 
L 286.31448 -64.003022 
L 285.2208 -64.552955 
L 284.12712 -65.18735 
L 283.03344 -65.184369 
L 281.93976 -65.375439 
L 280.84608 -65.063289 
L 279.7524 -65.741543 
L 278.65872 -65.477373 
L 277.56504 -65.984615 
L 276.47136 -66.447486 
L 275.37768 -66.816707 
L 274.284 -67.413026 
L 273.19032 -67.370964 
L 272.09664 -67.431242 
L 271.00296 -67.843007 
L 269.90928 -67.735628 
L 268.8156 -67.475857 
L 267.72192 -67.738592 
L 266.62824 -67.927086 
L 265.53456 -68.529587 
L 264.44088 -69.452918 
L 263.3472 -69.5882 
L 262.25352 -70.590519 
L 261.15984 -70.646833 
L 260.06616 -71.026677 
L 258.97248 -71.239416 
L 257.8788 -72.05508 
L 256.78512 -72.339947 
L 255.69144 -72.544692 
L 254.59776 -73.263264 
L 253.50408 -74.52183 
L 252.4104 -74.791997 
L 251.31672 -75.368994 
L 250.22304 -74.905548 
L 249.12936 -75.584406 
L 248.03568 -75.849245 
L 246.942 -76.663731 
L 245.84832 -78.148424 
L 244.75464 -78.5525 
L 243.66096 -79.603927 
L 242.56728 -80.473373 
L 241.4736 -81.085382 
L 240.37992 -81.470102 
L 239.28624 -82.034971 
L 238.19256 -83.039657 
L 237.09888 -82.944578 
L 236.0052 -85.016887 
L 234.91152 -85.668502 
L 233.81784 -86.292687 
L 232.72416 -86.589349 
L 231.63048 -87.246815 
L 230.5368 -88.42201 
L 229.44312 -88.166855 
L 228.34944 -87.995789 
L 227.25576 -88.205458 
L 226.16208 -88.317833 
L 225.0684 -88.769706 
L 223.97472 -88.625724 
L 222.88104 -88.378958 
L 221.78736 -89.159335 
L 220.69368 -89.011097 
L 219.6 -88.507015 
L 218.50632 -87.894472 
L 217.41264 -87.644417 
L 216.31896 -86.828927 
L 215.22528 -85.400777 
L 214.1316 -84.785402 
L 213.03792 -84.541817 
L 211.94424 -84.21798 
L 210.85056 -84.190692 
L 209.75688 -82.324149 
L 208.6632 -80.419679 
L 207.56952 -79.407978 
L 206.47584 -78.783519 
L 205.38216 -77.395358 
L 204.28848 -76.374026 
L 203.1948 -75.700802 
L 202.10112 -74.379088 
L 201.00744 -72.043881 
L 199.91376 -70.498358 
L 198.82008 -68.897914 
L 197.7264 -68.089143 
L 196.63272 -66.570925 
L 195.53904 -65.174336 
L 194.44536 -63.257787 
L 193.35168 -62.285304 
L 192.258 -61.229534 
L 191.16432 -60.692403 
L 190.07064 -59.465545 
L 188.97696 -58.256827 
L 187.88328 -57.087293 
L 186.7896 -56.056658 
L 185.69592 -55.143336 
L 184.60224 -54.610082 
L 183.50856 -53.620718 
L 182.41488 -52.219533 
L 181.3212 -51.543827 
L 180.22752 -50.524943 
L 179.13384 -50.214988 
L 178.04016 -50.016675 
L 176.94648 -50.328873 
L 175.8528 -50.362434 
L 174.75912 -50.340737 
L 173.66544 -50.00176 
L 172.57176 -49.874576 
L 171.47808 -49.722384 
L 170.3844 -49.623634 
L 169.29072 -49.473499 
L 168.19704 -49.525407 
L 167.10336 -49.367644 
L 166.00968 -49.300685 
L 164.916 -49.169563 
L 163.82232 -49.14093 
L 162.72864 -49.138871 
L 161.63496 -49.086704 
L 160.54128 -48.830252 
L 159.4476 -48.529164 
L 158.35392 -48.498608 
L 157.26024 -48.621169 
L 156.16656 -48.524971 
L 155.07288 -48.360368 
L 153.9792 -48.207414 
L 152.88552 -48.084035 
L 151.79184 -48.243781 
L 150.69816 -47.978957 
L 149.60448 -47.842632 
L 148.5108 -47.797414 
L 147.41712 -47.845089 
L 146.32344 -47.861709 
L 145.22976 -47.749778 
L 144.13608 -47.675431 
L 143.0424 -47.71918 
L 141.94872 -47.425356 
L 140.85504 -47.540341 
L 139.76136 -47.683952 
L 138.66768 -47.831178 
L 137.574 -47.658091 
L 136.48032 -47.756437 
L 135.38664 -47.719295 
L 134.29296 -47.980196 
L 133.19928 -47.857562 
L 132.1056 -47.926771 
L 131.01192 -47.85199 
L 129.91824 -47.760672 
L 128.82456 -48.121787 
L 127.73088 -48.148649 
L 126.6372 -47.962869 
L 125.54352 -47.90072 
L 124.44984 -48.184683 
L 123.35616 -48.11869 
L 122.26248 -48.18829 
L 121.1688 -48.108625 
L 120.07512 -48.350163 
L 118.98144 -48.383551 
L 117.88776 -48.129939 
L 116.79408 -48.373226 
L 115.7004 -48.374898 
L 114.60672 -48.470548 
L 113.51304 -48.611264 
L 112.41936 -48.630577 
L 111.32568 -48.513345 
L 110.232 -48.626807 
L 109.13832 -48.807831 
L 108.04464 -48.785665 
L 106.95096 -48.87859 
L 105.85728 -48.967699 
L 104.7636 -48.856689 
L 103.66992 -48.83986 
L 102.57624 -48.768555 
L 101.48256 -48.877678 
L 100.38888 -48.78868 
L 99.2952 -48.064945 
L 98.20152 -47.195089 
L 97.10784 -46.620151 
L 96.01416 -46.112268 
L 94.92048 -45.152676 
L 93.8268 -44.785569 
L 92.73312 -44.160636 
L 91.63944 -43.553145 
L 90.54576 -42.91455 
L 89.45208 -42.118072 
L 88.3584 -41.411783 
L 87.26472 -40.925035 
L 86.17104 -40.302643 
L 85.07736 -40.28696 
L 83.98368 -40.466426 
L 82.89 -40.308252 
L 81.79632 -40.148473 
L 80.70264 -40.083832 
L 79.60896 -40.183397 
L 78.51528 -40.2494 
L 77.4216 -40.0597 
L 76.32792 -39.989419 
L 75.23424 -40.050145 
L 74.14056 -39.924092 
L 73.04688 -39.919492 
L 71.9532 -39.78586 
L 70.85952 -39.662694 
L 69.76584 -39.663819 
L 68.67216 -39.679324 
L 67.57848 -39.65866 
L 66.4848 -39.761754 
L 65.39112 -39.989233 
L 64.29744 -39.6 
L 63.20376 -39.6 
L 62.11008 -39.6 
L 61.0164 -39.6 
L 59.92272 -39.6 
L 58.82904 -39.6 
L 57.73536 -39.6 
L 56.64168 -39.6 
L 55.548 -39.6 
z
" style="stroke: #1f77b4; stroke-opacity: 0.1"/>
    </defs>
    <g clip-path="url(#p82a1acf33c)">
     <use href="#m5c01045d39" x="0" y="864" style="fill: #1f77b4; fill-opacity: 0.1; stroke: #1f77b4; stroke-opacity: 0.1"/>
    </g>
   </g>
   <g id="matplotlib.axis_3">
    <g id="xtick_18">
     <g id="line2d_36">
      <g>
       <use href="#m1504cfccaf" x="55.8000" y="824.7600" style="stroke: #000000; stroke-width: 0.8"/>
      </g>
     </g>
    </g>
    <g id="xtick_19">
     <g id="line2d_37">
      <g>
       <use href="#m1504cfccaf" x="86.7600" y="824.7600" style="stroke: #000000; stroke-width: 0.8"/>
      </g>
     </g>
     <g id="text_9">
      <text style="font-size: 10px; font-family: 'DejaVu Sans', 'Liberation Sans', sans-serif; text-anchor: middle" x="86.17104" y="838.998438" transform="translate(-0.2880 0.5760) rotate(-0 86.17104 838.998438)">Apr</text>
     </g>
    </g>
    <g id="xtick_20">
     <g id="line2d_38">
      <g>
       <use href="#m1504cfccaf" x="186.1200" y="824.7600" style="stroke: #000000; stroke-width: 0.8"/>
      </g>
     </g>
     <g id="text_10">
      <text style="font-size: 10px; font-family: 'DejaVu Sans', 'Liberation Sans', sans-serif; text-anchor: middle" x="185.69592" y="838.998438" transform="translate(-0.1800 0.7200) rotate(-0 185.69592 838.998438)">Jul</text>
     </g>
    </g>
    <g id="xtick_21">
     <g id="line2d_39">
      <g>
       <use href="#m1504cfccaf" x="286.9200" y="824.7600" style="stroke: #000000; stroke-width: 0.8"/>
      </g>
     </g>
     <g id="text_11">
      <text style="font-size: 10px; font-family: 'DejaVu Sans', 'Liberation Sans', sans-serif; text-anchor: middle" x="286.31448" y="838.998438" transform="translate(0.5040 0.7200) rotate(-0 286.31448 838.998438)">Oct</text>
     </g>
    </g>
    <g id="xtick_22">
     <g id="line2d_40">
      <g>
       <use href="#m1504cfccaf" x="387.0000" y="824.7600" style="stroke: #000000; stroke-width: 0.8"/>
      </g>
     </g>
     <g id="text_12">
      <text style="font-size: 10px; font-family: 'DejaVu Sans', 'Liberation Sans', sans-serif" transform="translate(-0.2520 0.8640) translate(379.225228 838.998438)">Jan</text>
      <text style="font-size: 10px; font-family: 'DejaVu Sans', 'Liberation Sans', sans-serif" transform="translate(0.0000 0.7200) translate(374.20804 850.19625)">2021</text>
     </g>
    </g>
    <g id="xtick_23">
     <g id="line2d_41">
      <g>
       <use href="#m1504cfccaf" x="485.6400" y="824.7600" style="stroke: #000000; stroke-width: 0.8"/>
      </g>
     </g>
     <g id="text_13">
      <text style="font-size: 10px; font-family: 'DejaVu Sans', 'Liberation Sans', sans-serif; text-anchor: middle" x="485.36424" y="838.998438" transform="translate(-0.3960 0.7200) rotate(-0 485.36424 838.998438)">Apr</text>
     </g>
    </g>
    <g id="xtick_24">
     <g id="line2d_42">
      <g>
       <use href="#m1504cfccaf" x="565.5600" y="824.7600" style="stroke: #000000; stroke-width: 0.8"/>
      </g>
     </g>
    </g>
    <g id="xtick_25">
     <g id="line2d_43">
      <g>
       <use href="#m05db3bdf9b" x="119.1600" y="824.7600" style="stroke: #000000; stroke-width: 0.6"/>
      </g>
     </g>
    </g>
    <g id="xtick_26">
     <g id="line2d_44">
      <g>
       <use href="#m05db3bdf9b" x="153.0000" y="824.7600" style="stroke: #000000; stroke-width: 0.6"/>
      </g>
     </g>
    </g>
    <g id="xtick_27">
     <g id="line2d_45">
      <g>
       <use href="#m05db3bdf9b" x="219.9600" y="824.7600" style="stroke: #000000; stroke-width: 0.6"/>
      </g>
     </g>
    </g>
    <g id="xtick_28">
     <g id="line2d_46">
      <g>
       <use href="#m05db3bdf9b" x="253.8000" y="824.7600" style="stroke: #000000; stroke-width: 0.6"/>
      </g>
     </g>
    </g>
    <g id="xtick_29">
     <g id="line2d_47">
      <g>
       <use href="#m05db3bdf9b" x="320.7600" y="824.7600" style="stroke: #000000; stroke-width: 0.6"/>
      </g>
     </g>
    </g>
    <g id="xtick_30">
     <g id="line2d_48">
      <g>
       <use href="#m05db3bdf9b" x="353.1600" y="824.7600" style="stroke: #000000; stroke-width: 0.6"/>
      </g>
     </g>
    </g>
    <g id="xtick_31">
     <g id="line2d_49">
      <g>
       <use href="#m05db3bdf9b" x="420.8400" y="824.7600" style="stroke: #000000; stroke-width: 0.6"/>
      </g>
     </g>
    </g>
    <g id="xtick_32">
     <g id="line2d_50">
      <g>
       <use href="#m05db3bdf9b" x="451.8000" y="824.7600" style="stroke: #000000; stroke-width: 0.6"/>
      </g>
     </g>
    </g>
    <g id="xtick_33">
     <g id="line2d_51">
      <g>
       <use href="#m05db3bdf9b" x="518.7600" y="824.7600" style="stroke: #000000; stroke-width: 0.6"/>
      </g>
     </g>
    </g>
    <g id="xtick_34">
     <g id="line2d_52">
      <g>
       <use href="#m05db3bdf9b" x="552.6000" y="824.7600" style="stroke: #000000; stroke-width: 0.6"/>
      </g>
     </g>
    </g>
   </g>
   <g id="matplotlib.axis_4">
    <g id="ytick_8">
     <g id="line2d_53">
      <path d="M 55.548 824.7600
L 565.20288 824.7600
" clip-path="url(#p82a1acf33c)" style="fill: none; stroke: #b0b0b0; stroke-width: 0.8; stroke-linecap: square"/>
     </g>
     <g id="line2d_54">
      <g>
       <use href="#m5d545ce8f8" x="55.8000" y="824.7600" style="stroke: #000000; stroke-width: 0.8"/>
      </g>
     </g>
     <g id="text_14">
      <text style="font-size: 10px; font-family: 'DejaVu Sans', 'Liberation Sans', sans-serif; text-anchor: end" x="48.548" y="828.199219" transform="translate(1.2240 0.7920) rotate(-0 48.548 828.199219)">0</text>
     </g>
    </g>
    <g id="ytick_9">
     <g id="line2d_55">
      <path d="M 55.548 773.6400
L 565.20288 773.6400
" clip-path="url(#p82a1acf33c)" style="fill: none; stroke: #b0b0b0; stroke-width: 0.8; stroke-linecap: square"/>
     </g>
     <g id="line2d_56">
      <g>
       <use href="#m5d545ce8f8" x="55.8000" y="773.6400" style="stroke: #000000; stroke-width: 0.8"/>
      </g>
     </g>
     <g id="text_15">
      <text style="font-size: 10px; font-family: 'DejaVu Sans', 'Liberation Sans', sans-serif; text-anchor: end" x="48.548" y="776.976362" transform="translate(0.0000 -0.0720) rotate(-0 48.548 776.976362)">200</text>
     </g>
    </g>
    <g id="ytick_10">
     <g id="line2d_57">
      <path d="M 55.548 722.5200
L 565.20288 722.5200
" clip-path="url(#p82a1acf33c)" style="fill: none; stroke: #b0b0b0; stroke-width: 0.8; stroke-linecap: square"/>
     </g>
     <g id="line2d_58">
      <g>
       <use href="#m5d545ce8f8" x="55.8000" y="722.5200" style="stroke: #000000; stroke-width: 0.8"/>
      </g>
     </g>
     <g id="text_16">
      <text style="font-size: 10px; font-family: 'DejaVu Sans', 'Liberation Sans', sans-serif; text-anchor: end" x="48.548" y="725.753504" transform="translate(0.0000 0.0000) rotate(-0 48.548 725.753504)">400</text>
     </g>
    </g>
    <g id="ytick_11">
     <g id="line2d_59">
      <path d="M 55.548 671.4000
L 565.20288 671.4000
" clip-path="url(#p82a1acf33c)" style="fill: none; stroke: #b0b0b0; stroke-width: 0.8; stroke-linecap: square"/>
     </g>
     <g id="line2d_60">
      <g>
       <use href="#m5d545ce8f8" x="55.8000" y="671.4000" style="stroke: #000000; stroke-width: 0.8"/>
      </g>
     </g>
     <g id="text_17">
      <text style="font-size: 10px; font-family: 'DejaVu Sans', 'Liberation Sans', sans-serif; text-anchor: end" x="48.548" y="674.530647" transform="translate(0.0000 -0.0720) rotate(-0 48.548 674.530647)">600</text>
     </g>
    </g>
    <g id="ytick_12">
     <g id="line2d_61">
      <path d="M 55.548 619.5600
L 565.20288 619.5600
" clip-path="url(#p82a1acf33c)" style="fill: none; stroke: #b0b0b0; stroke-width: 0.8; stroke-linecap: square"/>
     </g>
     <g id="line2d_62">
      <g>
       <use href="#m5d545ce8f8" x="55.8000" y="619.5600" style="stroke: #000000; stroke-width: 0.8"/>
      </g>
     </g>
     <g id="text_18">
      <text style="font-size: 10px; font-family: 'DejaVu Sans', 'Liberation Sans', sans-serif; text-anchor: end" x="48.548" y="623.30779" transform="translate(0.0000 0.0000) rotate(-0 48.548 623.30779)">800</text>
     </g>
    </g>
    <g id="ytick_13">
     <g id="line2d_63">
      <path d="M 55.548 568.4400
L 565.20288 568.4400
" clip-path="url(#p82a1acf33c)" style="fill: none; stroke: #b0b0b0; stroke-width: 0.8; stroke-linecap: square"/>
     </g>
     <g id="line2d_64">
      <g>
       <use href="#m5d545ce8f8" x="55.8000" y="568.4400" style="stroke: #000000; stroke-width: 0.8"/>
      </g>
     </g>
     <g id="text_19">
      <text style="font-size: 10px; font-family: 'DejaVu Sans', 'Liberation Sans', sans-serif; text-anchor: end" x="48.548" y="572.084933" transform="translate(0.0000 -0.0720) rotate(-0 48.548 572.084933)">1000</text>
     </g>
    </g>
    <g id="ytick_14">
     <g id="line2d_65">
      <path d="M 55.548 517.3200
L 565.20288 517.3200
" clip-path="url(#p82a1acf33c)" style="fill: none; stroke: #b0b0b0; stroke-width: 0.8; stroke-linecap: square"/>
     </g>
     <g id="line2d_66">
      <g>
       <use href="#m5d545ce8f8" x="55.8000" y="517.3200" style="stroke: #000000; stroke-width: 0.8"/>
      </g>
     </g>
     <g id="text_20">
      <text style="font-size: 10px; font-family: 'DejaVu Sans', 'Liberation Sans', sans-serif; text-anchor: end" x="48.548" y="520.862076" transform="translate(0.0000 0.7200) rotate(-0 48.548 520.862076)">1200</text>
     </g>
    </g>
    <g id="ytick_15">
     <g id="line2d_67">
      <path d="M 55.548 466.2000
L 565.20288 466.2000
" clip-path="url(#p82a1acf33c)" style="fill: none; stroke: #b0b0b0; stroke-width: 0.8; stroke-linecap: square"/>
     </g>
     <g id="line2d_68">
      <g>
       <use href="#m5d545ce8f8" x="55.8000" y="466.2000" style="stroke: #000000; stroke-width: 0.8"/>
      </g>
     </g>
     <g id="text_21">
      <text style="font-size: 10px; font-family: 'DejaVu Sans', 'Liberation Sans', sans-serif; text-anchor: end" x="48.548" y="469.639219" transform="translate(0.0000 -0.0720) rotate(-0 48.548 469.639219)">1400</text>
     </g>
    </g>
   </g>
   <g id="line2d_69">
    <path d="M 55.548 824.4 
L 69.76584 824.381881 
L 71.9532 824.205313 
L 73.04688 824.324462 
L 74.14056 824.281808 
L 75.23424 824.35053 
L 78.51528 824.13846 
L 79.60896 823.921065 
L 81.79632 822.564151 
L 85.07736 820.828933 
L 87.26472 819.50286 
L 88.3584 818.999903 
L 89.45208 818.322649 
L 92.73312 817.028826 
L 93.8268 816.833131 
L 96.01416 816.030628 
L 99.2952 815.53837 
L 102.57624 815.209239 
L 103.66992 814.98064 
L 104.7636 815.141186 
L 105.85728 814.822424 
L 108.04464 814.704113 
L 109.13832 814.391511 
L 110.232 814.518346 
L 111.32568 814.760747 
L 113.51304 814.514118 
L 114.60672 814.558996 
L 115.7004 814.467165 
L 116.79408 814.503409 
L 118.98144 814.30266 
L 120.07512 814.522633 
L 123.35616 814.454911 
L 124.44984 814.581103 
L 126.6372 814.386879 
L 127.73088 814.199894 
L 128.82456 814.187981 
L 129.91824 814.491864 
L 132.1056 814.313161 
L 133.19928 814.58887 
L 136.48032 814.129483 
L 140.85504 814.320372 
L 141.94872 814.130268 
L 143.0424 814.342939 
L 149.60448 814.367537 
L 150.69816 814.347006 
L 151.79184 814.153282 
L 156.16656 814.316034 
L 157.26024 814.185342 
L 158.35392 814.272496 
L 159.4476 814.242862 
L 160.54128 814.399965 
L 161.63496 814.252755 
L 162.72864 814.461977 
L 163.82232 814.484316 
L 164.916 814.234076 
L 166.00968 814.197599 
L 168.19704 813.694726 
L 169.29072 814.026064 
L 170.3844 814.029029 
L 172.57176 813.77566 
L 174.75912 813.788221 
L 175.8528 813.626156 
L 176.94648 813.63619 
L 178.04016 813.803027 
L 181.3212 813.311771 
L 182.41488 812.818809 
L 183.50856 812.527579 
L 184.60224 811.926185 
L 188.97696 810.734517 
L 190.07064 810.681168 
L 191.16432 809.934463 
L 192.258 808.614711 
L 193.35168 807.881117 
L 194.44536 806.341543 
L 195.53904 805.404121 
L 196.63272 803.663856 
L 197.7264 802.563424 
L 198.82008 800.896704 
L 199.91376 799.794059 
L 201.00744 798.908932 
L 202.10112 796.725148 
L 203.1948 795.248145 
L 204.28848 794.824147 
L 205.38216 794.12797 
L 207.56952 792.537451 
L 208.6632 791.116623 
L 209.75688 790.626845 
L 210.85056 789.758628 
L 211.94424 789.095684 
L 213.03792 788.649864 
L 214.1316 788.456758 
L 215.22528 787.499695 
L 216.31896 787.502512 
L 217.41264 787.067337 
L 219.6 787.228676 
L 223.97472 786.1603 
L 225.0684 785.991849 
L 226.16208 786.144753 
L 227.25576 786.567669 
L 228.34944 786.561151 
L 229.44312 787.953534 
L 230.5368 788.797128 
L 231.63048 788.254291 
L 232.72416 787.987937 
L 233.81784 788.822354 
L 234.91152 788.631274 
L 236.0052 789.125135 
L 237.09888 790.05031 
L 238.19256 789.995973 
L 241.4736 792.362433 
L 242.56728 792.620838 
L 243.66096 793.397166 
L 244.75464 793.952292 
L 245.84832 794.817895 
L 246.942 795.282859 
L 248.03568 795.076939 
L 249.12936 795.947633 
L 250.22304 796.267203 
L 253.50408 797.806557 
L 254.59776 797.918034 
L 255.69144 798.58689 
L 256.78512 799.027504 
L 257.8788 799.21283 
L 258.97248 799.063454 
L 261.15984 799.815852 
L 262.25352 800.42806 
L 263.3472 800.815498 
L 264.44088 800.328572 
L 265.53456 800.459967 
L 266.62824 800.987436 
L 268.8156 801.14645 
L 271.00296 801.613009 
L 272.09664 802.119123 
L 273.19032 802.011808 
L 274.284 802.796552 
L 275.37768 802.588863 
L 277.56504 802.56875 
L 278.65872 802.365814 
L 279.7524 802.671698 
L 280.84608 803.57935 
L 281.93976 803.829524 
L 283.03344 803.342585 
L 284.12712 803.738709 
L 285.2208 803.731106 
L 286.31448 803.844261 
L 287.40816 804.769446 
L 288.50184 805.158385 
L 289.59552 804.816082 
L 290.6892 805.016901 
L 295.06392 806.253187 
L 296.1576 806.077264 
L 298.34496 806.511894 
L 299.43864 806.128134 
L 301.626 806.293337 
L 302.71968 806.687965 
L 306.00072 807.015166 
L 307.0944 806.908314 
L 308.18808 807.136984 
L 311.46912 806.88682 
L 312.5628 807.594551 
L 313.65648 807.394223 
L 315.84384 807.82261 
L 316.93752 808.204355 
L 319.12488 807.932692 
L 320.21856 808.161003 
L 322.40592 808.205739 
L 323.4996 807.959352 
L 324.59328 808.254335 
L 325.68696 808.720673 
L 326.78064 808.550787 
L 328.968 809.037858 
L 330.06168 808.408217 
L 331.15536 807.927848 
L 333.34272 808.501792 
L 334.4364 808.410118 
L 335.53008 807.986977 
L 337.71744 808.184442 
L 338.81112 808.100892 
L 339.9048 807.763539 
L 340.99848 807.309581 
L 342.09216 807.059258 
L 344.27952 806.886122 
L 345.3732 806.352277 
L 346.46688 806.187658 
L 347.56056 805.646991 
L 348.65424 805.808604 
L 349.74792 805.357184 
L 350.8416 805.050308 
L 351.93528 804.938622 
L 353.02896 803.918085 
L 354.12264 803.632747 
L 355.21632 803.823618 
L 356.31 803.32876 
L 357.40368 803.042903 
L 358.49736 803.25421 
L 359.59104 802.087104 
L 360.68472 801.460156 
L 361.7784 800.989856 
L 362.87208 800.779247 
L 366.15312 798.626442 
L 367.2468 798.625363 
L 368.34048 798.473227 
L 369.43416 797.896144 
L 370.52784 798.284174 
L 372.7152 798.288728 
L 373.80888 797.029087 
L 377.08992 796.010404 
L 378.1836 795.78084 
L 381.46464 794.660921 
L 382.55832 794.018612 
L 383.652 793.119711 
L 386.93304 792.643619 
L 388.02672 792.095977 
L 389.1204 790.956106 
L 392.40144 790.400151 
L 393.49512 790.07494 
L 395.68248 788.285264 
L 396.77616 788.101538 
L 400.0572 786.469877 
L 401.15088 786.396085 
L 402.24456 785.545792 
L 404.43192 784.473888 
L 405.5256 784.702968 
L 406.61928 784.159508 
L 407.71296 783.740822 
L 408.80664 784.217908 
L 409.90032 784.276992 
L 410.994 783.912095 
L 412.08768 783.873841 
L 413.18136 784.006816 
L 415.36872 782.721514 
L 416.4624 783.280426 
L 418.64976 783.443226 
L 419.74344 783.129382 
L 420.83712 783.786918 
L 421.9308 783.894214 
L 423.02448 783.425566 
L 424.11816 784.084582 
L 425.21184 783.734076 
L 426.30552 783.741955 
L 427.3992 784.351272 
L 429.58656 784.653831 
L 430.68024 785.861162 
L 431.77392 786.745871 
L 432.8676 787.463546 
L 435.05496 787.39684 
L 436.14864 788.140201 
L 437.24232 789.368804 
L 438.336 789.878771 
L 440.52336 790.23063 
L 441.61704 790.720455 
L 443.8044 791.400462 
L 444.89808 791.991012 
L 448.17912 793.099613 
L 450.36648 793.240376 
L 453.64752 796.185074 
L 454.7412 796.308368 
L 455.83488 797.481422 
L 456.92856 797.843945 
L 458.02224 797.562735 
L 459.11592 798.055525 
L 461.30328 800.072355 
L 462.39696 800.292825 
L 463.49064 800.747914 
L 464.58432 800.8072 
L 465.678 801.060379 
L 467.86536 803.489965 
L 468.95904 804.279033 
L 470.05272 804.690442 
L 471.1464 805.406825 
L 472.24008 806.281942 
L 473.33376 806.776337 
L 474.42744 807.517677 
L 475.52112 807.146757 
L 476.6148 807.136508 
L 477.70848 807.302549 
L 478.80216 807.700777 
L 479.89584 807.673426 
L 484.27056 808.495014 
L 485.36424 808.554353 
L 486.45792 808.203633 
L 487.5516 808.385765 
L 489.73896 808.410401 
L 490.83264 808.897323 
L 491.92632 808.749488 
L 493.02 808.461974 
L 494.11368 808.380867 
L 495.20736 808.447646 
L 496.30104 808.189836 
L 497.39472 808.344443 
L 498.4884 808.656522 
L 499.58208 808.555276 
L 500.67576 808.151796 
L 501.76944 808.231323 
L 502.86312 808.589952 
L 503.9568 807.99581 
L 506.14416 807.874127 
L 507.23784 808.192168 
L 509.4252 808.250646 
L 510.51888 807.578638 
L 511.61256 807.898746 
L 512.70624 807.716381 
L 513.79992 808.067756 
L 514.8936 808.068695 
L 515.98728 808.494101 
L 518.17464 808.20854 
L 519.26832 808.641739 
L 520.362 808.393695 
L 521.45568 808.627159 
L 522.54936 809.048197 
L 525.8304 809.226541 
L 528.01776 809.613735 
L 529.11144 809.667826 
L 531.2988 810.064673 
L 532.39248 809.905411 
L 533.48616 809.889179 
L 534.57984 810.435323 
L 535.67352 810.4447 
L 537.86088 810.891642 
L 538.95456 810.799594 
L 540.04824 811.081167 
L 541.14192 811.040294 
L 542.2356 811.462153 
L 543.32928 811.43397 
L 545.51664 811.719917 
L 546.61032 811.602058 
L 547.704 811.721781 
L 548.79768 811.71157 
L 550.98504 812.135485 
L 554.26608 812.021872 
L 555.35976 812.341938 
L 556.45344 812.396488 
L 557.54712 812.631163 
L 558.6408 812.434429 
L 560.82816 812.919367 
L 561.92184 812.69502 
L 563.01552 812.612274 
L 564.1092 813.048042 
L 565.20288 813.10258 
L 565.20288 813.10258 
" clip-path="url(#p82a1acf33c)" style="fill: none; stroke: #1f77b4; stroke-width: 1.5; stroke-linecap: square"/>
   </g>
   <g id="line2d_70">
    <g clip-path="url(#p82a1acf33c)">
     <use href="#mcd47077251" x="80.064" y="819.72" style="fill: #ff7f0e; stroke: #ff7f0e"/>
     <use href="#mcd47077251" x="82.512" y="819.144" style="fill: #ff7f0e; stroke: #ff7f0e"/>
     <use href="#mcd47077251" x="84.168" y="818.64" style="fill: #ff7f0e; stroke: #ff7f0e"/>
     <use href="#mcd47077251" x="87.408" y="804.96" style="fill: #ff7f0e; stroke: #ff7f0e"/>
     <use href="#mcd47077251" x="93.024" y="812.304" style="fill: #ff7f0e; stroke: #ff7f0e"/>
     <use href="#mcd47077251" x="97.128" y="811.872" style="fill: #ff7f0e; stroke: #ff7f0e"/>
     <use href="#mcd47077251" x="101.16" y="805.824" style="fill: #ff7f0e; stroke: #ff7f0e"/>
     <use href="#mcd47077251" x="98.712" y="819.144" style="fill: #ff7f0e; stroke: #ff7f0e"/>
     <use href="#mcd47077251" x="105.984" y="819.144" style="fill: #ff7f0e; stroke: #ff7f0e"/>
     <use href="#mcd47077251" x="110.088" y="800.568" style="fill: #ff7f0e; stroke: #ff7f0e"/>
     <use href="#mcd47077251" x="111.672" y="809.424" style="fill: #ff7f0e; stroke: #ff7f0e"/>
     <use href="#mcd47077251" x="115.704" y="803.376" style="fill: #ff7f0e; stroke: #ff7f0e"/>
     <use href="#mcd47077251" x="112.896" y="820.008" style="fill: #ff7f0e; stroke: #ff7f0e"/>
     <use href="#mcd47077251" x="117.36" y="812.664" style="fill: #ff7f0e; stroke: #ff7f0e"/>
     <use href="#mcd47077251" x="122.184" y="819.576" style="fill: #ff7f0e; stroke: #ff7f0e"/>
     <use href="#mcd47077251" x="123.048" y="805.824" style="fill: #ff7f0e; stroke: #ff7f0e"/>
     <use href="#mcd47077251" x="127.08" y="807.048" style="fill: #ff7f0e; stroke: #ff7f0e"/>
     <use href="#mcd47077251" x="128.664" y="820.8" style="fill: #ff7f0e; stroke: #ff7f0e"/>
     <use href="#mcd47077251" x="133.56" y="812.664" style="fill: #ff7f0e; stroke: #ff7f0e"/>
     <use href="#mcd47077251" x="86.04" y="818.64" style="fill: #ff7f0e; stroke: #ff7f0e"/>
     <use href="#mcd47077251" x="90.54" y="817.2" style="fill: #ff7f0e; stroke: #ff7f0e"/>
     <use href="#mcd47077251" x="93.24" y="812.7" style="fill: #ff7f0e; stroke: #ff7f0e"/>
     <use href="#mcd47077251" x="95.94" y="818.1" style="fill: #ff7f0e; stroke: #ff7f0e"/>
     <use href="#mcd47077251" x="98.64" y="813.6" style="fill: #ff7f0e; stroke: #ff7f0e"/>
     <use href="#mcd47077251" x="100.44" y="806.4" style="fill: #ff7f0e; stroke: #ff7f0e"/>
     <use href="#mcd47077251" x="103.14" y="806.4" style="fill: #ff7f0e; stroke: #ff7f0e"/>
     <use href="#mcd47077251" x="104.04" y="817.2" style="fill: #ff7f0e; stroke: #ff7f0e"/>
     <use href="#mcd47077251" x="107.64" y="813.6" style="fill: #ff7f0e; stroke: #ff7f0e"/>
     <use href="#mcd47077251" x="110.34" y="801" style="fill: #ff7f0e; stroke: #ff7f0e"/>
     <use href="#mcd47077251" x="111.24" y="810" style="fill: #ff7f0e; stroke: #ff7f0e"/>
     <use href="#mcd47077251" x="113.04" y="819" style="fill: #ff7f0e; stroke: #ff7f0e"/>
     <use href="#mcd47077251" x="115.74" y="803.7" style="fill: #ff7f0e; stroke: #ff7f0e"/>
     <use href="#mcd47077251" x="117.54" y="812.7" style="fill: #ff7f0e; stroke: #ff7f0e"/>
     <use href="#mcd47077251" x="120.24" y="811.8" style="fill: #ff7f0e; stroke: #ff7f0e"/>
     <use href="#mcd47077251" x="122.04" y="819.9" style="fill: #ff7f0e; stroke: #ff7f0e"/>
     <use href="#mcd47077251" x="123.84" y="805.5" style="fill: #ff7f0e; stroke: #ff7f0e"/>
     <use href="#mcd47077251" x="126.54" y="808.2" style="fill: #ff7f0e; stroke: #ff7f0e"/>
     <use href="#mcd47077251" x="127.44" y="813.6" style="fill: #ff7f0e; stroke: #ff7f0e"/>
     <use href="#mcd47077251" x="130.14" y="820.8" style="fill: #ff7f0e; stroke: #ff7f0e"/>
     <use href="#mcd47077251" x="131.94" y="813.6" style="fill: #ff7f0e; stroke: #ff7f0e"/>
     <use href="#mcd47077251" x="134.64" y="812.7" style="fill: #ff7f0e; stroke: #ff7f0e"/>
     <use href="#mcd47077251" x="137.34" y="820.8" style="fill: #ff7f0e; stroke: #ff7f0e"/>
     <use href="#mcd47077251" x="139.14" y="810.9" style="fill: #ff7f0e; stroke: #ff7f0e"/>
     <use href="#mcd47077251" x="141.84" y="813.6" style="fill: #ff7f0e; stroke: #ff7f0e"/>
     <use href="#mcd47077251" x="145.44" y="820.8" style="fill: #ff7f0e; stroke: #ff7f0e"/>
     <use href="#mcd47077251" x="147.24" y="809.1" style="fill: #ff7f0e; stroke: #ff7f0e"/>
     <use href="#mcd47077251" x="149.94" y="814.5" style="fill: #ff7f0e; stroke: #ff7f0e"/>
     <use href="#mcd47077251" x="152.64" y="820.8" style="fill: #ff7f0e; stroke: #ff7f0e"/>
     <use href="#mcd47077251" x="154.08" y="806.4" style="fill: #ff7f0e; stroke: #ff7f0e"/>
     <use href="#mcd47077251" x="156.24" y="811.8" style="fill: #ff7f0e; stroke: #ff7f0e"/>
     <use href="#mcd47077251" x="158.94" y="817.2" style="fill: #ff7f0e; stroke: #ff7f0e"/>
     <use href="#mcd47077251" x="161.64" y="810.9" style="fill: #ff7f0e; stroke: #ff7f0e"/>
     <use href="#mcd47077251" x="163.44" y="820.8" style="fill: #ff7f0e; stroke: #ff7f0e"/>
     <use href="#mcd47077251" x="166.14" y="815.4" style="fill: #ff7f0e; stroke: #ff7f0e"/>
     <use href="#mcd47077251" x="168.84" y="810.9" style="fill: #ff7f0e; stroke: #ff7f0e"/>
     <use href="#mcd47077251" x="171.54" y="817.2" style="fill: #ff7f0e; stroke: #ff7f0e"/>
     <use href="#mcd47077251" x="174.24" y="820.8" style="fill: #ff7f0e; stroke: #ff7f0e"/>
     <use href="#mcd47077251" x="177.48" y="807.84" style="fill: #ff7f0e; stroke: #ff7f0e"/>
     <use href="#mcd47077251" x="179.64" y="813.6" style="fill: #ff7f0e; stroke: #ff7f0e"/>
     <use href="#mcd47077251" x="181.44" y="818.1" style="fill: #ff7f0e; stroke: #ff7f0e"/>
     <use href="#mcd47077251" x="185.04" y="809.1" style="fill: #ff7f0e; stroke: #ff7f0e"/>
     <use href="#mcd47077251" x="187.74" y="808.2" style="fill: #ff7f0e; stroke: #ff7f0e"/>
     <use href="#mcd47077251" x="189.54" y="819.9" style="fill: #ff7f0e; stroke: #ff7f0e"/>
     <use href="#mcd47077251" x="191.34" y="812.7" style="fill: #ff7f0e; stroke: #ff7f0e"/>
     <use href="#mcd47077251" x="194.04" y="793.8" style="fill: #ff7f0e; stroke: #ff7f0e"/>
     <use href="#mcd47077251" x="196.2" y="793.8" style="fill: #ff7f0e; stroke: #ff7f0e"/>
     <use href="#mcd47077251" x="197.1" y="801" style="fill: #ff7f0e; stroke: #ff7f0e"/>
     <use href="#mcd47077251" x="198.9" y="812.7" style="fill: #ff7f0e; stroke: #ff7f0e"/>
     <use href="#mcd47077251" x="199.8" y="816.3" style="fill: #ff7f0e; stroke: #ff7f0e"/>
     <use href="#mcd47077251" x="201.6" y="784.8" style="fill: #ff7f0e; stroke: #ff7f0e"/>
     <use href="#mcd47077251" x="203.4" y="790.2" style="fill: #ff7f0e; stroke: #ff7f0e"/>
     <use href="#mcd47077251" x="205.2" y="801" style="fill: #ff7f0e; stroke: #ff7f0e"/>
     <use href="#mcd47077251" x="207.9" y="801" style="fill: #ff7f0e; stroke: #ff7f0e"/>
     <use href="#mcd47077251" x="209.7" y="781.2" style="fill: #ff7f0e; stroke: #ff7f0e"/>
     <use href="#mcd47077251" x="210.6" y="790.2" style="fill: #ff7f0e; stroke: #ff7f0e"/>
     <use href="#mcd47077251" x="212.4" y="792" style="fill: #ff7f0e; stroke: #ff7f0e"/>
     <use href="#mcd47077251" x="213.3" y="804.6" style="fill: #ff7f0e; stroke: #ff7f0e"/>
     <use href="#mcd47077251" x="215.1" y="805.5" style="fill: #ff7f0e; stroke: #ff7f0e"/>
     <use href="#mcd47077251" x="216" y="776.7" style="fill: #ff7f0e; stroke: #ff7f0e"/>
     <use href="#mcd47077251" x="216.9" y="769.5" style="fill: #ff7f0e; stroke: #ff7f0e"/>
     <use href="#mcd47077251" x="218.7" y="759.6" style="fill: #ff7f0e; stroke: #ff7f0e"/>
     <use href="#mcd47077251" x="220.5" y="778.5" style="fill: #ff7f0e; stroke: #ff7f0e"/>
     <use href="#mcd47077251" x="221.4" y="805.5" style="fill: #ff7f0e; stroke: #ff7f0e"/>
     <use href="#mcd47077251" x="221.4" y="809.1" style="fill: #ff7f0e; stroke: #ff7f0e"/>
     <use href="#mcd47077251" x="223.2" y="761.4" style="fill: #ff7f0e; stroke: #ff7f0e"/>
     <use href="#mcd47077251" x="224.1" y="766.8" style="fill: #ff7f0e; stroke: #ff7f0e"/>
     <use href="#mcd47077251" x="225.9" y="793.8" style="fill: #ff7f0e; stroke: #ff7f0e"/>
     <use href="#mcd47077251" x="226.8" y="778.5" style="fill: #ff7f0e; stroke: #ff7f0e"/>
     <use href="#mcd47077251" x="227.7" y="777.6" style="fill: #ff7f0e; stroke: #ff7f0e"/>
     <use href="#mcd47077251" x="228.6" y="805.5" style="fill: #ff7f0e; stroke: #ff7f0e"/>
     <use href="#mcd47077251" x="229.5" y="801.9" style="fill: #ff7f0e; stroke: #ff7f0e"/>
     <use href="#mcd47077251" x="230.4" y="753.84" style="fill: #ff7f0e; stroke: #ff7f0e"/>
     <use href="#mcd47077251" x="232.2" y="770.4" style="fill: #ff7f0e; stroke: #ff7f0e"/>
     <use href="#mcd47077251" x="233.1" y="786.6" style="fill: #ff7f0e; stroke: #ff7f0e"/>
     <use href="#mcd47077251" x="234" y="766.8" style="fill: #ff7f0e; stroke: #ff7f0e"/>
     <use href="#mcd47077251" x="234.9" y="771.3" style="fill: #ff7f0e; stroke: #ff7f0e"/>
     <use href="#mcd47077251" x="236.7" y="802.8" style="fill: #ff7f0e; stroke: #ff7f0e"/>
     <use href="#mcd47077251" x="237.6" y="797.4" style="fill: #ff7f0e; stroke: #ff7f0e"/>
     <use href="#mcd47077251" x="238.5" y="768.6" style="fill: #ff7f0e; stroke: #ff7f0e"/>
     <use href="#mcd47077251" x="239.4" y="780.3" style="fill: #ff7f0e; stroke: #ff7f0e"/>
     <use href="#mcd47077251" x="241.2" y="795.6" style="fill: #ff7f0e; stroke: #ff7f0e"/>
     <use href="#mcd47077251" x="243" y="796.5" style="fill: #ff7f0e; stroke: #ff7f0e"/>
     <use href="#mcd47077251" x="244.8" y="806.4" style="fill: #ff7f0e; stroke: #ff7f0e"/>
     <use href="#mcd47077251" x="244.8" y="810.9" style="fill: #ff7f0e; stroke: #ff7f0e"/>
     <use href="#mcd47077251" x="246.6" y="777.6" style="fill: #ff7f0e; stroke: #ff7f0e"/>
     <use href="#mcd47077251" x="246.6" y="784.8" style="fill: #ff7f0e; stroke: #ff7f0e"/>
     <use href="#mcd47077251" x="248.4" y="788.4" style="fill: #ff7f0e; stroke: #ff7f0e"/>
     <use href="#mcd47077251" x="249.3" y="801" style="fill: #ff7f0e; stroke: #ff7f0e"/>
     <use href="#mcd47077251" x="251.1" y="786.6" style="fill: #ff7f0e; stroke: #ff7f0e"/>
     <use href="#mcd47077251" x="252.9" y="807.3" style="fill: #ff7f0e; stroke: #ff7f0e"/>
     <use href="#mcd47077251" x="253.8" y="776.7" style="fill: #ff7f0e; stroke: #ff7f0e"/>
     <use href="#mcd47077251" x="255.6" y="786.6" style="fill: #ff7f0e; stroke: #ff7f0e"/>
     <use href="#mcd47077251" x="255.6" y="792" style="fill: #ff7f0e; stroke: #ff7f0e"/>
     <use href="#mcd47077251" x="256.5" y="808.2" style="fill: #ff7f0e; stroke: #ff7f0e"/>
     <use href="#mcd47077251" x="257.4" y="798.3" style="fill: #ff7f0e; stroke: #ff7f0e"/>
     <use href="#mcd47077251" x="260.1" y="812.7" style="fill: #ff7f0e; stroke: #ff7f0e"/>
     <use href="#mcd47077251" x="261" y="815.4" style="fill: #ff7f0e; stroke: #ff7f0e"/>
     <use href="#mcd47077251" x="261.9" y="774.9" style="fill: #ff7f0e; stroke: #ff7f0e"/>
     <use href="#mcd47077251" x="263.7" y="769.5" style="fill: #ff7f0e; stroke: #ff7f0e"/>
     <use href="#mcd47077251" x="264.6" y="779.4" style="fill: #ff7f0e; stroke: #ff7f0e"/>
     <use href="#mcd47077251" x="265.5" y="799.2" style="fill: #ff7f0e; stroke: #ff7f0e"/>
     <use href="#mcd47077251" x="266.4" y="821.7" style="fill: #ff7f0e; stroke: #ff7f0e"/>
     <use href="#mcd47077251" x="268.2" y="816.3" style="fill: #ff7f0e; stroke: #ff7f0e"/>
     <use href="#mcd47077251" x="269.1" y="786.6" style="fill: #ff7f0e; stroke: #ff7f0e"/>
     <use href="#mcd47077251" x="270.9" y="786.6" style="fill: #ff7f0e; stroke: #ff7f0e"/>
     <use href="#mcd47077251" x="272.7" y="789.3" style="fill: #ff7f0e; stroke: #ff7f0e"/>
     <use href="#mcd47077251" x="273.6" y="808.2" style="fill: #ff7f0e; stroke: #ff7f0e"/>
     <use href="#mcd47077251" x="275.4" y="820.8" style="fill: #ff7f0e; stroke: #ff7f0e"/>
     <use href="#mcd47077251" x="276.3" y="800.1" style="fill: #ff7f0e; stroke: #ff7f0e"/>
     <use href="#mcd47077251" x="277.2" y="819" style="fill: #ff7f0e; stroke: #ff7f0e"/>
     <use href="#mcd47077251" x="278.1" y="772.2" style="fill: #ff7f0e; stroke: #ff7f0e"/>
     <use href="#mcd47077251" x="279" y="779.4" style="fill: #ff7f0e; stroke: #ff7f0e"/>
     <use href="#mcd47077251" x="280.8" y="793.8" style="fill: #ff7f0e; stroke: #ff7f0e"/>
     <use href="#mcd47077251" x="282.6" y="821.7" style="fill: #ff7f0e; stroke: #ff7f0e"/>
     <use href="#mcd47077251" x="284.4" y="793.8" style="fill: #ff7f0e; stroke: #ff7f0e"/>
     <use href="#mcd47077251" x="285.3" y="780.3" style="fill: #ff7f0e; stroke: #ff7f0e"/>
     <use href="#mcd47077251" x="286.2" y="794.7" style="fill: #ff7f0e; stroke: #ff7f0e"/>
     <use href="#mcd47077251" x="288" y="792" style="fill: #ff7f0e; stroke: #ff7f0e"/>
     <use href="#mcd47077251" x="288.9" y="805.5" style="fill: #ff7f0e; stroke: #ff7f0e"/>
     <use href="#mcd47077251" x="290.7" y="812.7" style="fill: #ff7f0e; stroke: #ff7f0e"/>
     <use href="#mcd47077251" x="292.5" y="810" style="fill: #ff7f0e; stroke: #ff7f0e"/>
     <use href="#mcd47077251" x="293.4" y="789.3" style="fill: #ff7f0e; stroke: #ff7f0e"/>
     <use href="#mcd47077251" x="294.3" y="783" style="fill: #ff7f0e; stroke: #ff7f0e"/>
     <use href="#mcd47077251" x="295.2" y="793.8" style="fill: #ff7f0e; stroke: #ff7f0e"/>
     <use href="#mcd47077251" x="296.64" y="824.04" style="fill: #ff7f0e; stroke: #ff7f0e"/>
     <use href="#mcd47077251" x="297" y="779.4" style="fill: #ff7f0e; stroke: #ff7f0e"/>
     <use href="#mcd47077251" x="299.7" y="793.8" style="fill: #ff7f0e; stroke: #ff7f0e"/>
     <use href="#mcd47077251" x="301.5" y="788.4" style="fill: #ff7f0e; stroke: #ff7f0e"/>
     <use href="#mcd47077251" x="302.4" y="801" style="fill: #ff7f0e; stroke: #ff7f0e"/>
     <use href="#mcd47077251" x="304.2" y="804.6" style="fill: #ff7f0e; stroke: #ff7f0e"/>
     <use href="#mcd47077251" x="306" y="810" style="fill: #ff7f0e; stroke: #ff7f0e"/>
     <use href="#mcd47077251" x="307.8" y="797.4" style="fill: #ff7f0e; stroke: #ff7f0e"/>
     <use href="#mcd47077251" x="309.6" y="806.4" style="fill: #ff7f0e; stroke: #ff7f0e"/>
     <use href="#mcd47077251" x="311.4" y="808.2" style="fill: #ff7f0e; stroke: #ff7f0e"/>
     <use href="#mcd47077251" x="313.2" y="821.7" style="fill: #ff7f0e; stroke: #ff7f0e"/>
     <use href="#mcd47077251" x="314.1" y="819" style="fill: #ff7f0e; stroke: #ff7f0e"/>
     <use href="#mcd47077251" x="315" y="806.4" style="fill: #ff7f0e; stroke: #ff7f0e"/>
     <use href="#mcd47077251" x="317.7" y="804.6" style="fill: #ff7f0e; stroke: #ff7f0e"/>
     <use href="#mcd47077251" x="318.6" y="810.9" style="fill: #ff7f0e; stroke: #ff7f0e"/>
     <use href="#mcd47077251" x="320.4" y="813.6" style="fill: #ff7f0e; stroke: #ff7f0e"/>
     <use href="#mcd47077251" x="322.2" y="818.1" style="fill: #ff7f0e; stroke: #ff7f0e"/>
     <use href="#mcd47077251" x="324" y="810" style="fill: #ff7f0e; stroke: #ff7f0e"/>
     <use href="#mcd47077251" x="326.7" y="801.9" style="fill: #ff7f0e; stroke: #ff7f0e"/>
     <use href="#mcd47077251" x="327.6" y="819" style="fill: #ff7f0e; stroke: #ff7f0e"/>
     <use href="#mcd47077251" x="329.4" y="810" style="fill: #ff7f0e; stroke: #ff7f0e"/>
     <use href="#mcd47077251" x="331.2" y="808.2" style="fill: #ff7f0e; stroke: #ff7f0e"/>
     <use href="#mcd47077251" x="333.9" y="805.5" style="fill: #ff7f0e; stroke: #ff7f0e"/>
     <use href="#mcd47077251" x="334.8" y="816.3" style="fill: #ff7f0e; stroke: #ff7f0e"/>
     <use href="#mcd47077251" x="336.6" y="802.8" style="fill: #ff7f0e; stroke: #ff7f0e"/>
     <use href="#mcd47077251" x="338.4" y="802.8" style="fill: #ff7f0e; stroke: #ff7f0e"/>
     <use href="#mcd47077251" x="341.1" y="813.6" style="fill: #ff7f0e; stroke: #ff7f0e"/>
     <use href="#mcd47077251" x="343.8" y="801" style="fill: #ff7f0e; stroke: #ff7f0e"/>
     <use href="#mcd47077251" x="345.6" y="809.1" style="fill: #ff7f0e; stroke: #ff7f0e"/>
     <use href="#mcd47077251" x="348.3" y="795.6" style="fill: #ff7f0e; stroke: #ff7f0e"/>
     <use href="#mcd47077251" x="351" y="809.1" style="fill: #ff7f0e; stroke: #ff7f0e"/>
     <use href="#mcd47077251" x="352.8" y="800.1" style="fill: #ff7f0e; stroke: #ff7f0e"/>
     <use href="#mcd47077251" x="356.4" y="793.8" style="fill: #ff7f0e; stroke: #ff7f0e"/>
     <use href="#mcd47077251" x="359.1" y="800.1" style="fill: #ff7f0e; stroke: #ff7f0e"/>
     <use href="#mcd47077251" x="361.8" y="790.2" style="fill: #ff7f0e; stroke: #ff7f0e"/>
     <use href="#mcd47077251" x="363.6" y="795.6" style="fill: #ff7f0e; stroke: #ff7f0e"/>
     <use href="#mcd47077251" x="365.4" y="806.4" style="fill: #ff7f0e; stroke: #ff7f0e"/>
     <use href="#mcd47077251" x="367.2" y="788.4" style="fill: #ff7f0e; stroke: #ff7f0e"/>
     <use href="#mcd47077251" x="369" y="795.6" style="fill: #ff7f0e; stroke: #ff7f0e"/>
     <use href="#mcd47077251" x="370.8" y="801" style="fill: #ff7f0e; stroke: #ff7f0e"/>
     <use href="#mcd47077251" x="372.6" y="799.2" style="fill: #ff7f0e; stroke: #ff7f0e"/>
     <use href="#mcd47077251" x="374.4" y="803.7" style="fill: #ff7f0e; stroke: #ff7f0e"/>
     <use href="#mcd47077251" x="376.2" y="793.8" style="fill: #ff7f0e; stroke: #ff7f0e"/>
     <use href="#mcd47077251" x="377.1" y="806.4" style="fill: #ff7f0e; stroke: #ff7f0e"/>
     <use href="#mcd47077251" x="379.8" y="788.4" style="fill: #ff7f0e; stroke: #ff7f0e"/>
     <use href="#mcd47077251" x="380.7" y="824.4" style="fill: #ff7f0e; stroke: #ff7f0e"/>
     <use href="#mcd47077251" x="381.6" y="804.6" style="fill: #ff7f0e; stroke: #ff7f0e"/>
     <use href="#mcd47077251" x="382.5" y="799.2" style="fill: #ff7f0e; stroke: #ff7f0e"/>
     <use href="#mcd47077251" x="385.2" y="789.3" style="fill: #ff7f0e; stroke: #ff7f0e"/>
     <use href="#mcd47077251" x="387" y="824.4" style="fill: #ff7f0e; stroke: #ff7f0e"/>
     <use href="#mcd47077251" x="387.9" y="793.8" style="fill: #ff7f0e; stroke: #ff7f0e"/>
     <use href="#mcd47077251" x="388.44" y="768.96" style="fill: #ff7f0e; stroke: #ff7f0e"/>
     <use href="#mcd47077251" x="390.6" y="799.2" style="fill: #ff7f0e; stroke: #ff7f0e"/>
     <use href="#mcd47077251" x="392.4" y="783" style="fill: #ff7f0e; stroke: #ff7f0e"/>
     <use href="#mcd47077251" x="394.2" y="793.8" style="fill: #ff7f0e; stroke: #ff7f0e"/>
     <use href="#mcd47077251" x="395.1" y="776.7" style="fill: #ff7f0e; stroke: #ff7f0e"/>
     <use href="#mcd47077251" x="396.9" y="797.4" style="fill: #ff7f0e; stroke: #ff7f0e"/>
     <use href="#mcd47077251" x="397.8" y="788.4" style="fill: #ff7f0e; stroke: #ff7f0e"/>
     <use href="#mcd47077251" x="399.6" y="783" style="fill: #ff7f0e; stroke: #ff7f0e"/>
     <use href="#mcd47077251" x="401.4" y="768.6" style="fill: #ff7f0e; stroke: #ff7f0e"/>
     <use href="#mcd47077251" x="402.3" y="777.6" style="fill: #ff7f0e; stroke: #ff7f0e"/>
     <use href="#mcd47077251" x="404.1" y="772.2" style="fill: #ff7f0e; stroke: #ff7f0e"/>
     <use href="#mcd47077251" x="405" y="790.2" style="fill: #ff7f0e; stroke: #ff7f0e"/>
     <use href="#mcd47077251" x="406.8" y="783" style="fill: #ff7f0e; stroke: #ff7f0e"/>
     <use href="#mcd47077251" x="408.6" y="786.6" style="fill: #ff7f0e; stroke: #ff7f0e"/>
     <use href="#mcd47077251" x="410.04" y="754.56" style="fill: #ff7f0e; stroke: #ff7f0e"/>
     <use href="#mcd47077251" x="410.4" y="784.8" style="fill: #ff7f0e; stroke: #ff7f0e"/>
     <use href="#mcd47077251" x="412.2" y="791.1" style="fill: #ff7f0e; stroke: #ff7f0e"/>
     <use href="#mcd47077251" x="414" y="765.9" style="fill: #ff7f0e; stroke: #ff7f0e"/>
     <use href="#mcd47077251" x="415.8" y="783" style="fill: #ff7f0e; stroke: #ff7f0e"/>
     <use href="#mcd47077251" x="417.6" y="772.2" style="fill: #ff7f0e; stroke: #ff7f0e"/>
     <use href="#mcd47077251" x="419.4" y="796.5" style="fill: #ff7f0e; stroke: #ff7f0e"/>
     <use href="#mcd47077251" x="420.3" y="766.8" style="fill: #ff7f0e; stroke: #ff7f0e"/>
     <use href="#mcd47077251" x="421.2" y="788.4" style="fill: #ff7f0e; stroke: #ff7f0e"/>
     <use href="#mcd47077251" x="423" y="773.1" style="fill: #ff7f0e; stroke: #ff7f0e"/>
     <use href="#mcd47077251" x="424.8" y="767.7" style="fill: #ff7f0e; stroke: #ff7f0e"/>
     <use href="#mcd47077251" x="426.6" y="788.4" style="fill: #ff7f0e; stroke: #ff7f0e"/>
     <use href="#mcd47077251" x="427.5" y="799.2" style="fill: #ff7f0e; stroke: #ff7f0e"/>
     <use href="#mcd47077251" x="428.4" y="793.8" style="fill: #ff7f0e; stroke: #ff7f0e"/>
     <use href="#mcd47077251" x="430.2" y="764.64" style="fill: #ff7f0e; stroke: #ff7f0e"/>
     <use href="#mcd47077251" x="431.1" y="784.8" style="fill: #ff7f0e; stroke: #ff7f0e"/>
     <use href="#mcd47077251" x="432" y="777.6" style="fill: #ff7f0e; stroke: #ff7f0e"/>
     <use href="#mcd47077251" x="433.8" y="794.7" style="fill: #ff7f0e; stroke: #ff7f0e"/>
     <use href="#mcd47077251" x="434.7" y="799.2" style="fill: #ff7f0e; stroke: #ff7f0e"/>
     <use href="#mcd47077251" x="436.5" y="768.6" style="fill: #ff7f0e; stroke: #ff7f0e"/>
     <use href="#mcd47077251" x="438.3" y="783" style="fill: #ff7f0e; stroke: #ff7f0e"/>
     <use href="#mcd47077251" x="441" y="769.5" style="fill: #ff7f0e; stroke: #ff7f0e"/>
     <use href="#mcd47077251" x="441.9" y="793.8" style="fill: #ff7f0e; stroke: #ff7f0e"/>
     <use href="#mcd47077251" x="442.8" y="800.1" style="fill: #ff7f0e; stroke: #ff7f0e"/>
     <use href="#mcd47077251" x="444.6" y="784.8" style="fill: #ff7f0e; stroke: #ff7f0e"/>
     <use href="#mcd47077251" x="446.4" y="788.4" style="fill: #ff7f0e; stroke: #ff7f0e"/>
     <use href="#mcd47077251" x="449.1" y="793.8" style="fill: #ff7f0e; stroke: #ff7f0e"/>
     <use href="#mcd47077251" x="450.9" y="787.5" style="fill: #ff7f0e; stroke: #ff7f0e"/>
     <use href="#mcd47077251" x="452.7" y="789.3" style="fill: #ff7f0e; stroke: #ff7f0e"/>
     <use href="#mcd47077251" x="455.4" y="790.2" style="fill: #ff7f0e; stroke: #ff7f0e"/>
     <use href="#mcd47077251" x="457.2" y="799.2" style="fill: #ff7f0e; stroke: #ff7f0e"/>
     <use href="#mcd47077251" x="458.1" y="808.2" style="fill: #ff7f0e; stroke: #ff7f0e"/>
     <use href="#mcd47077251" x="460.8" y="797.4" style="fill: #ff7f0e; stroke: #ff7f0e"/>
     <use href="#mcd47077251" x="462.6" y="803.7" style="fill: #ff7f0e; stroke: #ff7f0e"/>
     <use href="#mcd47077251" x="464.4" y="797.4" style="fill: #ff7f0e; stroke: #ff7f0e"/>
     <use href="#mcd47077251" x="466.2" y="816.3" style="fill: #ff7f0e; stroke: #ff7f0e"/>
     <use href="#mcd47077251" x="468.216" y="799.2" style="fill: #ff7f0e; stroke: #ff7f0e"/>
     <use href="#mcd47077251" x="468.9" y="810" style="fill: #ff7f0e; stroke: #ff7f0e"/>
     <use href="#mcd47077251" x="470.232" y="800.568" style="fill: #ff7f0e; stroke: #ff7f0e"/>
     <use href="#mcd47077251" x="471.6" y="807.984" style="fill: #ff7f0e; stroke: #ff7f0e"/>
     <use href="#mcd47077251" x="473.616" y="815.4" style="fill: #ff7f0e; stroke: #ff7f0e"/>
     <use href="#mcd47077251" x="475.632" y="812.7" style="fill: #ff7f0e; stroke: #ff7f0e"/>
     <use href="#mcd47077251" x="478.368" y="797.184" style="fill: #ff7f0e; stroke: #ff7f0e"/>
     <use href="#mcd47077251" x="479.016" y="784.368" style="fill: #ff7f0e; stroke: #ff7f0e"/>
     <use href="#mcd47077251" x="480.384" y="816.048" style="fill: #ff7f0e; stroke: #ff7f0e"/>
     <use href="#mcd47077251" x="481.032" y="814.032" style="fill: #ff7f0e; stroke: #ff7f0e"/>
     <use href="#mcd47077251" x="482.4" y="807.3" style="fill: #ff7f0e; stroke: #ff7f0e"/>
     <use href="#mcd47077251" x="483.048" y="800.568" style="fill: #ff7f0e; stroke: #ff7f0e"/>
     <use href="#mcd47077251" x="486.432" y="800.568" style="fill: #ff7f0e; stroke: #ff7f0e"/>
     <use href="#mcd47077251" x="487.152" y="807.3" style="fill: #ff7f0e; stroke: #ff7f0e"/>
     <use href="#mcd47077251" x="489.168" y="818.1" style="fill: #ff7f0e; stroke: #ff7f0e"/>
     <use href="#mcd47077251" x="489.816" y="814.752" style="fill: #ff7f0e; stroke: #ff7f0e"/>
     <use href="#mcd47077251" x="491.832" y="804.6" style="fill: #ff7f0e; stroke: #ff7f0e"/>
     <use href="#mcd47077251" x="493.2" y="802.584" style="fill: #ff7f0e; stroke: #ff7f0e"/>
     <use href="#mcd47077251" x="495.9" y="822.168" style="fill: #ff7f0e; stroke: #ff7f0e"/>
     <use href="#mcd47077251" x="496.584" y="810" style="fill: #ff7f0e; stroke: #ff7f0e"/>
     <use href="#mcd47077251" x="497.952" y="815.4" style="fill: #ff7f0e; stroke: #ff7f0e"/>
     <use href="#mcd47077251" x="499.248" y="807.3" style="fill: #ff7f0e; stroke: #ff7f0e"/>
     <use href="#mcd47077251" x="501.3" y="800.568" style="fill: #ff7f0e; stroke: #ff7f0e"/>
     <use href="#mcd47077251" x="502.632" y="810" style="fill: #ff7f0e; stroke: #ff7f0e"/>
     <use href="#mcd47077251" x="504" y="805.248" style="fill: #ff7f0e; stroke: #ff7f0e"/>
     <use href="#mcd47077251" x="504.648" y="816.048" style="fill: #ff7f0e; stroke: #ff7f0e"/>
     <use href="#mcd47077251" x="507.384" y="803.232" style="fill: #ff7f0e; stroke: #ff7f0e"/>
     <use href="#mcd47077251" x="508.752" y="810" style="fill: #ff7f0e; stroke: #ff7f0e"/>
     <use href="#mcd47077251" x="511.416" y="815.4" style="fill: #ff7f0e; stroke: #ff7f0e"/>
     <use href="#mcd47077251" x="512.784" y="806.616" style="fill: #ff7f0e; stroke: #ff7f0e"/>
     <use href="#mcd47077251" x="515.448" y="804.6" style="fill: #ff7f0e; stroke: #ff7f0e"/>
     <use href="#mcd47077251" x="516.816" y="810" style="fill: #ff7f0e; stroke: #ff7f0e"/>
     <use href="#mcd47077251" x="518.832" y="816.048" style="fill: #ff7f0e; stroke: #ff7f0e"/>
     <use href="#mcd47077251" x="520.848" y="801.216" style="fill: #ff7f0e; stroke: #ff7f0e"/>
     <use href="#mcd47077251" x="522.216" y="808.632" style="fill: #ff7f0e; stroke: #ff7f0e"/>
     <use href="#mcd47077251" x="524.232" y="804.6" style="fill: #ff7f0e; stroke: #ff7f0e"/>
     <use href="#mcd47077251" x="525.6" y="801.9" style="fill: #ff7f0e; stroke: #ff7f0e"/>
     <use href="#mcd47077251" x="526.968" y="816.048" style="fill: #ff7f0e; stroke: #ff7f0e"/>
     <use href="#mcd47077251" x="528.984" y="809.28" style="fill: #ff7f0e; stroke: #ff7f0e"/>
     <use href="#mcd47077251" x="531.648" y="805.968" style="fill: #ff7f0e; stroke: #ff7f0e"/>
     <use href="#mcd47077251" x="535.752" y="800.568" style="fill: #ff7f0e; stroke: #ff7f0e"/>
     <use href="#mcd47077251" x="537.768" y="812.7" style="fill: #ff7f0e; stroke: #ff7f0e"/>
     <use href="#mcd47077251" x="539.1" y="803.232" style="fill: #ff7f0e; stroke: #ff7f0e"/>
     <use href="#mcd47077251" x="541.152" y="800.568" style="fill: #ff7f0e; stroke: #ff7f0e"/>
     <use href="#mcd47077251" x="542.448" y="816.768" style="fill: #ff7f0e; stroke: #ff7f0e"/>
     <use href="#mcd47077251" x="543.816" y="820.8" style="fill: #ff7f0e; stroke: #ff7f0e"/>
     <use href="#mcd47077251" x="545.184" y="804.6" style="fill: #ff7f0e; stroke: #ff7f0e"/>
     <use href="#mcd47077251" x="546.552" y="808.632" style="fill: #ff7f0e; stroke: #ff7f0e"/>
     <use href="#mcd47077251" x="547.2" y="814.032" style="fill: #ff7f0e; stroke: #ff7f0e"/>
     <use href="#mcd47077251" x="548.568" y="822.816" style="fill: #ff7f0e; stroke: #ff7f0e"/>
     <use href="#mcd47077251" x="549.216" y="801.9" style="fill: #ff7f0e; stroke: #ff7f0e"/>
     <use href="#mcd47077251" x="552.6" y="799.848" style="fill: #ff7f0e; stroke: #ff7f0e"/>
     <use href="#mcd47077251" x="553.968" y="811.368" style="fill: #ff7f0e; stroke: #ff7f0e"/>
     <use href="#mcd47077251" x="555.3" y="820.8" style="fill: #ff7f0e; stroke: #ff7f0e"/>
     <use href="#mcd47077251" x="558" y="822.816" style="fill: #ff7f0e; stroke: #ff7f0e"/>
     <use href="#mcd47077251" x="560.7" y="823.5" style="fill: #ff7f0e; stroke: #ff7f0e"/>
     <use href="#mcd47077251" x="562.752" y="752.616" style="fill: #ff7f0e; stroke: #ff7f0e"/>
     <use href="#mcd47077251" x="55.548" y="824.058772" style="fill: #ff7f0e; stroke: #ff7f0e"/>
     <use href="#mcd47077251" x="56.64168" y="824.710161" style="fill: #ff7f0e; stroke: #ff7f0e"/>
     <use href="#mcd47077251" x="57.73536" y="824.001204" style="fill: #ff7f0e; stroke: #ff7f0e"/>
     <use href="#mcd47077251" x="58.82904" y="823.991817" style="fill: #ff7f0e; stroke: #ff7f0e"/>
     <use href="#mcd47077251" x="59.92272" y="824.151496" style="fill: #ff7f0e; stroke: #ff7f0e"/>
     <use href="#mcd47077251" x="61.0164" y="824.039787" style="fill: #ff7f0e; stroke: #ff7f0e"/>
     <use href="#mcd47077251" x="62.11008" y="824.451537" style="fill: #ff7f0e; stroke: #ff7f0e"/>
     <use href="#mcd47077251" x="63.20376" y="823.931714" style="fill: #ff7f0e; stroke: #ff7f0e"/>
     <use href="#mcd47077251" x="64.29744" y="824.662946" style="fill: #ff7f0e; stroke: #ff7f0e"/>
     <use href="#mcd47077251" x="65.39112" y="824.62721" style="fill: #ff7f0e; stroke: #ff7f0e"/>
     <use href="#mcd47077251" x="66.4848" y="823.826646" style="fill: #ff7f0e; stroke: #ff7f0e"/>
     <use href="#mcd47077251" x="67.57848" y="824.330812" style="fill: #ff7f0e; stroke: #ff7f0e"/>
     <use href="#mcd47077251" x="68.67216" y="823.924013" style="fill: #ff7f0e; stroke: #ff7f0e"/>
     <use href="#mcd47077251" x="69.76584" y="824.065446" style="fill: #ff7f0e; stroke: #ff7f0e"/>
     <use href="#mcd47077251" x="70.85952" y="824.214215" style="fill: #ff7f0e; stroke: #ff7f0e"/>
     <use href="#mcd47077251" x="71.9532" y="824.248585" style="fill: #ff7f0e; stroke: #ff7f0e"/>
     <use href="#mcd47077251" x="73.04688" y="824.262185" style="fill: #ff7f0e; stroke: #ff7f0e"/>
     <use href="#mcd47077251" x="74.14056" y="824.692156" style="fill: #ff7f0e; stroke: #ff7f0e"/>
     <use href="#mcd47077251" x="75.23424" y="824.06621" style="fill: #ff7f0e; stroke: #ff7f0e"/>
     <use href="#mcd47077251" x="76.32792" y="823.999865" style="fill: #ff7f0e; stroke: #ff7f0e"/>
     <use href="#mcd47077251" x="77.4216" y="824.451598" style="fill: #ff7f0e; stroke: #ff7f0e"/>
     <use href="#mcd47077251" x="78.51528" y="824.710035" style="fill: #ff7f0e; stroke: #ff7f0e"/>
     <use href="#mcd47077251" x="79.60896" y="824.687751" style="fill: #ff7f0e; stroke: #ff7f0e"/>
     <use href="#mcd47077251" x="80.70264" y="824.647914" style="fill: #ff7f0e; stroke: #ff7f0e"/>
     <use href="#mcd47077251" x="81.79632" y="823.884237" style="fill: #ff7f0e; stroke: #ff7f0e"/>
     <use href="#mcd47077251" x="85.07736" y="817.56" style="fill: #ff7f0e; stroke: #ff7f0e"/>
     <use href="#mcd47077251" x="88.3584" y="816.519252" style="fill: #ff7f0e; stroke: #ff7f0e"/>
     <use href="#mcd47077251" x="89.45208" y="815.494776" style="fill: #ff7f0e; stroke: #ff7f0e"/>
     <use href="#mcd47077251" x="91.63944" y="814.405521" style="fill: #ff7f0e; stroke: #ff7f0e"/>
     <use href="#mcd47077251" x="93.8268" y="812.196" style="fill: #ff7f0e; stroke: #ff7f0e"/>
     <use href="#mcd47077251" x="94.92048" y="814.534664" style="fill: #ff7f0e; stroke: #ff7f0e"/>
     <use href="#mcd47077251" x="99.2952" y="811.041424" style="fill: #ff7f0e; stroke: #ff7f0e"/>
     <use href="#mcd47077251" x="102.57624" y="812.213703" style="fill: #ff7f0e; stroke: #ff7f0e"/>
     <use href="#mcd47077251" x="104.7636" y="806.112" style="fill: #ff7f0e; stroke: #ff7f0e"/>
     <use href="#mcd47077251" x="106.95096" y="809.229494" style="fill: #ff7f0e; stroke: #ff7f0e"/>
     <use href="#mcd47077251" x="109.13832" y="810.936628" style="fill: #ff7f0e; stroke: #ff7f0e"/>
     <use href="#mcd47077251" x="114.60672" y="810.612028" style="fill: #ff7f0e; stroke: #ff7f0e"/>
     <use href="#mcd47077251" x="116.79408" y="810.074898" style="fill: #ff7f0e; stroke: #ff7f0e"/>
     <use href="#mcd47077251" x="118.98144" y="812.966216" style="fill: #ff7f0e; stroke: #ff7f0e"/>
     <use href="#mcd47077251" x="121.1688" y="812.925" style="fill: #ff7f0e; stroke: #ff7f0e"/>
     <use href="#mcd47077251" x="124.44984" y="813.959985" style="fill: #ff7f0e; stroke: #ff7f0e"/>
     <use href="#mcd47077251" x="125.54352" y="811.914734" style="fill: #ff7f0e; stroke: #ff7f0e"/>
     <use href="#mcd47077251" x="131.01192" y="815.969574" style="fill: #ff7f0e; stroke: #ff7f0e"/>
     <use href="#mcd47077251" x="135.38664" y="813.358107" style="fill: #ff7f0e; stroke: #ff7f0e"/>
     <use href="#mcd47077251" x="136.48032" y="814.715316" style="fill: #ff7f0e; stroke: #ff7f0e"/>
     <use href="#mcd47077251" x="139.76136" y="814.378298" style="fill: #ff7f0e; stroke: #ff7f0e"/>
     <use href="#mcd47077251" x="140.85504" y="812.256038" style="fill: #ff7f0e; stroke: #ff7f0e"/>
     <use href="#mcd47077251" x="143.0424" y="810.9" style="fill: #ff7f0e; stroke: #ff7f0e"/>
     <use href="#mcd47077251" x="144.13608" y="812.904571" style="fill: #ff7f0e; stroke: #ff7f0e"/>
     <use href="#mcd47077251" x="146.32344" y="815.741767" style="fill: #ff7f0e; stroke: #ff7f0e"/>
     <use href="#mcd47077251" x="148.5108" y="813.378874" style="fill: #ff7f0e; stroke: #ff7f0e"/>
     <use href="#mcd47077251" x="150.69816" y="814.34976" style="fill: #ff7f0e; stroke: #ff7f0e"/>
     <use href="#mcd47077251" x="151.79184" y="815.827211" style="fill: #ff7f0e; stroke: #ff7f0e"/>
     <use href="#mcd47077251" x="155.07288" y="813.171472" style="fill: #ff7f0e; stroke: #ff7f0e"/>
     <use href="#mcd47077251" x="157.26024" y="817.800189" style="fill: #ff7f0e; stroke: #ff7f0e"/>
     <use href="#mcd47077251" x="158.35392" y="818.846655" style="fill: #ff7f0e; stroke: #ff7f0e"/>
     <use href="#mcd47077251" x="160.54128" y="816.113998" style="fill: #ff7f0e; stroke: #ff7f0e"/>
     <use href="#mcd47077251" x="162.72864" y="815.741092" style="fill: #ff7f0e; stroke: #ff7f0e"/>
     <use href="#mcd47077251" x="164.916" y="817.2" style="fill: #ff7f0e; stroke: #ff7f0e"/>
     <use href="#mcd47077251" x="167.10336" y="817.2" style="fill: #ff7f0e; stroke: #ff7f0e"/>
     <use href="#mcd47077251" x="168.19704" y="816.679197" style="fill: #ff7f0e; stroke: #ff7f0e"/>
     <use href="#mcd47077251" x="170.3844" y="816.303715" style="fill: #ff7f0e; stroke: #ff7f0e"/>
     <use href="#mcd47077251" x="172.57176" y="816.782417" style="fill: #ff7f0e; stroke: #ff7f0e"/>
     <use href="#mcd47077251" x="173.66544" y="811.52728" style="fill: #ff7f0e; stroke: #ff7f0e"/>
     <use href="#mcd47077251" x="175.8528" y="813.726552" style="fill: #ff7f0e; stroke: #ff7f0e"/>
     <use href="#mcd47077251" x="178.04016" y="815.227521" style="fill: #ff7f0e; stroke: #ff7f0e"/>
     <use href="#mcd47077251" x="180.22752" y="814.531797" style="fill: #ff7f0e; stroke: #ff7f0e"/>
     <use href="#mcd47077251" x="182.41488" y="810.033777" style="fill: #ff7f0e; stroke: #ff7f0e"/>
     <use href="#mcd47077251" x="183.50856" y="808.425" style="fill: #ff7f0e; stroke: #ff7f0e"/>
     <use href="#mcd47077251" x="185.69592" y="810" style="fill: #ff7f0e; stroke: #ff7f0e"/>
     <use href="#mcd47077251" x="186.7896" y="811.958042" style="fill: #ff7f0e; stroke: #ff7f0e"/>
     <use href="#mcd47077251" x="188.97696" y="808.297887" style="fill: #ff7f0e; stroke: #ff7f0e"/>
     <use href="#mcd47077251" x="192.258" y="804.362686" style="fill: #ff7f0e; stroke: #ff7f0e"/>
     <use href="#mcd47077251" x="193.35168" y="813.596911" style="fill: #ff7f0e; stroke: #ff7f0e"/>
     <use href="#mcd47077251" x="195.53904" y="813.6" style="fill: #ff7f0e; stroke: #ff7f0e"/>
     <use href="#mcd47077251" x="197.7264" y="798.684098" style="fill: #ff7f0e; stroke: #ff7f0e"/>
     <use href="#mcd47077251" x="201.00744" y="804.263649" style="fill: #ff7f0e; stroke: #ff7f0e"/>
     <use href="#mcd47077251" x="204.28848" y="789.058247" style="fill: #ff7f0e; stroke: #ff7f0e"/>
     <use href="#mcd47077251" x="206.47584" y="787.5" style="fill: #ff7f0e; stroke: #ff7f0e"/>
     <use href="#mcd47077251" x="208.6632" y="797.448517" style="fill: #ff7f0e; stroke: #ff7f0e"/>
     <use href="#mcd47077251" x="214.1316" y="790.561246" style="fill: #ff7f0e; stroke: #ff7f0e"/>
     <use href="#mcd47077251" x="219.6" y="785.21905" style="fill: #ff7f0e; stroke: #ff7f0e"/>
     <use href="#mcd47077251" x="225.0684" y="784.151018" style="fill: #ff7f0e; stroke: #ff7f0e"/>
     <use href="#mcd47077251" x="231.63048" y="788.791844" style="fill: #ff7f0e; stroke: #ff7f0e"/>
     <use href="#mcd47077251" x="236.0052" y="786.67152" style="fill: #ff7f0e; stroke: #ff7f0e"/>
     <use href="#mcd47077251" x="240.37992" y="777.348957" style="fill: #ff7f0e; stroke: #ff7f0e"/>
     <use href="#mcd47077251" x="243.66096" y="791.08689" style="fill: #ff7f0e; stroke: #ff7f0e"/>
     <use href="#mcd47077251" x="245.84832" y="794.398166" style="fill: #ff7f0e; stroke: #ff7f0e"/>
     <use href="#mcd47077251" x="250.22304" y="793.713619" style="fill: #ff7f0e; stroke: #ff7f0e"/>
     <use href="#mcd47077251" x="254.59776" y="789.301793" style="fill: #ff7f0e; stroke: #ff7f0e"/>
     <use href="#mcd47077251" x="258.97248" y="804.049866" style="fill: #ff7f0e; stroke: #ff7f0e"/>
     <use href="#mcd47077251" x="269.90928" y="795.564333" style="fill: #ff7f0e; stroke: #ff7f0e"/>
     <use href="#mcd47077251" x="272.09664" y="802.205167" style="fill: #ff7f0e; stroke: #ff7f0e"/>
     <use href="#mcd47077251" x="274.284" y="795.971045" style="fill: #ff7f0e; stroke: #ff7f0e"/>
     <use href="#mcd47077251" x="279.7524" y="800.888637" style="fill: #ff7f0e; stroke: #ff7f0e"/>
     <use href="#mcd47077251" x="281.93976" y="786.15" style="fill: #ff7f0e; stroke: #ff7f0e"/>
     <use href="#mcd47077251" x="287.40816" y="800.863349" style="fill: #ff7f0e; stroke: #ff7f0e"/>
     <use href="#mcd47077251" x="289.59552" y="794.196103" style="fill: #ff7f0e; stroke: #ff7f0e"/>
     <use href="#mcd47077251" x="291.78288" y="788.471156" style="fill: #ff7f0e; stroke: #ff7f0e"/>
     <use href="#mcd47077251" x="298.34496" y="792.041317" style="fill: #ff7f0e; stroke: #ff7f0e"/>
     <use href="#mcd47077251" x="300.53232" y="788.4" style="fill: #ff7f0e; stroke: #ff7f0e"/>
     <use href="#mcd47077251" x="304.90704" y="800.515724" style="fill: #ff7f0e; stroke: #ff7f0e"/>
     <use href="#mcd47077251" x="307.0944" y="806.329205" style="fill: #ff7f0e; stroke: #ff7f0e"/>
     <use href="#mcd47077251" x="310.37544" y="805.95" style="fill: #ff7f0e; stroke: #ff7f0e"/>
     <use href="#mcd47077251" x="312.5628" y="806.094615" style="fill: #ff7f0e; stroke: #ff7f0e"/>
     <use href="#mcd47077251" x="315.84384" y="810.465251" style="fill: #ff7f0e; stroke: #ff7f0e"/>
     <use href="#mcd47077251" x="316.93752" y="812.392946" style="fill: #ff7f0e; stroke: #ff7f0e"/>
     <use href="#mcd47077251" x="321.31224" y="813.390308" style="fill: #ff7f0e; stroke: #ff7f0e"/>
     <use href="#mcd47077251" x="324.59328" y="810.833471" style="fill: #ff7f0e; stroke: #ff7f0e"/>
     <use href="#mcd47077251" x="325.68696" y="809.285076" style="fill: #ff7f0e; stroke: #ff7f0e"/>
     <use href="#mcd47077251" x="330.06168" y="810.625507" style="fill: #ff7f0e; stroke: #ff7f0e"/>
     <use href="#mcd47077251" x="332.24904" y="811.575" style="fill: #ff7f0e; stroke: #ff7f0e"/>
     <use href="#mcd47077251" x="333.34272" y="807.188844" style="fill: #ff7f0e; stroke: #ff7f0e"/>
     <use href="#mcd47077251" x="335.53008" y="809.438024" style="fill: #ff7f0e; stroke: #ff7f0e"/>
     <use href="#mcd47077251" x="337.71744" y="802.8" style="fill: #ff7f0e; stroke: #ff7f0e"/>
     <use href="#mcd47077251" x="339.9048" y="809.161552" style="fill: #ff7f0e; stroke: #ff7f0e"/>
     <use href="#mcd47077251" x="342.09216" y="804.705735" style="fill: #ff7f0e; stroke: #ff7f0e"/>
     <use href="#mcd47077251" x="343.18584" y="806.996605" style="fill: #ff7f0e; stroke: #ff7f0e"/>
     <use href="#mcd47077251" x="346.46688" y="804.864965" style="fill: #ff7f0e; stroke: #ff7f0e"/>
     <use href="#mcd47077251" x="347.56056" y="801.782869" style="fill: #ff7f0e; stroke: #ff7f0e"/>
     <use href="#mcd47077251" x="349.74792" y="803.357656" style="fill: #ff7f0e; stroke: #ff7f0e"/>
     <use href="#mcd47077251" x="351.93528" y="802.55085" style="fill: #ff7f0e; stroke: #ff7f0e"/>
     <use href="#mcd47077251" x="354.12264" y="797.80364" style="fill: #ff7f0e; stroke: #ff7f0e"/>
     <use href="#mcd47077251" x="355.21632" y="798.525" style="fill: #ff7f0e; stroke: #ff7f0e"/>
     <use href="#mcd47077251" x="357.40368" y="799.197817" style="fill: #ff7f0e; stroke: #ff7f0e"/>
     <use href="#mcd47077251" x="358.49736" y="795.274238" style="fill: #ff7f0e; stroke: #ff7f0e"/>
     <use href="#mcd47077251" x="360.68472" y="798.975" style="fill: #ff7f0e; stroke: #ff7f0e"/>
     <use href="#mcd47077251" x="362.87208" y="793.874266" style="fill: #ff7f0e; stroke: #ff7f0e"/>
     <use href="#mcd47077251" x="366.15312" y="794.077377" style="fill: #ff7f0e; stroke: #ff7f0e"/>
     <use href="#mcd47077251" x="368.34048" y="797.07464" style="fill: #ff7f0e; stroke: #ff7f0e"/>
     <use href="#mcd47077251" x="371.62152" y="795.15" style="fill: #ff7f0e; stroke: #ff7f0e"/>
     <use href="#mcd47077251" x="373.80888" y="796.660593" style="fill: #ff7f0e; stroke: #ff7f0e"/>
     <use href="#mcd47077251" x="378.1836" y="805.05" style="fill: #ff7f0e; stroke: #ff7f0e"/>
     <use href="#mcd47077251" x="383.652" y="798.104221" style="fill: #ff7f0e; stroke: #ff7f0e"/>
     <use href="#mcd47077251" x="385.83936" y="791.509058" style="fill: #ff7f0e; stroke: #ff7f0e"/>
     <use href="#mcd47077251" x="389.1204" y="781.607376" style="fill: #ff7f0e; stroke: #ff7f0e"/>
     <use href="#mcd47077251" x="391.30776" y="795.65554" style="fill: #ff7f0e; stroke: #ff7f0e"/>
     <use href="#mcd47077251" x="393.49512" y="795.82907" style="fill: #ff7f0e; stroke: #ff7f0e"/>
     <use href="#mcd47077251" x="395.68248" y="786.96411" style="fill: #ff7f0e; stroke: #ff7f0e"/>
     <use href="#mcd47077251" x="398.96352" y="781.167858" style="fill: #ff7f0e; stroke: #ff7f0e"/>
     <use href="#mcd47077251" x="403.33824" y="784.302753" style="fill: #ff7f0e; stroke: #ff7f0e"/>
     <use href="#mcd47077251" x="407.71296" y="782.45918" style="fill: #ff7f0e; stroke: #ff7f0e"/>
     <use href="#mcd47077251" x="410.994" y="779.804482" style="fill: #ff7f0e; stroke: #ff7f0e"/>
     <use href="#mcd47077251" x="413.18136" y="786.6" style="fill: #ff7f0e; stroke: #ff7f0e"/>
     <use href="#mcd47077251" x="416.4624" y="768.15" style="fill: #ff7f0e; stroke: #ff7f0e"/>
     <use href="#mcd47077251" x="418.64976" y="767.7" style="fill: #ff7f0e; stroke: #ff7f0e"/>
     <use href="#mcd47077251" x="421.9308" y="783.947035" style="fill: #ff7f0e; stroke: #ff7f0e"/>
     <use href="#mcd47077251" x="424.11816" y="780.057213" style="fill: #ff7f0e; stroke: #ff7f0e"/>
     <use href="#mcd47077251" x="429.58656" y="781.264578" style="fill: #ff7f0e; stroke: #ff7f0e"/>
     <use href="#mcd47077251" x="432.8676" y="788.493441" style="fill: #ff7f0e; stroke: #ff7f0e"/>
     <use href="#mcd47077251" x="437.24232" y="790.804439" style="fill: #ff7f0e; stroke: #ff7f0e"/>
     <use href="#mcd47077251" x="439.42968" y="791.933633" style="fill: #ff7f0e; stroke: #ff7f0e"/>
     <use href="#mcd47077251" x="443.8044" y="789.430997" style="fill: #ff7f0e; stroke: #ff7f0e"/>
     <use href="#mcd47077251" x="447.08544" y="792.336356" style="fill: #ff7f0e; stroke: #ff7f0e"/>
     <use href="#mcd47077251" x="448.17912" y="790.26306" style="fill: #ff7f0e; stroke: #ff7f0e"/>
     <use href="#mcd47077251" x="451.46016" y="788.625" style="fill: #ff7f0e; stroke: #ff7f0e"/>
     <use href="#mcd47077251" x="453.64752" y="791.278408" style="fill: #ff7f0e; stroke: #ff7f0e"/>
     <use href="#mcd47077251" x="454.7412" y="798.102332" style="fill: #ff7f0e; stroke: #ff7f0e"/>
     <use href="#mcd47077251" x="459.11592" y="793.834124" style="fill: #ff7f0e; stroke: #ff7f0e"/>
     <use href="#mcd47077251" x="460.2096" y="799.445504" style="fill: #ff7f0e; stroke: #ff7f0e"/>
     <use href="#mcd47077251" x="463.49064" y="800.18502" style="fill: #ff7f0e; stroke: #ff7f0e"/>
     <use href="#mcd47077251" x="466.77168" y="799.271469" style="fill: #ff7f0e; stroke: #ff7f0e"/>
     <use href="#mcd47077251" x="472.24008" y="805.430573" style="fill: #ff7f0e; stroke: #ff7f0e"/>
     <use href="#mcd47077251" x="474.42744" y="808.478671" style="fill: #ff7f0e; stroke: #ff7f0e"/>
     <use href="#mcd47077251" x="476.6148" y="809.144096" style="fill: #ff7f0e; stroke: #ff7f0e"/>
     <use href="#mcd47077251" x="477.70848" y="809.511174" style="fill: #ff7f0e; stroke: #ff7f0e"/>
     <use href="#mcd47077251" x="484.27056" y="800.568" style="fill: #ff7f0e; stroke: #ff7f0e"/>
     <use href="#mcd47077251" x="485.36424" y="805.919054" style="fill: #ff7f0e; stroke: #ff7f0e"/>
     <use href="#mcd47077251" x="490.83264" y="809.897499" style="fill: #ff7f0e; stroke: #ff7f0e"/>
     <use href="#mcd47077251" x="494.11368" y="815.412308" style="fill: #ff7f0e; stroke: #ff7f0e"/>
     <use href="#mcd47077251" x="495.20736" y="812.357763" style="fill: #ff7f0e; stroke: #ff7f0e"/>
     <use href="#mcd47077251" x="497.39472" y="811.35" style="fill: #ff7f0e; stroke: #ff7f0e"/>
     <use href="#mcd47077251" x="500.67576" y="813.50702" style="fill: #ff7f0e; stroke: #ff7f0e"/>
     <use href="#mcd47077251" x="506.14416" y="812.257394" style="fill: #ff7f0e; stroke: #ff7f0e"/>
     <use href="#mcd47077251" x="509.4252" y="804.924" style="fill: #ff7f0e; stroke: #ff7f0e"/>
     <use href="#mcd47077251" x="510.51888" y="808.439769" style="fill: #ff7f0e; stroke: #ff7f0e"/>
     <use href="#mcd47077251" x="513.79992" y="808.350784" style="fill: #ff7f0e; stroke: #ff7f0e"/>
     <use href="#mcd47077251" x="514.8936" y="805.608" style="fill: #ff7f0e; stroke: #ff7f0e"/>
     <use href="#mcd47077251" x="518.17464" y="804.6" style="fill: #ff7f0e; stroke: #ff7f0e"/>
     <use href="#mcd47077251" x="521.45568" y="811.512" style="fill: #ff7f0e; stroke: #ff7f0e"/>
     <use href="#mcd47077251" x="523.64304" y="805.45811" style="fill: #ff7f0e; stroke: #ff7f0e"/>
     <use href="#mcd47077251" x="528.01776" y="804.942" style="fill: #ff7f0e; stroke: #ff7f0e"/>
     <use href="#mcd47077251" x="530.20512" y="803.778334" style="fill: #ff7f0e; stroke: #ff7f0e"/>
     <use href="#mcd47077251" x="532.39248" y="812.7" style="fill: #ff7f0e; stroke: #ff7f0e"/>
     <use href="#mcd47077251" x="533.48616" y="807.50414" style="fill: #ff7f0e; stroke: #ff7f0e"/>
     <use href="#mcd47077251" x="534.57984" y="806.844224" style="fill: #ff7f0e; stroke: #ff7f0e"/>
     <use href="#mcd47077251" x="536.7672" y="803.772135" style="fill: #ff7f0e; stroke: #ff7f0e"/>
     <use href="#mcd47077251" x="540.04824" y="806.319506" style="fill: #ff7f0e; stroke: #ff7f0e"/>
     <use href="#mcd47077251" x="544.42296" y="823.308571" style="fill: #ff7f0e; stroke: #ff7f0e"/>
     <use href="#mcd47077251" x="545.51664" y="824.00117" style="fill: #ff7f0e; stroke: #ff7f0e"/>
     <use href="#mcd47077251" x="546.61032" y="823.404633" style="fill: #ff7f0e; stroke: #ff7f0e"/>
     <use href="#mcd47077251" x="547.704" y="824.404881" style="fill: #ff7f0e; stroke: #ff7f0e"/>
     <use href="#mcd47077251" x="548.79768" y="824.604319" style="fill: #ff7f0e; stroke: #ff7f0e"/>
     <use href="#mcd47077251" x="549.89136" y="823.171352" style="fill: #ff7f0e; stroke: #ff7f0e"/>
     <use href="#mcd47077251" x="550.98504" y="824.352774" style="fill: #ff7f0e; stroke: #ff7f0e"/>
     <use href="#mcd47077251" x="552.07872" y="824.103199" style="fill: #ff7f0e; stroke: #ff7f0e"/>
     <use href="#mcd47077251" x="553.1724" y="824.675779" style="fill: #ff7f0e; stroke: #ff7f0e"/>
     <use href="#mcd47077251" x="554.26608" y="823.286497" style="fill: #ff7f0e; stroke: #ff7f0e"/>
     <use href="#mcd47077251" x="555.35976" y="824.282472" style="fill: #ff7f0e; stroke: #ff7f0e"/>
     <use href="#mcd47077251" x="556.45344" y="823.533623" style="fill: #ff7f0e; stroke: #ff7f0e"/>
     <use href="#mcd47077251" x="557.54712" y="823.303802" style="fill: #ff7f0e; stroke: #ff7f0e"/>
     <use href="#mcd47077251" x="558.6408" y="823.408485" style="fill: #ff7f0e; stroke: #ff7f0e"/>
     <use href="#mcd47077251" x="559.73448" y="824.581223" style="fill: #ff7f0e; stroke: #ff7f0e"/>
     <use href="#mcd47077251" x="560.82816" y="823.787511" style="fill: #ff7f0e; stroke: #ff7f0e"/>
     <use href="#mcd47077251" x="561.92184" y="823.711804" style="fill: #ff7f0e; stroke: #ff7f0e"/>
     <use href="#mcd47077251" x="563.01552" y="824.466867" style="fill: #ff7f0e; stroke: #ff7f0e"/>
     <use href="#mcd47077251" x="564.1092" y="824.44152" style="fill: #ff7f0e; stroke: #ff7f0e"/>
     <use href="#mcd47077251" x="565.20288" y="824.509729" style="fill: #ff7f0e; stroke: #ff7f0e"/>
    </g>
   </g>
   <g id="line2d_71">
    <path d="M 534.24 824.4 
L 534.24 426.24 
" clip-path="url(#p82a1acf33c)" style="fill: none; stroke-dasharray: 5.55,2.4; stroke-dashoffset: 7.806; stroke: #1f77b4; stroke-opacity: 0.5; stroke-width: 1.5"/>
   </g>
   <g id="patch_9">
    <path d="M 55.8000 824.7600
L 55.8000 426.6000
" style="fill: none; stroke: #000000; stroke-width: 0.8; stroke-linejoin: miter; stroke-linecap: square"/>
   </g>
   <g id="patch_10">
    <path d="M 565.5600 824.7600
L 565.5600 426.6000
" style="fill: none; stroke: #000000; stroke-width: 0.8; stroke-linejoin: miter; stroke-linecap: square"/>
   </g>
   <g id="patch_11">
    <path d="M 55.8000 824.7600
L 565.5600 824.7600
" style="fill: none; stroke: #000000; stroke-width: 0.8; stroke-linejoin: miter; stroke-linecap: square"/>
   </g>
   <g id="patch_12">
    <path d="M 55.8000 426.6000
L 565.5600 426.6000
" style="fill: none; stroke: #000000; stroke-width: 0.8; stroke-linejoin: miter; stroke-linecap: square"/>
   </g>
   <g id="legend_2">
    <g id="patch_13">
     <path d="M 62.8720 449.7461 L 156.7826 449.7461 Q 158.7826 449.7461 158.7826 447.7461 L 158.7826 433.7800 Q 158.7826 431.7800 156.7826 431.7800 L 62.8720 431.7800 Q 60.8720 431.7800 60.8720 433.7800 L 60.8720 447.7461 Q 60.8720 449.7461 62.8720 449.7461 z" style="fill: #ffffff; opacity: 0.8; stroke: #cccccc; stroke-linejoin: miter"/>
    </g>
    <g id="line2d_72" transform="translate(0.5040 0.0000)">
     <path d="M 64.548 439.338438 
L 74.548 439.338438 
L 84.548 439.338438 
" style="fill: none; stroke: #1f77b4; stroke-width: 1.5; stroke-linecap: square"/>
    </g>
    <g id="text_22">
     <text style="font-size: 10px; font-family: 'DejaVu Sans', 'Liberation Sans', sans-serif; text-anchor: start" x="92.548" y="442.838438" transform="translate(0.3600 0.0000) rotate(-0 92.548 442.838438)">daily deaths</text>
    </g>
   </g>
  </g>
  <g id="text_23">
   <text style="font-size: 12px; font-family: 'DejaVu Sans', 'Liberation Sans', sans-serif; text-anchor: middle" x="288" y="26.398125" transform="translate(-2.1600 -0.5760) rotate(-0 288 26.398125)">Florida 28 days</text>
  </g>
 </g>
 <defs>
  <clipPath id="p409145b264">
   <rect x="55.548" y="10.8" width="509.65488" height="398.16"/>
  </clipPath>
  <clipPath id="p82a1acf33c">
   <rect x="55.548" y="426.24" width="509.65488" height="398.16"/>
  </clipPath>
 </defs>
</svg>

</body></html>
